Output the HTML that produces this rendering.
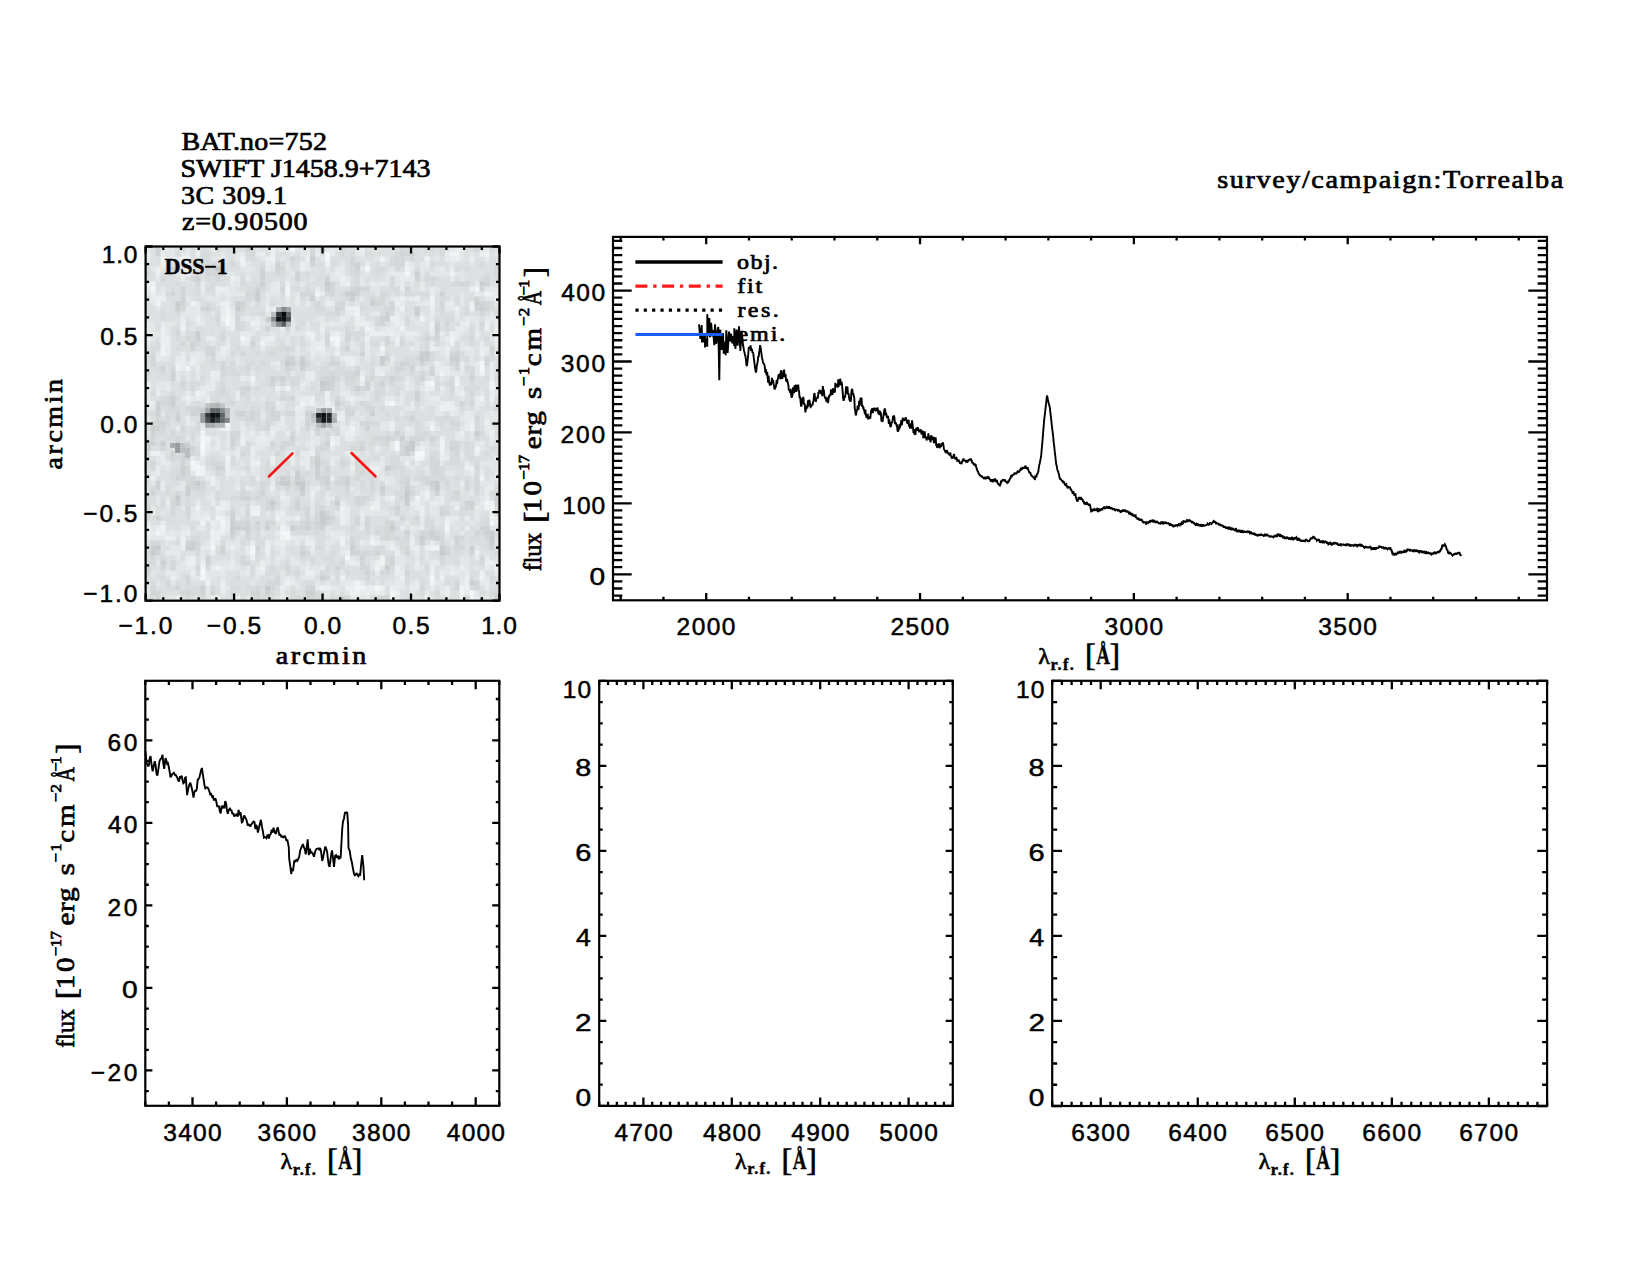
<!DOCTYPE html>
<html><head><meta charset="utf-8"><style>html,body{margin:0;padding:0;background:#fff;width:1650px;height:1275px;overflow:hidden}svg{display:block}</style></head><body>
<svg width="1650" height="1275" viewBox="0 0 1650 1275">
<rect x="0" y="0" width="1650" height="1275" fill="#fff"/>
<text transform="translate(181.46,150.40) scale(1.1200,1)" letter-spacing="0.192" style="font-variant-ligatures:none" font-family='"Liberation Serif", serif' font-weight="normal" font-size="25.00" fill="#000" stroke="#000" stroke-width="0.7" stroke-linejoin="round" >BAT.no=752</text>
<text transform="translate(180.48,177.40) scale(1.1200,1)" letter-spacing="-0.007" style="font-variant-ligatures:none" font-family='"Liberation Serif", serif' font-weight="normal" font-size="25.00" fill="#000" stroke="#000" stroke-width="0.7" stroke-linejoin="round" >SWIFT J1458.9+7143</text>
<text transform="translate(181.04,203.50) scale(1.1200,1)" letter-spacing="0.436" style="font-variant-ligatures:none" font-family='"Liberation Serif", serif' font-weight="normal" font-size="25.00" fill="#000" stroke="#000" stroke-width="0.7" stroke-linejoin="round" >3C 309.1</text>
<text transform="translate(181.90,229.70) scale(1.1200,1)" letter-spacing="0.730" style="font-variant-ligatures:none" font-family='"Liberation Serif", serif' font-weight="normal" font-size="25.00" fill="#000" stroke="#000" stroke-width="0.7" stroke-linejoin="round" >z=0.90500</text>
<text transform="translate(1217.27,187.80) scale(1.1200,1)" letter-spacing="1.399" style="font-variant-ligatures:none" font-family='"Liberation Serif", serif' font-weight="normal" font-size="25.20" fill="#000" stroke="#000" stroke-width="0.7" stroke-linejoin="round" >survey/campaign:Torrealba</text>
<rect x="145.6" y="246.5" width="353.90" height="354.20" fill="rgb(221,225,225)"/>
<path d="M145.6 246.5h5.0v4.98h-5.0zM160.6 246.5h5.0v4.98h-5.0zM170.5 246.5h5.0v4.98h-5.0zM185.5 246.5h5.0v4.98h-5.0zM255.3 246.5h5.0v4.98h-5.0zM265.2 246.5h5.0v4.98h-5.0zM275.2 246.5h5.0v4.98h-5.0zM285.2 246.5h5.0v4.98h-5.0zM295.1 246.5h15.0v4.98h-15.0zM315.1 246.5h5.0v4.98h-5.0zM325.0 246.5h5.0v4.98h-5.0zM335.0 246.5h5.0v4.98h-5.0zM354.9 246.5h5.0v4.98h-5.0zM165.5 251.5h10.0v4.98h-10.0zM180.5 251.5h5.0v4.98h-5.0zM220.4 251.5h5.0v4.98h-5.0zM235.3 251.5h5.0v4.98h-5.0zM290.2 251.5h5.0v4.98h-5.0zM300.1 251.5h5.0v4.98h-5.0zM354.9 251.5h5.0v4.98h-5.0zM459.6 251.5h5.0v4.98h-5.0zM469.6 251.5h5.0v4.98h-5.0zM494.5 251.5h5.0v4.98h-5.0zM170.5 256.5h5.0v4.98h-5.0zM210.4 256.5h10.0v4.98h-10.0zM235.3 256.5h5.0v4.98h-5.0zM260.2 256.5h5.0v4.98h-5.0zM280.2 256.5h5.0v4.98h-5.0zM320.1 256.5h5.0v4.98h-5.0zM374.9 256.5h5.0v4.98h-5.0zM384.9 256.5h5.0v4.98h-5.0zM434.7 256.5h5.0v4.98h-5.0zM459.6 256.5h5.0v4.98h-5.0zM175.5 261.5h5.0v4.98h-5.0zM220.4 261.5h5.0v4.98h-5.0zM245.3 261.5h5.0v4.98h-5.0zM285.2 261.5h5.0v4.98h-5.0zM340.0 261.5h5.0v4.98h-5.0zM379.9 261.5h5.0v4.98h-5.0zM409.8 261.5h5.0v4.98h-5.0zM419.7 261.5h5.0v4.98h-5.0zM449.7 261.5h5.0v4.98h-5.0zM469.6 261.5h5.0v4.98h-5.0zM150.6 266.4h5.0v4.98h-5.0zM160.6 266.4h5.0v4.98h-5.0zM180.5 266.4h5.0v4.98h-5.0zM190.5 266.4h5.0v4.98h-5.0zM240.3 266.4h15.0v4.98h-15.0zM270.2 266.4h5.0v4.98h-5.0zM285.2 266.4h5.0v4.98h-5.0zM305.1 266.4h5.0v4.98h-5.0zM325.0 266.4h5.0v4.98h-5.0zM359.9 266.4h5.0v4.98h-5.0zM389.8 266.4h5.0v4.98h-5.0zM419.7 266.4h10.0v4.98h-10.0zM434.7 266.4h5.0v4.98h-5.0zM175.5 271.4h5.0v4.98h-5.0zM225.4 271.4h10.0v4.98h-10.0zM245.3 271.4h5.0v4.98h-5.0zM290.2 271.4h5.0v4.98h-5.0zM330.0 271.4h5.0v4.98h-5.0zM364.9 271.4h5.0v4.98h-5.0zM384.9 271.4h5.0v4.98h-5.0zM409.8 271.4h5.0v4.98h-5.0zM419.7 271.4h5.0v4.98h-5.0zM429.7 271.4h19.9v4.98h-19.9zM454.6 271.4h10.0v4.98h-10.0zM155.6 276.4h5.0v4.98h-5.0zM285.2 276.4h5.0v4.98h-5.0zM310.1 276.4h5.0v4.98h-5.0zM330.0 276.4h10.0v4.98h-10.0zM359.9 276.4h5.0v4.98h-5.0zM384.9 276.4h5.0v4.98h-5.0zM394.8 276.4h5.0v4.98h-5.0zM459.6 276.4h5.0v4.98h-5.0zM235.3 281.4h5.0v4.98h-5.0zM270.2 281.4h5.0v4.98h-5.0zM300.1 281.4h5.0v4.98h-5.0zM359.9 281.4h5.0v4.98h-5.0zM374.9 281.4h5.0v4.98h-5.0zM384.9 281.4h5.0v4.98h-5.0zM394.8 281.4h5.0v4.98h-5.0zM409.8 281.4h5.0v4.98h-5.0zM160.6 286.4h5.0v4.98h-5.0zM230.3 286.4h5.0v4.98h-5.0zM369.9 286.4h10.0v4.98h-10.0zM434.7 286.4h5.0v4.98h-5.0zM484.5 286.4h15.0v4.98h-15.0zM145.6 291.4h5.0v4.98h-5.0zM155.6 291.4h5.0v4.98h-5.0zM200.4 291.4h5.0v4.98h-5.0zM220.4 291.4h5.0v4.98h-5.0zM230.3 291.4h15.0v4.98h-15.0zM270.2 291.4h10.0v4.98h-10.0zM295.1 291.4h5.0v4.98h-5.0zM374.9 291.4h5.0v4.98h-5.0zM459.6 291.4h5.0v4.98h-5.0zM479.6 291.4h5.0v4.98h-5.0zM185.5 296.3h5.0v4.98h-5.0zM205.4 296.3h15.0v4.98h-15.0zM225.4 296.3h5.0v4.98h-5.0zM265.2 296.3h5.0v4.98h-5.0zM315.1 296.3h5.0v4.98h-5.0zM325.0 296.3h5.0v4.98h-5.0zM359.9 296.3h5.0v4.98h-5.0zM389.8 296.3h5.0v4.98h-5.0zM404.8 296.3h5.0v4.98h-5.0zM449.7 296.3h5.0v4.98h-5.0zM459.6 296.3h5.0v4.98h-5.0zM484.5 296.3h10.0v4.98h-10.0zM150.6 301.3h5.0v4.98h-5.0zM215.4 301.3h5.0v4.98h-5.0zM250.3 301.3h5.0v4.98h-5.0zM285.2 301.3h5.0v4.98h-5.0zM345.0 301.3h5.0v4.98h-5.0zM354.9 301.3h5.0v4.98h-5.0zM414.8 301.3h10.0v4.98h-10.0zM459.6 301.3h5.0v4.98h-5.0zM494.5 301.3h5.0v4.98h-5.0zM155.6 306.3h5.0v4.98h-5.0zM185.5 306.3h10.0v4.98h-10.0zM230.3 306.3h5.0v4.98h-5.0zM394.8 306.3h5.0v4.98h-5.0zM444.7 306.3h10.0v4.98h-10.0zM180.5 311.3h15.0v4.98h-15.0zM210.4 311.3h5.0v4.98h-5.0zM265.2 311.3h5.0v4.98h-5.0zM369.9 311.3h5.0v4.98h-5.0zM399.8 311.3h5.0v4.98h-5.0zM419.7 311.3h5.0v4.98h-5.0zM489.5 311.3h5.0v4.98h-5.0zM190.5 316.3h5.0v4.98h-5.0zM200.4 316.3h5.0v4.98h-5.0zM240.3 316.3h5.0v4.98h-5.0zM250.3 316.3h5.0v4.98h-5.0zM270.2 316.3h5.0v4.98h-5.0zM290.2 316.3h5.0v4.98h-5.0zM315.1 316.3h10.0v4.98h-10.0zM345.0 316.3h5.0v4.98h-5.0zM399.8 316.3h5.0v4.98h-5.0zM409.8 316.3h5.0v4.98h-5.0zM424.7 316.3h10.0v4.98h-10.0zM454.6 316.3h5.0v4.98h-5.0zM469.6 316.3h10.0v4.98h-10.0zM484.5 316.3h5.0v4.98h-5.0zM494.5 316.3h5.0v4.98h-5.0zM150.6 321.3h5.0v4.98h-5.0zM165.5 321.3h10.0v4.98h-10.0zM220.4 321.3h5.0v4.98h-5.0zM260.2 321.3h5.0v4.98h-5.0zM280.2 321.3h5.0v4.98h-5.0zM290.2 321.3h5.0v4.98h-5.0zM305.1 321.3h5.0v4.98h-5.0zM325.0 321.3h5.0v4.98h-5.0zM335.0 321.3h10.0v4.98h-10.0zM369.9 321.3h5.0v4.98h-5.0zM389.8 321.3h5.0v4.98h-5.0zM414.8 321.3h10.0v4.98h-10.0zM474.6 321.3h5.0v4.98h-5.0zM150.6 326.3h5.0v4.98h-5.0zM165.5 326.3h5.0v4.98h-5.0zM190.5 326.3h5.0v4.98h-5.0zM225.4 326.3h5.0v4.98h-5.0zM250.3 326.3h5.0v4.98h-5.0zM290.2 326.3h5.0v4.98h-5.0zM305.1 326.3h5.0v4.98h-5.0zM379.9 326.3h5.0v4.98h-5.0zM394.8 326.3h5.0v4.98h-5.0zM464.6 326.3h5.0v4.98h-5.0zM474.6 326.3h5.0v4.98h-5.0zM155.6 331.2h5.0v4.98h-5.0zM165.5 331.2h5.0v4.98h-5.0zM180.5 331.2h5.0v4.98h-5.0zM250.3 331.2h5.0v4.98h-5.0zM270.2 331.2h5.0v4.98h-5.0zM280.2 331.2h5.0v4.98h-5.0zM290.2 331.2h15.0v4.98h-15.0zM340.0 331.2h5.0v4.98h-5.0zM399.8 331.2h5.0v4.98h-5.0zM459.6 331.2h5.0v4.98h-5.0zM489.5 331.2h5.0v4.98h-5.0zM150.6 336.2h5.0v4.98h-5.0zM225.4 336.2h5.0v4.98h-5.0zM285.2 336.2h5.0v4.98h-5.0zM305.1 336.2h5.0v4.98h-5.0zM320.1 336.2h5.0v4.98h-5.0zM340.0 336.2h5.0v4.98h-5.0zM389.8 336.2h5.0v4.98h-5.0zM404.8 336.2h10.0v4.98h-10.0zM439.7 336.2h5.0v4.98h-5.0zM474.6 336.2h5.0v4.98h-5.0zM489.5 336.2h5.0v4.98h-5.0zM145.6 341.2h5.0v4.98h-5.0zM210.4 341.2h5.0v4.98h-5.0zM270.2 341.2h5.0v4.98h-5.0zM285.2 341.2h5.0v4.98h-5.0zM350.0 341.2h5.0v4.98h-5.0zM379.9 341.2h5.0v4.98h-5.0zM414.8 341.2h5.0v4.98h-5.0zM444.7 341.2h5.0v4.98h-5.0zM459.6 341.2h5.0v4.98h-5.0zM295.1 346.2h5.0v4.98h-5.0zM305.1 346.2h5.0v4.98h-5.0zM350.0 346.2h10.0v4.98h-10.0zM414.8 346.2h5.0v4.98h-5.0zM439.7 346.2h5.0v4.98h-5.0zM459.6 346.2h5.0v4.98h-5.0zM469.6 346.2h5.0v4.98h-5.0zM494.5 346.2h5.0v4.98h-5.0zM155.6 351.2h5.0v4.98h-5.0zM190.5 351.2h5.0v4.98h-5.0zM200.4 351.2h5.0v4.98h-5.0zM215.4 351.2h5.0v4.98h-5.0zM225.4 351.2h5.0v4.98h-5.0zM295.1 351.2h5.0v4.98h-5.0zM315.1 351.2h5.0v4.98h-5.0zM325.0 351.2h5.0v4.98h-5.0zM374.9 351.2h5.0v4.98h-5.0zM439.7 351.2h5.0v4.98h-5.0zM464.6 351.2h10.0v4.98h-10.0zM484.5 351.2h5.0v4.98h-5.0zM160.6 356.2h10.0v4.98h-10.0zM200.4 356.2h5.0v4.98h-5.0zM215.4 356.2h10.0v4.98h-10.0zM235.3 356.2h5.0v4.98h-5.0zM310.1 356.2h5.0v4.98h-5.0zM320.1 356.2h5.0v4.98h-5.0zM354.9 356.2h5.0v4.98h-5.0zM364.9 356.2h5.0v4.98h-5.0zM444.7 356.2h5.0v4.98h-5.0zM469.6 356.2h5.0v4.98h-5.0zM479.6 356.2h5.0v4.98h-5.0zM185.5 361.1h5.0v4.98h-5.0zM195.4 361.1h5.0v4.98h-5.0zM235.3 361.1h5.0v4.98h-5.0zM270.2 361.1h5.0v4.98h-5.0zM315.1 361.1h5.0v4.98h-5.0zM354.9 361.1h5.0v4.98h-5.0zM389.8 361.1h5.0v4.98h-5.0zM439.7 361.1h5.0v4.98h-5.0zM469.6 361.1h5.0v4.98h-5.0zM275.2 366.1h5.0v4.98h-5.0zM379.9 366.1h10.0v4.98h-10.0zM414.8 366.1h5.0v4.98h-5.0zM424.7 366.1h5.0v4.98h-5.0zM474.6 366.1h5.0v4.98h-5.0zM175.5 371.1h5.0v4.98h-5.0zM185.5 371.1h5.0v4.98h-5.0zM195.4 371.1h5.0v4.98h-5.0zM250.3 371.1h5.0v4.98h-5.0zM290.2 371.1h5.0v4.98h-5.0zM434.7 371.1h5.0v4.98h-5.0zM449.7 371.1h15.0v4.98h-15.0zM474.6 371.1h5.0v4.98h-5.0zM175.5 376.1h5.0v4.98h-5.0zM185.5 376.1h5.0v4.98h-5.0zM195.4 376.1h5.0v4.98h-5.0zM245.3 376.1h5.0v4.98h-5.0zM404.8 376.1h5.0v4.98h-5.0zM429.7 376.1h5.0v4.98h-5.0zM439.7 376.1h5.0v4.98h-5.0zM155.6 381.1h15.0v4.98h-15.0zM205.4 381.1h5.0v4.98h-5.0zM305.1 381.1h5.0v4.98h-5.0zM340.0 381.1h5.0v4.98h-5.0zM409.8 381.1h5.0v4.98h-5.0zM155.6 386.1h10.0v4.98h-10.0zM280.2 386.1h5.0v4.98h-5.0zM300.1 386.1h5.0v4.98h-5.0zM340.0 386.1h5.0v4.98h-5.0zM369.9 386.1h5.0v4.98h-5.0zM384.9 386.1h5.0v4.98h-5.0zM409.8 386.1h5.0v4.98h-5.0zM419.7 386.1h5.0v4.98h-5.0zM459.6 386.1h5.0v4.98h-5.0zM494.5 386.1h5.0v4.98h-5.0zM145.6 391.1h5.0v4.98h-5.0zM205.4 391.1h5.0v4.98h-5.0zM275.2 391.1h5.0v4.98h-5.0zM295.1 391.1h5.0v4.98h-5.0zM364.9 391.1h5.0v4.98h-5.0zM399.8 391.1h5.0v4.98h-5.0zM424.7 391.1h5.0v4.98h-5.0zM439.7 391.1h5.0v4.98h-5.0zM479.6 391.1h5.0v4.98h-5.0zM494.5 391.1h5.0v4.98h-5.0zM145.6 396.0h5.0v4.98h-5.0zM180.5 396.0h5.0v4.98h-5.0zM190.5 396.0h5.0v4.98h-5.0zM200.4 396.0h5.0v4.98h-5.0zM250.3 396.0h5.0v4.98h-5.0zM260.2 396.0h5.0v4.98h-5.0zM295.1 396.0h5.0v4.98h-5.0zM354.9 396.0h15.0v4.98h-15.0zM424.7 396.0h5.0v4.98h-5.0zM459.6 396.0h5.0v4.98h-5.0zM185.5 401.0h5.0v4.98h-5.0zM280.2 401.0h5.0v4.98h-5.0zM295.1 401.0h5.0v4.98h-5.0zM330.0 401.0h5.0v4.98h-5.0zM350.0 401.0h5.0v4.98h-5.0zM394.8 401.0h10.0v4.98h-10.0zM424.7 401.0h15.0v4.98h-15.0zM479.6 401.0h5.0v4.98h-5.0zM489.5 401.0h5.0v4.98h-5.0zM150.6 406.0h5.0v4.98h-5.0zM275.2 406.0h10.0v4.98h-10.0zM315.1 406.0h10.0v4.98h-10.0zM404.8 406.0h5.0v4.98h-5.0zM419.7 406.0h5.0v4.98h-5.0zM434.7 406.0h5.0v4.98h-5.0zM454.6 406.0h5.0v4.98h-5.0zM474.6 406.0h5.0v4.98h-5.0zM160.6 411.0h5.0v4.98h-5.0zM260.2 411.0h5.0v4.98h-5.0zM300.1 411.0h5.0v4.98h-5.0zM315.1 411.0h5.0v4.98h-5.0zM325.0 411.0h15.0v4.98h-15.0zM354.9 411.0h5.0v4.98h-5.0zM399.8 411.0h5.0v4.98h-5.0zM434.7 411.0h10.0v4.98h-10.0zM454.6 411.0h5.0v4.98h-5.0zM469.6 411.0h5.0v4.98h-5.0zM484.5 411.0h5.0v4.98h-5.0zM494.5 411.0h5.0v4.98h-5.0zM220.4 416.0h5.0v4.98h-5.0zM260.2 416.0h5.0v4.98h-5.0zM315.1 416.0h5.0v4.98h-5.0zM325.0 416.0h10.0v4.98h-10.0zM359.9 416.0h5.0v4.98h-5.0zM459.6 416.0h5.0v4.98h-5.0zM489.5 416.0h10.0v4.98h-10.0zM190.5 421.0h5.0v4.98h-5.0zM200.4 421.0h5.0v4.98h-5.0zM215.4 421.0h5.0v4.98h-5.0zM240.3 421.0h5.0v4.98h-5.0zM275.2 421.0h5.0v4.98h-5.0zM300.1 421.0h5.0v4.98h-5.0zM325.0 421.0h5.0v4.98h-5.0zM340.0 421.0h5.0v4.98h-5.0zM354.9 421.0h5.0v4.98h-5.0zM379.9 421.0h10.0v4.98h-10.0zM424.7 421.0h5.0v4.98h-5.0zM215.4 425.9h5.0v4.98h-5.0zM250.3 425.9h5.0v4.98h-5.0zM280.2 425.9h5.0v4.98h-5.0zM354.9 425.9h5.0v4.98h-5.0zM379.9 425.9h10.0v4.98h-10.0zM409.8 425.9h5.0v4.98h-5.0zM434.7 425.9h5.0v4.98h-5.0zM459.6 425.9h5.0v4.98h-5.0zM145.6 430.9h5.0v4.98h-5.0zM225.4 430.9h5.0v4.98h-5.0zM245.3 430.9h5.0v4.98h-5.0zM295.1 430.9h5.0v4.98h-5.0zM340.0 430.9h5.0v4.98h-5.0zM354.9 430.9h5.0v4.98h-5.0zM404.8 430.9h10.0v4.98h-10.0zM454.6 430.9h5.0v4.98h-5.0zM469.6 430.9h5.0v4.98h-5.0zM484.5 430.9h5.0v4.98h-5.0zM185.5 435.9h5.0v4.98h-5.0zM195.4 435.9h5.0v4.98h-5.0zM210.4 435.9h10.0v4.98h-10.0zM225.4 435.9h5.0v4.98h-5.0zM245.3 435.9h10.0v4.98h-10.0zM270.2 435.9h5.0v4.98h-5.0zM310.1 435.9h10.0v4.98h-10.0zM454.6 435.9h10.0v4.98h-10.0zM469.6 435.9h5.0v4.98h-5.0zM225.4 440.9h5.0v4.98h-5.0zM265.2 440.9h5.0v4.98h-5.0zM295.1 440.9h5.0v4.98h-5.0zM305.1 440.9h5.0v4.98h-5.0zM315.1 440.9h5.0v4.98h-5.0zM389.8 440.9h5.0v4.98h-5.0zM419.7 440.9h10.0v4.98h-10.0zM474.6 440.9h5.0v4.98h-5.0zM489.5 440.9h5.0v4.98h-5.0zM210.4 445.9h5.0v4.98h-5.0zM225.4 445.9h5.0v4.98h-5.0zM235.3 445.9h5.0v4.98h-5.0zM255.3 445.9h10.0v4.98h-10.0zM389.8 445.9h5.0v4.98h-5.0zM414.8 445.9h5.0v4.98h-5.0zM424.7 445.9h5.0v4.98h-5.0zM479.6 445.9h5.0v4.98h-5.0zM160.6 450.9h5.0v4.98h-5.0zM205.4 450.9h5.0v4.98h-5.0zM220.4 450.9h5.0v4.98h-5.0zM230.3 450.9h5.0v4.98h-5.0zM285.2 450.9h5.0v4.98h-5.0zM350.0 450.9h10.0v4.98h-10.0zM364.9 450.9h5.0v4.98h-5.0zM424.7 450.9h5.0v4.98h-5.0zM444.7 450.9h5.0v4.98h-5.0zM459.6 450.9h5.0v4.98h-5.0zM155.6 455.8h5.0v4.98h-5.0zM235.3 455.8h5.0v4.98h-5.0zM255.3 455.8h5.0v4.98h-5.0zM285.2 455.8h5.0v4.98h-5.0zM300.1 455.8h5.0v4.98h-5.0zM330.0 455.8h10.0v4.98h-10.0zM379.9 455.8h5.0v4.98h-5.0zM399.8 455.8h15.0v4.98h-15.0zM459.6 455.8h5.0v4.98h-5.0zM200.4 460.8h5.0v4.98h-5.0zM240.3 460.8h5.0v4.98h-5.0zM369.9 460.8h10.0v4.98h-10.0zM439.7 460.8h5.0v4.98h-5.0zM479.6 460.8h19.9v4.98h-19.9zM165.5 465.8h5.0v4.98h-5.0zM255.3 465.8h5.0v4.98h-5.0zM379.9 465.8h5.0v4.98h-5.0zM409.8 465.8h5.0v4.98h-5.0zM424.7 465.8h5.0v4.98h-5.0zM479.6 465.8h5.0v4.98h-5.0zM489.5 465.8h10.0v4.98h-10.0zM150.6 470.8h5.0v4.98h-5.0zM190.5 470.8h5.0v4.98h-5.0zM205.4 470.8h5.0v4.98h-5.0zM235.3 470.8h5.0v4.98h-5.0zM250.3 470.8h10.0v4.98h-10.0zM270.2 470.8h5.0v4.98h-5.0zM290.2 470.8h5.0v4.98h-5.0zM350.0 470.8h5.0v4.98h-5.0zM369.9 470.8h5.0v4.98h-5.0zM379.9 470.8h5.0v4.98h-5.0zM424.7 470.8h5.0v4.98h-5.0zM444.7 470.8h10.0v4.98h-10.0zM464.6 470.8h5.0v4.98h-5.0zM225.4 475.8h5.0v4.98h-5.0zM235.3 475.8h5.0v4.98h-5.0zM270.2 475.8h5.0v4.98h-5.0zM384.9 475.8h10.0v4.98h-10.0zM489.5 475.8h5.0v4.98h-5.0zM150.6 480.8h5.0v4.98h-5.0zM180.5 480.8h5.0v4.98h-5.0zM215.4 480.8h5.0v4.98h-5.0zM235.3 480.8h5.0v4.98h-5.0zM389.8 480.8h5.0v4.98h-5.0zM409.8 480.8h10.0v4.98h-10.0zM479.6 480.8h15.0v4.98h-15.0zM175.5 485.8h10.0v4.98h-10.0zM215.4 485.8h5.0v4.98h-5.0zM250.3 485.8h5.0v4.98h-5.0zM310.1 485.8h5.0v4.98h-5.0zM350.0 485.8h5.0v4.98h-5.0zM424.7 485.8h5.0v4.98h-5.0zM459.6 485.8h5.0v4.98h-5.0zM210.4 490.7h5.0v4.98h-5.0zM270.2 490.7h5.0v4.98h-5.0zM325.0 490.7h5.0v4.98h-5.0zM354.9 490.7h5.0v4.98h-5.0zM374.9 490.7h5.0v4.98h-5.0zM439.7 490.7h5.0v4.98h-5.0zM469.6 490.7h5.0v4.98h-5.0zM155.6 495.7h5.0v4.98h-5.0zM165.5 495.7h5.0v4.98h-5.0zM205.4 495.7h10.0v4.98h-10.0zM330.0 495.7h5.0v4.98h-5.0zM419.7 495.7h5.0v4.98h-5.0zM434.7 495.7h5.0v4.98h-5.0zM479.6 495.7h5.0v4.98h-5.0zM155.6 500.7h5.0v4.98h-5.0zM250.3 500.7h5.0v4.98h-5.0zM280.2 500.7h10.0v4.98h-10.0zM310.1 500.7h5.0v4.98h-5.0zM325.0 500.7h5.0v4.98h-5.0zM389.8 500.7h5.0v4.98h-5.0zM419.7 500.7h5.0v4.98h-5.0zM449.7 500.7h10.0v4.98h-10.0zM150.6 505.7h5.0v4.98h-5.0zM165.5 505.7h5.0v4.98h-5.0zM180.5 505.7h5.0v4.98h-5.0zM190.5 505.7h5.0v4.98h-5.0zM240.3 505.7h5.0v4.98h-5.0zM280.2 505.7h5.0v4.98h-5.0zM310.1 505.7h5.0v4.98h-5.0zM359.9 505.7h10.0v4.98h-10.0zM409.8 505.7h5.0v4.98h-5.0zM429.7 505.7h10.0v4.98h-10.0zM479.6 505.7h5.0v4.98h-5.0zM160.6 510.7h5.0v4.98h-5.0zM190.5 510.7h5.0v4.98h-5.0zM200.4 510.7h10.0v4.98h-10.0zM220.4 510.7h5.0v4.98h-5.0zM240.3 510.7h5.0v4.98h-5.0zM265.2 510.7h5.0v4.98h-5.0zM310.1 510.7h5.0v4.98h-5.0zM335.0 510.7h5.0v4.98h-5.0zM364.9 510.7h24.9v4.98h-24.9zM409.8 510.7h5.0v4.98h-5.0zM429.7 510.7h10.0v4.98h-10.0zM474.6 510.7h5.0v4.98h-5.0zM190.5 515.7h5.0v4.98h-5.0zM225.4 515.7h5.0v4.98h-5.0zM235.3 515.7h5.0v4.98h-5.0zM290.2 515.7h5.0v4.98h-5.0zM389.8 515.7h10.0v4.98h-10.0zM434.7 515.7h5.0v4.98h-5.0zM474.6 515.7h5.0v4.98h-5.0zM275.2 520.6h5.0v4.98h-5.0zM345.0 520.6h5.0v4.98h-5.0zM359.9 520.6h5.0v4.98h-5.0zM404.8 520.6h5.0v4.98h-5.0zM419.7 520.6h5.0v4.98h-5.0zM434.7 520.6h5.0v4.98h-5.0zM449.7 520.6h5.0v4.98h-5.0zM469.6 520.6h5.0v4.98h-5.0zM150.6 525.6h5.0v4.98h-5.0zM180.5 525.6h10.0v4.98h-10.0zM195.4 525.6h5.0v4.98h-5.0zM215.4 525.6h5.0v4.98h-5.0zM325.0 525.6h5.0v4.98h-5.0zM414.8 525.6h5.0v4.98h-5.0zM454.6 525.6h5.0v4.98h-5.0zM489.5 525.6h10.0v4.98h-10.0zM165.5 530.6h5.0v4.98h-5.0zM175.5 530.6h5.0v4.98h-5.0zM225.4 530.6h5.0v4.98h-5.0zM240.3 530.6h5.0v4.98h-5.0zM260.2 530.6h5.0v4.98h-5.0zM325.0 530.6h5.0v4.98h-5.0zM335.0 530.6h10.0v4.98h-10.0zM409.8 530.6h5.0v4.98h-5.0zM459.6 530.6h5.0v4.98h-5.0zM150.6 535.6h15.0v4.98h-15.0zM235.3 535.6h5.0v4.98h-5.0zM275.2 535.6h5.0v4.98h-5.0zM295.1 535.6h10.0v4.98h-10.0zM310.1 535.6h5.0v4.98h-5.0zM330.0 535.6h5.0v4.98h-5.0zM345.0 535.6h5.0v4.98h-5.0zM374.9 535.6h5.0v4.98h-5.0zM444.7 535.6h5.0v4.98h-5.0zM165.5 540.6h5.0v4.98h-5.0zM205.4 540.6h5.0v4.98h-5.0zM215.4 540.6h5.0v4.98h-5.0zM225.4 540.6h15.0v4.98h-15.0zM270.2 540.6h5.0v4.98h-5.0zM285.2 540.6h5.0v4.98h-5.0zM325.0 540.6h10.0v4.98h-10.0zM364.9 540.6h5.0v4.98h-5.0zM379.9 540.6h10.0v4.98h-10.0zM449.7 540.6h5.0v4.98h-5.0zM494.5 540.6h5.0v4.98h-5.0zM170.5 545.6h10.0v4.98h-10.0zM225.4 545.6h5.0v4.98h-5.0zM235.3 545.6h5.0v4.98h-5.0zM275.2 545.6h5.0v4.98h-5.0zM325.0 545.6h5.0v4.98h-5.0zM340.0 545.6h10.0v4.98h-10.0zM384.9 545.6h5.0v4.98h-5.0zM394.8 545.6h5.0v4.98h-5.0zM474.6 545.6h5.0v4.98h-5.0zM200.4 550.6h5.0v4.98h-5.0zM230.3 550.6h5.0v4.98h-5.0zM310.1 550.6h5.0v4.98h-5.0zM424.7 550.6h5.0v4.98h-5.0zM175.5 555.5h5.0v4.98h-5.0zM200.4 555.5h5.0v4.98h-5.0zM230.3 555.5h5.0v4.98h-5.0zM265.2 555.5h5.0v4.98h-5.0zM280.2 555.5h5.0v4.98h-5.0zM290.2 555.5h5.0v4.98h-5.0zM350.0 555.5h5.0v4.98h-5.0zM394.8 555.5h10.0v4.98h-10.0zM414.8 555.5h5.0v4.98h-5.0zM424.7 555.5h5.0v4.98h-5.0zM459.6 555.5h10.0v4.98h-10.0zM155.6 560.5h5.0v4.98h-5.0zM180.5 560.5h5.0v4.98h-5.0zM215.4 560.5h15.0v4.98h-15.0zM265.2 560.5h5.0v4.98h-5.0zM275.2 560.5h5.0v4.98h-5.0zM290.2 560.5h5.0v4.98h-5.0zM305.1 560.5h5.0v4.98h-5.0zM369.9 560.5h5.0v4.98h-5.0zM394.8 560.5h10.0v4.98h-10.0zM459.6 560.5h10.0v4.98h-10.0zM494.5 560.5h5.0v4.98h-5.0zM175.5 565.5h10.0v4.98h-10.0zM225.4 565.5h5.0v4.98h-5.0zM235.3 565.5h5.0v4.98h-5.0zM245.3 565.5h5.0v4.98h-5.0zM300.1 565.5h5.0v4.98h-5.0zM310.1 565.5h10.0v4.98h-10.0zM369.9 565.5h5.0v4.98h-5.0zM379.9 565.5h5.0v4.98h-5.0zM399.8 565.5h5.0v4.98h-5.0zM419.7 565.5h5.0v4.98h-5.0zM444.7 565.5h5.0v4.98h-5.0zM454.6 565.5h5.0v4.98h-5.0zM464.6 565.5h5.0v4.98h-5.0zM474.6 565.5h5.0v4.98h-5.0zM489.5 565.5h5.0v4.98h-5.0zM150.6 570.5h5.0v4.98h-5.0zM170.5 570.5h10.0v4.98h-10.0zM205.4 570.5h15.0v4.98h-15.0zM240.3 570.5h5.0v4.98h-5.0zM280.2 570.5h5.0v4.98h-5.0zM315.1 570.5h5.0v4.98h-5.0zM340.0 570.5h5.0v4.98h-5.0zM444.7 570.5h5.0v4.98h-5.0zM459.6 570.5h5.0v4.98h-5.0zM175.5 575.5h5.0v4.98h-5.0zM190.5 575.5h10.0v4.98h-10.0zM210.4 575.5h5.0v4.98h-5.0zM220.4 575.5h5.0v4.98h-5.0zM255.3 575.5h5.0v4.98h-5.0zM280.2 575.5h5.0v4.98h-5.0zM290.2 575.5h5.0v4.98h-5.0zM300.1 575.5h15.0v4.98h-15.0zM330.0 575.5h5.0v4.98h-5.0zM394.8 575.5h5.0v4.98h-5.0zM459.6 575.5h5.0v4.98h-5.0zM484.5 575.5h5.0v4.98h-5.0zM155.6 580.5h5.0v4.98h-5.0zM170.5 580.5h5.0v4.98h-5.0zM250.3 580.5h5.0v4.98h-5.0zM280.2 580.5h5.0v4.98h-5.0zM295.1 580.5h5.0v4.98h-5.0zM315.1 580.5h5.0v4.98h-5.0zM325.0 580.5h5.0v4.98h-5.0zM340.0 580.5h5.0v4.98h-5.0zM374.9 580.5h5.0v4.98h-5.0zM384.9 580.5h10.0v4.98h-10.0zM409.8 580.5h5.0v4.98h-5.0zM434.7 580.5h10.0v4.98h-10.0zM145.6 585.4h5.0v4.98h-5.0zM205.4 585.4h5.0v4.98h-5.0zM225.4 585.4h5.0v4.98h-5.0zM285.2 585.4h5.0v4.98h-5.0zM295.1 585.4h5.0v4.98h-5.0zM335.0 585.4h5.0v4.98h-5.0zM399.8 585.4h5.0v4.98h-5.0zM439.7 585.4h5.0v4.98h-5.0zM145.6 590.4h5.0v4.98h-5.0zM205.4 590.4h5.0v4.98h-5.0zM335.0 590.4h5.0v4.98h-5.0zM345.0 590.4h5.0v4.98h-5.0zM369.9 590.4h5.0v4.98h-5.0zM474.6 590.4h5.0v4.98h-5.0zM165.5 595.4h10.0v4.98h-10.0zM195.4 595.4h5.0v4.98h-5.0zM205.4 595.4h5.0v4.98h-5.0zM275.2 595.4h5.0v4.98h-5.0zM325.0 595.4h5.0v4.98h-5.0zM359.9 595.4h5.0v4.98h-5.0zM414.8 595.4h5.0v4.98h-5.0zM429.7 595.4h5.0v4.98h-5.0zM484.5 595.4h5.0v4.98h-5.0z" fill="rgb(227,231,231)"/>
<path d="M155.6 246.5h5.0v4.98h-5.0zM245.3 246.5h5.0v4.98h-5.0zM320.1 246.5h5.0v4.98h-5.0zM155.6 251.5h5.0v4.98h-5.0zM399.8 251.5h5.0v4.98h-5.0zM409.8 251.5h5.0v4.98h-5.0zM290.2 256.5h5.0v4.98h-5.0zM275.2 261.5h5.0v4.98h-5.0zM310.1 261.5h5.0v4.98h-5.0zM354.9 261.5h5.0v4.98h-5.0zM170.5 266.4h5.0v4.98h-5.0zM205.4 266.4h5.0v4.98h-5.0zM260.2 266.4h5.0v4.98h-5.0zM275.2 266.4h5.0v4.98h-5.0zM354.9 266.4h5.0v4.98h-5.0zM215.4 271.4h5.0v4.98h-5.0zM260.2 271.4h5.0v4.98h-5.0zM295.1 271.4h5.0v4.98h-5.0zM260.2 276.4h5.0v4.98h-5.0zM295.1 276.4h5.0v4.98h-5.0zM325.0 276.4h5.0v4.98h-5.0zM414.8 276.4h5.0v4.98h-5.0zM459.6 281.4h5.0v4.98h-5.0zM484.5 281.4h5.0v4.98h-5.0zM180.5 286.4h5.0v4.98h-5.0zM255.3 286.4h5.0v4.98h-5.0zM280.2 286.4h5.0v4.98h-5.0zM354.9 286.4h5.0v4.98h-5.0zM404.8 286.4h5.0v4.98h-5.0zM170.5 291.4h5.0v4.98h-5.0zM354.9 291.4h5.0v4.98h-5.0zM439.7 291.4h5.0v4.98h-5.0zM180.5 296.3h5.0v4.98h-5.0zM474.6 296.3h5.0v4.98h-5.0zM180.5 301.3h5.0v4.98h-5.0zM240.3 301.3h5.0v4.98h-5.0zM479.6 301.3h5.0v4.98h-5.0zM205.4 306.3h5.0v4.98h-5.0zM335.0 306.3h5.0v4.98h-5.0zM389.8 306.3h5.0v4.98h-5.0zM474.6 306.3h5.0v4.98h-5.0zM484.5 306.3h5.0v4.98h-5.0zM384.9 311.3h5.0v4.98h-5.0zM379.9 316.3h5.0v4.98h-5.0zM379.9 321.3h5.0v4.98h-5.0zM434.7 321.3h5.0v4.98h-5.0zM265.2 326.3h5.0v4.98h-5.0zM434.7 331.2h5.0v4.98h-5.0zM345.0 336.2h5.0v4.98h-5.0zM424.7 336.2h5.0v4.98h-5.0zM434.7 336.2h5.0v4.98h-5.0zM190.5 341.2h5.0v4.98h-5.0zM250.3 341.2h5.0v4.98h-5.0zM190.5 346.2h5.0v4.98h-5.0zM345.0 346.2h5.0v4.98h-5.0zM489.5 346.2h5.0v4.98h-5.0zM210.4 351.2h5.0v4.98h-5.0zM359.9 351.2h5.0v4.98h-5.0zM454.6 351.2h5.0v4.98h-5.0zM285.2 356.2h10.0v4.98h-10.0zM384.9 356.2h5.0v4.98h-5.0zM330.0 361.1h5.0v4.98h-5.0zM399.8 361.1h5.0v4.98h-5.0zM419.7 361.1h5.0v4.98h-5.0zM454.6 361.1h5.0v4.98h-5.0zM160.6 366.1h5.0v4.98h-5.0zM285.2 366.1h5.0v4.98h-5.0zM409.8 366.1h5.0v4.98h-5.0zM170.5 371.1h5.0v4.98h-5.0zM354.9 371.1h5.0v4.98h-5.0zM429.7 371.1h5.0v4.98h-5.0zM170.5 376.1h5.0v4.98h-5.0zM270.2 376.1h5.0v4.98h-5.0zM325.0 376.1h10.0v4.98h-10.0zM389.8 376.1h5.0v4.98h-5.0zM419.7 376.1h5.0v4.98h-5.0zM469.6 376.1h5.0v4.98h-5.0zM270.2 381.1h5.0v4.98h-5.0zM330.0 381.1h5.0v4.98h-5.0zM364.9 381.1h5.0v4.98h-5.0zM379.9 381.1h5.0v4.98h-5.0zM245.3 386.1h5.0v4.98h-5.0zM325.0 386.1h5.0v4.98h-5.0zM364.9 386.1h5.0v4.98h-5.0zM414.8 391.1h5.0v4.98h-5.0zM414.8 396.0h5.0v4.98h-5.0zM155.6 401.0h5.0v4.98h-5.0zM215.4 401.0h5.0v4.98h-5.0zM195.4 406.0h5.0v4.98h-5.0zM155.6 411.0h5.0v4.98h-5.0zM175.5 411.0h5.0v4.98h-5.0zM190.5 411.0h5.0v4.98h-5.0zM235.3 411.0h10.0v4.98h-10.0zM250.3 411.0h5.0v4.98h-5.0zM270.2 411.0h5.0v4.98h-5.0zM305.1 411.0h5.0v4.98h-5.0zM250.3 416.0h5.0v4.98h-5.0zM409.8 416.0h5.0v4.98h-5.0zM160.6 421.0h5.0v4.98h-5.0zM305.1 421.0h5.0v4.98h-5.0zM155.6 425.9h5.0v4.98h-5.0zM315.1 425.9h5.0v4.98h-5.0zM364.9 425.9h5.0v4.98h-5.0zM150.6 430.9h5.0v4.98h-5.0zM394.8 430.9h5.0v4.98h-5.0zM230.3 435.9h5.0v4.98h-5.0zM290.2 435.9h5.0v4.98h-5.0zM384.9 435.9h5.0v4.98h-5.0zM429.7 435.9h5.0v4.98h-5.0zM150.6 440.9h5.0v4.98h-5.0zM175.5 440.9h5.0v4.98h-5.0zM230.3 440.9h5.0v4.98h-5.0zM325.0 440.9h5.0v4.98h-5.0zM404.8 440.9h5.0v4.98h-5.0zM190.5 445.9h5.0v4.98h-5.0zM359.9 445.9h5.0v4.98h-5.0zM449.7 445.9h5.0v4.98h-5.0zM170.5 450.9h5.0v4.98h-5.0zM180.5 455.8h5.0v4.98h-5.0zM180.5 460.8h5.0v4.98h-5.0zM215.4 465.8h10.0v4.98h-10.0zM175.5 475.8h5.0v4.98h-5.0zM285.2 475.8h5.0v4.98h-5.0zM315.1 475.8h15.0v4.98h-15.0zM345.0 475.8h5.0v4.98h-5.0zM155.6 480.8h5.0v4.98h-5.0zM190.5 480.8h5.0v4.98h-5.0zM275.2 480.8h5.0v4.98h-5.0zM325.0 480.8h5.0v4.98h-5.0zM404.8 480.8h5.0v4.98h-5.0zM155.6 485.8h5.0v4.98h-5.0zM195.4 485.8h5.0v4.98h-5.0zM150.6 490.7h5.0v4.98h-5.0zM260.2 490.7h5.0v4.98h-5.0zM379.9 490.7h5.0v4.98h-5.0zM434.7 490.7h5.0v4.98h-5.0zM454.6 490.7h5.0v4.98h-5.0zM494.5 490.7h5.0v4.98h-5.0zM240.3 495.7h10.0v4.98h-10.0zM295.1 500.7h5.0v4.98h-5.0zM464.6 500.7h10.0v4.98h-10.0zM494.5 500.7h5.0v4.98h-5.0zM270.2 505.7h5.0v4.98h-5.0zM295.1 505.7h5.0v4.98h-5.0zM394.8 505.7h5.0v4.98h-5.0zM469.6 505.7h5.0v4.98h-5.0zM230.3 510.7h5.0v4.98h-5.0zM439.7 510.7h5.0v4.98h-5.0zM155.6 515.7h5.0v4.98h-5.0zM230.3 515.7h5.0v4.98h-5.0zM245.3 520.6h5.0v4.98h-5.0zM255.3 520.6h5.0v4.98h-5.0zM265.2 520.6h5.0v4.98h-5.0zM305.1 520.6h5.0v4.98h-5.0zM315.1 520.6h5.0v4.98h-5.0zM325.0 520.6h5.0v4.98h-5.0zM389.8 520.6h5.0v4.98h-5.0zM240.3 525.6h5.0v4.98h-5.0zM320.1 525.6h5.0v4.98h-5.0zM479.6 525.6h10.0v4.98h-10.0zM245.3 530.6h5.0v4.98h-5.0zM404.8 530.6h5.0v4.98h-5.0zM474.6 530.6h5.0v4.98h-5.0zM429.7 535.6h5.0v4.98h-5.0zM454.6 535.6h5.0v4.98h-5.0zM185.5 540.6h5.0v4.98h-5.0zM350.0 540.6h5.0v4.98h-5.0zM454.6 540.6h5.0v4.98h-5.0zM220.4 545.6h5.0v4.98h-5.0zM255.3 545.6h5.0v4.98h-5.0zM489.5 545.6h5.0v4.98h-5.0zM155.6 550.6h5.0v4.98h-5.0zM220.4 550.6h5.0v4.98h-5.0zM350.0 550.6h10.0v4.98h-10.0zM374.9 550.6h5.0v4.98h-5.0zM404.8 550.6h5.0v4.98h-5.0zM444.7 550.6h5.0v4.98h-5.0zM469.6 550.6h5.0v4.98h-5.0zM205.4 555.5h5.0v4.98h-5.0zM359.9 555.5h5.0v4.98h-5.0zM205.4 560.5h5.0v4.98h-5.0zM389.8 560.5h5.0v4.98h-5.0zM145.6 565.5h5.0v4.98h-5.0zM335.0 565.5h5.0v4.98h-5.0zM364.9 570.5h5.0v4.98h-5.0zM404.8 570.5h5.0v4.98h-5.0zM474.6 580.5h5.0v4.98h-5.0zM175.5 585.4h5.0v4.98h-5.0zM310.1 585.4h5.0v4.98h-5.0zM454.6 585.4h5.0v4.98h-5.0zM150.6 590.4h5.0v4.98h-5.0zM185.5 590.4h5.0v4.98h-5.0zM200.4 590.4h5.0v4.98h-5.0zM210.4 590.4h5.0v4.98h-5.0zM250.3 590.4h10.0v4.98h-10.0zM305.1 595.4h10.0v4.98h-10.0zM340.0 595.4h5.0v4.98h-5.0z" fill="rgb(207,211,211)"/>
<path d="M165.5 246.5h5.0v4.98h-5.0zM195.4 246.5h5.0v4.98h-5.0zM210.4 246.5h5.0v4.98h-5.0zM280.2 246.5h5.0v4.98h-5.0zM330.0 246.5h5.0v4.98h-5.0zM449.7 246.5h5.0v4.98h-5.0zM484.5 246.5h5.0v4.98h-5.0zM145.6 251.5h5.0v4.98h-5.0zM160.6 251.5h5.0v4.98h-5.0zM185.5 251.5h5.0v4.98h-5.0zM240.3 251.5h5.0v4.98h-5.0zM255.3 251.5h5.0v4.98h-5.0zM305.1 251.5h5.0v4.98h-5.0zM315.1 251.5h5.0v4.98h-5.0zM330.0 251.5h5.0v4.98h-5.0zM359.9 251.5h5.0v4.98h-5.0zM444.7 251.5h5.0v4.98h-5.0zM145.6 256.5h5.0v4.98h-5.0zM175.5 256.5h5.0v4.98h-5.0zM195.4 256.5h5.0v4.98h-5.0zM444.7 256.5h5.0v4.98h-5.0zM484.5 256.5h5.0v4.98h-5.0zM165.5 261.5h5.0v4.98h-5.0zM265.2 261.5h10.0v4.98h-10.0zM305.1 261.5h5.0v4.98h-5.0zM364.9 261.5h5.0v4.98h-5.0zM424.7 261.5h5.0v4.98h-5.0zM265.2 266.4h5.0v4.98h-5.0zM335.0 266.4h10.0v4.98h-10.0zM409.8 266.4h5.0v4.98h-5.0zM439.7 266.4h5.0v4.98h-5.0zM449.7 266.4h5.0v4.98h-5.0zM340.0 271.4h5.0v4.98h-5.0zM389.8 271.4h15.0v4.98h-15.0zM180.5 276.4h5.0v4.98h-5.0zM235.3 276.4h5.0v4.98h-5.0zM245.3 276.4h5.0v4.98h-5.0zM345.0 276.4h5.0v4.98h-5.0zM399.8 276.4h15.0v4.98h-15.0zM449.7 276.4h5.0v4.98h-5.0zM200.4 281.4h5.0v4.98h-5.0zM230.3 281.4h5.0v4.98h-5.0zM275.2 281.4h5.0v4.98h-5.0zM340.0 281.4h5.0v4.98h-5.0zM369.9 281.4h5.0v4.98h-5.0zM379.9 281.4h5.0v4.98h-5.0zM399.8 281.4h5.0v4.98h-5.0zM419.7 281.4h5.0v4.98h-5.0zM474.6 281.4h5.0v4.98h-5.0zM145.6 286.4h5.0v4.98h-5.0zM200.4 286.4h5.0v4.98h-5.0zM225.4 286.4h5.0v4.98h-5.0zM270.2 286.4h10.0v4.98h-10.0zM315.1 286.4h5.0v4.98h-5.0zM399.8 286.4h5.0v4.98h-5.0zM419.7 286.4h5.0v4.98h-5.0zM429.7 286.4h5.0v4.98h-5.0zM160.6 291.4h5.0v4.98h-5.0zM215.4 291.4h5.0v4.98h-5.0zM225.4 291.4h5.0v4.98h-5.0zM265.2 291.4h5.0v4.98h-5.0zM320.1 291.4h5.0v4.98h-5.0zM429.7 291.4h5.0v4.98h-5.0zM474.6 291.4h5.0v4.98h-5.0zM494.5 291.4h5.0v4.98h-5.0zM150.6 296.3h5.0v4.98h-5.0zM285.2 296.3h5.0v4.98h-5.0zM295.1 296.3h5.0v4.98h-5.0zM394.8 296.3h5.0v4.98h-5.0zM409.8 296.3h5.0v4.98h-5.0zM195.4 301.3h5.0v4.98h-5.0zM265.2 301.3h5.0v4.98h-5.0zM295.1 301.3h5.0v4.98h-5.0zM305.1 301.3h5.0v4.98h-5.0zM330.0 301.3h5.0v4.98h-5.0zM399.8 301.3h5.0v4.98h-5.0zM424.7 301.3h5.0v4.98h-5.0zM444.7 301.3h10.0v4.98h-10.0zM195.4 306.3h5.0v4.98h-5.0zM220.4 306.3h5.0v4.98h-5.0zM270.2 306.3h5.0v4.98h-5.0zM195.4 311.3h5.0v4.98h-5.0zM220.4 311.3h5.0v4.98h-5.0zM230.3 311.3h5.0v4.98h-5.0zM270.2 311.3h5.0v4.98h-5.0zM345.0 311.3h10.0v4.98h-10.0zM374.9 311.3h5.0v4.98h-5.0zM394.8 311.3h5.0v4.98h-5.0zM429.7 311.3h5.0v4.98h-5.0zM454.6 311.3h5.0v4.98h-5.0zM180.5 316.3h5.0v4.98h-5.0zM245.3 316.3h5.0v4.98h-5.0zM255.3 316.3h5.0v4.98h-5.0zM340.0 316.3h5.0v4.98h-5.0zM359.9 316.3h5.0v4.98h-5.0zM464.6 316.3h5.0v4.98h-5.0zM489.5 316.3h5.0v4.98h-5.0zM145.6 321.3h5.0v4.98h-5.0zM160.6 321.3h5.0v4.98h-5.0zM195.4 321.3h10.0v4.98h-10.0zM320.1 321.3h5.0v4.98h-5.0zM330.0 321.3h5.0v4.98h-5.0zM399.8 321.3h5.0v4.98h-5.0zM459.6 321.3h5.0v4.98h-5.0zM494.5 321.3h5.0v4.98h-5.0zM145.6 326.3h5.0v4.98h-5.0zM255.3 326.3h5.0v4.98h-5.0zM354.9 326.3h5.0v4.98h-5.0zM384.9 326.3h10.0v4.98h-10.0zM454.6 326.3h10.0v4.98h-10.0zM145.6 331.2h10.0v4.98h-10.0zM240.3 331.2h10.0v4.98h-10.0zM320.1 331.2h5.0v4.98h-5.0zM330.0 331.2h5.0v4.98h-5.0zM364.9 331.2h5.0v4.98h-5.0zM384.9 331.2h5.0v4.98h-5.0zM394.8 331.2h5.0v4.98h-5.0zM409.8 331.2h10.0v4.98h-10.0zM429.7 331.2h5.0v4.98h-5.0zM439.7 331.2h5.0v4.98h-5.0zM454.6 331.2h5.0v4.98h-5.0zM474.6 331.2h5.0v4.98h-5.0zM205.4 336.2h10.0v4.98h-10.0zM260.2 336.2h5.0v4.98h-5.0zM444.7 336.2h5.0v4.98h-5.0zM454.6 336.2h5.0v4.98h-5.0zM225.4 341.2h5.0v4.98h-5.0zM240.3 341.2h10.0v4.98h-10.0zM265.2 341.2h5.0v4.98h-5.0zM310.1 341.2h15.0v4.98h-15.0zM330.0 341.2h5.0v4.98h-5.0zM364.9 341.2h5.0v4.98h-5.0zM429.7 341.2h5.0v4.98h-5.0zM479.6 341.2h5.0v4.98h-5.0zM494.5 341.2h5.0v4.98h-5.0zM165.5 346.2h5.0v4.98h-5.0zM225.4 346.2h5.0v4.98h-5.0zM260.2 346.2h5.0v4.98h-5.0zM310.1 346.2h5.0v4.98h-5.0zM335.0 346.2h5.0v4.98h-5.0zM364.9 346.2h5.0v4.98h-5.0zM409.8 346.2h5.0v4.98h-5.0zM434.7 346.2h5.0v4.98h-5.0zM464.6 346.2h5.0v4.98h-5.0zM484.5 346.2h5.0v4.98h-5.0zM165.5 351.2h5.0v4.98h-5.0zM180.5 351.2h5.0v4.98h-5.0zM195.4 351.2h5.0v4.98h-5.0zM310.1 351.2h5.0v4.98h-5.0zM320.1 351.2h5.0v4.98h-5.0zM364.9 351.2h5.0v4.98h-5.0zM379.9 351.2h5.0v4.98h-5.0zM444.7 351.2h5.0v4.98h-5.0zM494.5 351.2h5.0v4.98h-5.0zM155.6 356.2h5.0v4.98h-5.0zM175.5 356.2h5.0v4.98h-5.0zM195.4 356.2h5.0v4.98h-5.0zM340.0 356.2h5.0v4.98h-5.0zM389.8 356.2h5.0v4.98h-5.0zM180.5 361.1h5.0v4.98h-5.0zM275.2 361.1h5.0v4.98h-5.0zM345.0 361.1h5.0v4.98h-5.0zM459.6 361.1h5.0v4.98h-5.0zM474.6 361.1h5.0v4.98h-5.0zM489.5 361.1h5.0v4.98h-5.0zM180.5 366.1h5.0v4.98h-5.0zM195.4 366.1h5.0v4.98h-5.0zM374.9 366.1h5.0v4.98h-5.0zM434.7 366.1h15.0v4.98h-15.0zM459.6 366.1h5.0v4.98h-5.0zM489.5 366.1h5.0v4.98h-5.0zM215.4 371.1h5.0v4.98h-5.0zM305.1 371.1h10.0v4.98h-10.0zM359.9 371.1h5.0v4.98h-5.0zM374.9 371.1h5.0v4.98h-5.0zM444.7 371.1h5.0v4.98h-5.0zM489.5 371.1h5.0v4.98h-5.0zM210.4 376.1h10.0v4.98h-10.0zM240.3 376.1h5.0v4.98h-5.0zM305.1 376.1h10.0v4.98h-10.0zM489.5 376.1h5.0v4.98h-5.0zM210.4 381.1h5.0v4.98h-5.0zM250.3 381.1h5.0v4.98h-5.0zM300.1 381.1h5.0v4.98h-5.0zM359.9 381.1h5.0v4.98h-5.0zM404.8 381.1h5.0v4.98h-5.0zM165.5 386.1h5.0v4.98h-5.0zM200.4 386.1h15.0v4.98h-15.0zM404.8 386.1h5.0v4.98h-5.0zM439.7 386.1h5.0v4.98h-5.0zM454.6 386.1h5.0v4.98h-5.0zM155.6 391.1h5.0v4.98h-5.0zM185.5 391.1h5.0v4.98h-5.0zM235.3 391.1h5.0v4.98h-5.0zM340.0 391.1h10.0v4.98h-10.0zM454.6 391.1h5.0v4.98h-5.0zM489.5 391.1h5.0v4.98h-5.0zM195.4 396.0h5.0v4.98h-5.0zM205.4 396.0h5.0v4.98h-5.0zM235.3 396.0h5.0v4.98h-5.0zM300.1 396.0h10.0v4.98h-10.0zM345.0 396.0h5.0v4.98h-5.0zM384.9 396.0h10.0v4.98h-10.0zM399.8 396.0h5.0v4.98h-5.0zM429.7 396.0h10.0v4.98h-10.0zM474.6 396.0h5.0v4.98h-5.0zM145.6 401.0h10.0v4.98h-10.0zM275.2 401.0h5.0v4.98h-5.0zM305.1 401.0h5.0v4.98h-5.0zM409.8 401.0h5.0v4.98h-5.0zM439.7 401.0h5.0v4.98h-5.0zM449.7 401.0h5.0v4.98h-5.0zM474.6 401.0h5.0v4.98h-5.0zM145.6 406.0h5.0v4.98h-5.0zM300.1 406.0h5.0v4.98h-5.0zM325.0 406.0h5.0v4.98h-5.0zM409.8 406.0h5.0v4.98h-5.0zM295.1 411.0h5.0v4.98h-5.0zM340.0 411.0h5.0v4.98h-5.0zM449.7 411.0h5.0v4.98h-5.0zM464.6 411.0h5.0v4.98h-5.0zM489.5 411.0h5.0v4.98h-5.0zM145.6 416.0h5.0v4.98h-5.0zM185.5 416.0h5.0v4.98h-5.0zM215.4 416.0h5.0v4.98h-5.0zM280.2 416.0h5.0v4.98h-5.0zM295.1 416.0h10.0v4.98h-10.0zM464.6 416.0h10.0v4.98h-10.0zM484.5 416.0h5.0v4.98h-5.0zM145.6 421.0h5.0v4.98h-5.0zM185.5 421.0h5.0v4.98h-5.0zM220.4 421.0h5.0v4.98h-5.0zM280.2 421.0h5.0v4.98h-5.0zM295.1 421.0h5.0v4.98h-5.0zM350.0 421.0h5.0v4.98h-5.0zM464.6 421.0h5.0v4.98h-5.0zM175.5 425.9h5.0v4.98h-5.0zM200.4 425.9h5.0v4.98h-5.0zM240.3 425.9h5.0v4.98h-5.0zM270.2 425.9h10.0v4.98h-10.0zM295.1 425.9h5.0v4.98h-5.0zM340.0 425.9h10.0v4.98h-10.0zM404.8 425.9h5.0v4.98h-5.0zM464.6 425.9h5.0v4.98h-5.0zM484.5 425.9h10.0v4.98h-10.0zM240.3 430.9h5.0v4.98h-5.0zM250.3 430.9h5.0v4.98h-5.0zM260.2 430.9h5.0v4.98h-5.0zM285.2 430.9h5.0v4.98h-5.0zM310.1 430.9h5.0v4.98h-5.0zM255.3 435.9h5.0v4.98h-5.0zM265.2 435.9h5.0v4.98h-5.0zM335.0 435.9h5.0v4.98h-5.0zM345.0 435.9h10.0v4.98h-10.0zM489.5 435.9h5.0v4.98h-5.0zM215.4 440.9h5.0v4.98h-5.0zM255.3 440.9h10.0v4.98h-10.0zM310.1 440.9h5.0v4.98h-5.0zM335.0 440.9h5.0v4.98h-5.0zM479.6 440.9h5.0v4.98h-5.0zM205.4 445.9h5.0v4.98h-5.0zM215.4 445.9h5.0v4.98h-5.0zM250.3 445.9h5.0v4.98h-5.0zM310.1 445.9h5.0v4.98h-5.0zM330.0 445.9h5.0v4.98h-5.0zM374.9 445.9h5.0v4.98h-5.0zM225.4 450.9h5.0v4.98h-5.0zM235.3 450.9h5.0v4.98h-5.0zM250.3 450.9h5.0v4.98h-5.0zM300.1 450.9h10.0v4.98h-10.0zM345.0 450.9h5.0v4.98h-5.0zM160.6 455.8h5.0v4.98h-5.0zM190.5 455.8h5.0v4.98h-5.0zM200.4 455.8h5.0v4.98h-5.0zM250.3 455.8h5.0v4.98h-5.0zM290.2 455.8h5.0v4.98h-5.0zM305.1 455.8h5.0v4.98h-5.0zM444.7 455.8h5.0v4.98h-5.0zM494.5 455.8h5.0v4.98h-5.0zM160.6 460.8h10.0v4.98h-10.0zM290.2 460.8h5.0v4.98h-5.0zM300.1 460.8h10.0v4.98h-10.0zM330.0 460.8h5.0v4.98h-5.0zM350.0 460.8h5.0v4.98h-5.0zM379.9 460.8h5.0v4.98h-5.0zM414.8 460.8h5.0v4.98h-5.0zM464.6 460.8h5.0v4.98h-5.0zM155.6 465.8h5.0v4.98h-5.0zM250.3 465.8h5.0v4.98h-5.0zM305.1 465.8h5.0v4.98h-5.0zM155.6 470.8h5.0v4.98h-5.0zM230.3 470.8h5.0v4.98h-5.0zM240.3 470.8h5.0v4.98h-5.0zM374.9 470.8h5.0v4.98h-5.0zM469.6 470.8h5.0v4.98h-5.0zM479.6 470.8h5.0v4.98h-5.0zM494.5 470.8h5.0v4.98h-5.0zM205.4 475.8h5.0v4.98h-5.0zM255.3 475.8h5.0v4.98h-5.0zM330.0 475.8h5.0v4.98h-5.0zM379.9 475.8h5.0v4.98h-5.0zM494.5 475.8h5.0v4.98h-5.0zM160.6 480.8h5.0v4.98h-5.0zM270.2 480.8h5.0v4.98h-5.0zM384.9 480.8h5.0v4.98h-5.0zM459.6 480.8h5.0v4.98h-5.0zM160.6 485.8h5.0v4.98h-5.0zM235.3 485.8h5.0v4.98h-5.0zM245.3 485.8h5.0v4.98h-5.0zM315.1 485.8h5.0v4.98h-5.0zM484.5 485.8h10.0v4.98h-10.0zM280.2 490.7h5.0v4.98h-5.0zM419.7 490.7h5.0v4.98h-5.0zM484.5 490.7h5.0v4.98h-5.0zM285.2 495.7h5.0v4.98h-5.0zM310.1 495.7h5.0v4.98h-5.0zM325.0 495.7h5.0v4.98h-5.0zM374.9 495.7h5.0v4.98h-5.0zM384.9 495.7h5.0v4.98h-5.0zM439.7 495.7h5.0v4.98h-5.0zM165.5 500.7h5.0v4.98h-5.0zM195.4 500.7h5.0v4.98h-5.0zM210.4 500.7h5.0v4.98h-5.0zM225.4 500.7h5.0v4.98h-5.0zM340.0 500.7h5.0v4.98h-5.0zM369.9 500.7h5.0v4.98h-5.0zM409.8 500.7h5.0v4.98h-5.0zM429.7 500.7h15.0v4.98h-15.0zM479.6 500.7h5.0v4.98h-5.0zM225.4 505.7h5.0v4.98h-5.0zM345.0 505.7h5.0v4.98h-5.0zM414.8 505.7h5.0v4.98h-5.0zM474.6 505.7h5.0v4.98h-5.0zM150.6 510.7h5.0v4.98h-5.0zM195.4 510.7h5.0v4.98h-5.0zM215.4 510.7h5.0v4.98h-5.0zM275.2 510.7h5.0v4.98h-5.0zM345.0 510.7h5.0v4.98h-5.0zM359.9 510.7h5.0v4.98h-5.0zM195.4 515.7h10.0v4.98h-10.0zM280.2 515.7h10.0v4.98h-10.0zM345.0 515.7h5.0v4.98h-5.0zM359.9 515.7h5.0v4.98h-5.0zM419.7 515.7h5.0v4.98h-5.0zM444.7 515.7h15.0v4.98h-15.0zM464.6 515.7h5.0v4.98h-5.0zM494.5 515.7h5.0v4.98h-5.0zM145.6 520.6h5.0v4.98h-5.0zM160.6 520.6h5.0v4.98h-5.0zM215.4 520.6h5.0v4.98h-5.0zM225.4 520.6h5.0v4.98h-5.0zM280.2 520.6h5.0v4.98h-5.0zM200.4 525.6h5.0v4.98h-5.0zM210.4 525.6h5.0v4.98h-5.0zM225.4 525.6h5.0v4.98h-5.0zM285.2 525.6h5.0v4.98h-5.0zM359.9 525.6h5.0v4.98h-5.0zM399.8 525.6h5.0v4.98h-5.0zM409.8 525.6h5.0v4.98h-5.0zM419.7 525.6h5.0v4.98h-5.0zM464.6 525.6h5.0v4.98h-5.0zM150.6 530.6h5.0v4.98h-5.0zM170.5 530.6h5.0v4.98h-5.0zM180.5 530.6h5.0v4.98h-5.0zM275.2 530.6h5.0v4.98h-5.0zM330.0 530.6h5.0v4.98h-5.0zM145.6 535.6h5.0v4.98h-5.0zM290.2 535.6h5.0v4.98h-5.0zM305.1 535.6h5.0v4.98h-5.0zM335.0 535.6h5.0v4.98h-5.0zM409.8 535.6h5.0v4.98h-5.0zM250.3 540.6h5.0v4.98h-5.0zM275.2 540.6h5.0v4.98h-5.0zM295.1 540.6h5.0v4.98h-5.0zM359.9 540.6h5.0v4.98h-5.0zM389.8 540.6h5.0v4.98h-5.0zM429.7 540.6h5.0v4.98h-5.0zM200.4 545.6h10.0v4.98h-10.0zM245.3 545.6h5.0v4.98h-5.0zM280.2 545.6h5.0v4.98h-5.0zM310.1 545.6h5.0v4.98h-5.0zM409.8 545.6h5.0v4.98h-5.0zM165.5 550.6h15.0v4.98h-15.0zM245.3 550.6h5.0v4.98h-5.0zM280.2 550.6h5.0v4.98h-5.0zM340.0 550.6h5.0v4.98h-5.0zM414.8 550.6h5.0v4.98h-5.0zM185.5 555.5h5.0v4.98h-5.0zM275.2 555.5h5.0v4.98h-5.0zM474.6 555.5h5.0v4.98h-5.0zM484.5 555.5h5.0v4.98h-5.0zM230.3 560.5h5.0v4.98h-5.0zM295.1 560.5h5.0v4.98h-5.0zM345.0 560.5h5.0v4.98h-5.0zM354.9 560.5h5.0v4.98h-5.0zM414.8 560.5h5.0v4.98h-5.0zM429.7 560.5h10.0v4.98h-10.0zM185.5 565.5h10.0v4.98h-10.0zM210.4 565.5h5.0v4.98h-5.0zM220.4 565.5h5.0v4.98h-5.0zM230.3 565.5h5.0v4.98h-5.0zM255.3 565.5h5.0v4.98h-5.0zM305.1 565.5h5.0v4.98h-5.0zM320.1 565.5h5.0v4.98h-5.0zM414.8 565.5h5.0v4.98h-5.0zM449.7 565.5h5.0v4.98h-5.0zM484.5 565.5h5.0v4.98h-5.0zM165.5 570.5h5.0v4.98h-5.0zM220.4 570.5h5.0v4.98h-5.0zM245.3 570.5h5.0v4.98h-5.0zM255.3 570.5h10.0v4.98h-10.0zM374.9 570.5h5.0v4.98h-5.0zM399.8 570.5h5.0v4.98h-5.0zM439.7 570.5h5.0v4.98h-5.0zM454.6 570.5h5.0v4.98h-5.0zM464.6 570.5h5.0v4.98h-5.0zM494.5 570.5h5.0v4.98h-5.0zM205.4 575.5h5.0v4.98h-5.0zM285.2 575.5h5.0v4.98h-5.0zM145.6 580.5h5.0v4.98h-5.0zM290.2 580.5h5.0v4.98h-5.0zM345.0 580.5h10.0v4.98h-10.0zM359.9 580.5h5.0v4.98h-5.0zM394.8 580.5h10.0v4.98h-10.0zM414.8 580.5h5.0v4.98h-5.0zM459.6 580.5h5.0v4.98h-5.0zM479.6 580.5h10.0v4.98h-10.0zM315.1 585.4h5.0v4.98h-5.0zM330.0 585.4h5.0v4.98h-5.0zM364.9 585.4h5.0v4.98h-5.0zM394.8 585.4h5.0v4.98h-5.0zM409.8 585.4h10.0v4.98h-10.0zM429.7 585.4h5.0v4.98h-5.0zM484.5 585.4h5.0v4.98h-5.0zM220.4 590.4h5.0v4.98h-5.0zM280.2 590.4h5.0v4.98h-5.0zM325.0 590.4h5.0v4.98h-5.0zM359.9 590.4h5.0v4.98h-5.0zM379.9 590.4h5.0v4.98h-5.0zM409.8 590.4h5.0v4.98h-5.0zM424.7 590.4h5.0v4.98h-5.0zM439.7 590.4h5.0v4.98h-5.0zM464.6 590.4h5.0v4.98h-5.0zM210.4 595.4h5.0v4.98h-5.0zM245.3 595.4h5.0v4.98h-5.0zM280.2 595.4h10.0v4.98h-10.0zM350.0 595.4h10.0v4.98h-10.0zM364.9 595.4h5.0v4.98h-5.0zM394.8 595.4h5.0v4.98h-5.0zM444.7 595.4h5.0v4.98h-5.0zM474.6 595.4h5.0v4.98h-5.0z" fill="rgb(231,235,235)"/>
<path d="M175.5 246.5h5.0v4.98h-5.0zM190.5 246.5h5.0v4.98h-5.0zM200.4 246.5h10.0v4.98h-10.0zM225.4 246.5h19.9v4.98h-19.9zM345.0 246.5h5.0v4.98h-5.0zM389.8 246.5h10.0v4.98h-10.0zM409.8 246.5h10.0v4.98h-10.0zM434.7 246.5h5.0v4.98h-5.0zM464.6 246.5h10.0v4.98h-10.0zM494.5 246.5h5.0v4.98h-5.0zM190.5 251.5h5.0v4.98h-5.0zM275.2 251.5h5.0v4.98h-5.0zM345.0 251.5h5.0v4.98h-5.0zM369.9 251.5h5.0v4.98h-5.0zM384.9 251.5h5.0v4.98h-5.0zM414.8 251.5h5.0v4.98h-5.0zM429.7 251.5h5.0v4.98h-5.0zM489.5 251.5h5.0v4.98h-5.0zM155.6 256.5h5.0v4.98h-5.0zM230.3 256.5h5.0v4.98h-5.0zM245.3 256.5h5.0v4.98h-5.0zM275.2 256.5h5.0v4.98h-5.0zM330.0 256.5h10.0v4.98h-10.0zM345.0 256.5h5.0v4.98h-5.0zM354.9 256.5h5.0v4.98h-5.0zM404.8 256.5h5.0v4.98h-5.0zM414.8 256.5h10.0v4.98h-10.0zM439.7 256.5h5.0v4.98h-5.0zM489.5 256.5h10.0v4.98h-10.0zM145.6 261.5h5.0v4.98h-5.0zM190.5 261.5h10.0v4.98h-10.0zM255.3 261.5h5.0v4.98h-5.0zM280.2 261.5h5.0v4.98h-5.0zM295.1 261.5h5.0v4.98h-5.0zM315.1 261.5h10.0v4.98h-10.0zM330.0 261.5h5.0v4.98h-5.0zM345.0 261.5h5.0v4.98h-5.0zM359.9 261.5h5.0v4.98h-5.0zM374.9 261.5h5.0v4.98h-5.0zM414.8 261.5h5.0v4.98h-5.0zM434.7 261.5h10.0v4.98h-10.0zM464.6 261.5h5.0v4.98h-5.0zM489.5 261.5h5.0v4.98h-5.0zM145.6 266.4h5.0v4.98h-5.0zM165.5 266.4h5.0v4.98h-5.0zM200.4 266.4h5.0v4.98h-5.0zM225.4 266.4h5.0v4.98h-5.0zM235.3 266.4h5.0v4.98h-5.0zM255.3 266.4h5.0v4.98h-5.0zM320.1 266.4h5.0v4.98h-5.0zM330.0 266.4h5.0v4.98h-5.0zM345.0 266.4h5.0v4.98h-5.0zM399.8 266.4h5.0v4.98h-5.0zM479.6 266.4h5.0v4.98h-5.0zM489.5 266.4h5.0v4.98h-5.0zM160.6 271.4h5.0v4.98h-5.0zM190.5 271.4h5.0v4.98h-5.0zM200.4 271.4h5.0v4.98h-5.0zM240.3 271.4h5.0v4.98h-5.0zM265.2 271.4h10.0v4.98h-10.0zM300.1 271.4h5.0v4.98h-5.0zM320.1 271.4h5.0v4.98h-5.0zM369.9 271.4h5.0v4.98h-5.0zM379.9 271.4h5.0v4.98h-5.0zM469.6 271.4h5.0v4.98h-5.0zM489.5 271.4h5.0v4.98h-5.0zM145.6 276.4h5.0v4.98h-5.0zM165.5 276.4h10.0v4.98h-10.0zM210.4 276.4h5.0v4.98h-5.0zM220.4 276.4h10.0v4.98h-10.0zM255.3 276.4h5.0v4.98h-5.0zM265.2 276.4h10.0v4.98h-10.0zM280.2 276.4h5.0v4.98h-5.0zM300.1 276.4h10.0v4.98h-10.0zM315.1 276.4h10.0v4.98h-10.0zM350.0 276.4h5.0v4.98h-5.0zM364.9 276.4h5.0v4.98h-5.0zM374.9 276.4h5.0v4.98h-5.0zM444.7 276.4h5.0v4.98h-5.0zM454.6 276.4h5.0v4.98h-5.0zM464.6 276.4h5.0v4.98h-5.0zM489.5 276.4h5.0v4.98h-5.0zM160.6 281.4h15.0v4.98h-15.0zM205.4 281.4h5.0v4.98h-5.0zM215.4 281.4h10.0v4.98h-10.0zM245.3 281.4h10.0v4.98h-10.0zM295.1 281.4h5.0v4.98h-5.0zM305.1 281.4h5.0v4.98h-5.0zM315.1 281.4h10.0v4.98h-10.0zM335.0 281.4h5.0v4.98h-5.0zM350.0 281.4h5.0v4.98h-5.0zM404.8 281.4h5.0v4.98h-5.0zM414.8 281.4h5.0v4.98h-5.0zM439.7 281.4h10.0v4.98h-10.0zM469.6 281.4h5.0v4.98h-5.0zM494.5 281.4h5.0v4.98h-5.0zM175.5 286.4h5.0v4.98h-5.0zM190.5 286.4h5.0v4.98h-5.0zM240.3 286.4h5.0v4.98h-5.0zM290.2 286.4h5.0v4.98h-5.0zM310.1 286.4h5.0v4.98h-5.0zM345.0 286.4h5.0v4.98h-5.0zM379.9 286.4h10.0v4.98h-10.0zM414.8 286.4h5.0v4.98h-5.0zM439.7 286.4h10.0v4.98h-10.0zM459.6 286.4h5.0v4.98h-5.0zM175.5 291.4h5.0v4.98h-5.0zM185.5 291.4h10.0v4.98h-10.0zM210.4 291.4h5.0v4.98h-5.0zM260.2 291.4h5.0v4.98h-5.0zM359.9 291.4h15.0v4.98h-15.0zM414.8 291.4h5.0v4.98h-5.0zM449.7 291.4h5.0v4.98h-5.0zM145.6 296.3h5.0v4.98h-5.0zM165.5 296.3h15.0v4.98h-15.0zM195.4 296.3h5.0v4.98h-5.0zM235.3 296.3h10.0v4.98h-10.0zM270.2 296.3h5.0v4.98h-5.0zM280.2 296.3h5.0v4.98h-5.0zM305.1 296.3h5.0v4.98h-5.0zM320.1 296.3h5.0v4.98h-5.0zM335.0 296.3h10.0v4.98h-10.0zM354.9 296.3h5.0v4.98h-5.0zM364.9 296.3h5.0v4.98h-5.0zM434.7 296.3h5.0v4.98h-5.0zM444.7 296.3h5.0v4.98h-5.0zM464.6 296.3h10.0v4.98h-10.0zM479.6 296.3h5.0v4.98h-5.0zM170.5 301.3h5.0v4.98h-5.0zM200.4 301.3h5.0v4.98h-5.0zM210.4 301.3h5.0v4.98h-5.0zM230.3 301.3h5.0v4.98h-5.0zM245.3 301.3h5.0v4.98h-5.0zM300.1 301.3h5.0v4.98h-5.0zM310.1 301.3h5.0v4.98h-5.0zM320.1 301.3h5.0v4.98h-5.0zM350.0 301.3h5.0v4.98h-5.0zM359.9 301.3h10.0v4.98h-10.0zM454.6 301.3h5.0v4.98h-5.0zM464.6 301.3h5.0v4.98h-5.0zM160.6 306.3h5.0v4.98h-5.0zM170.5 306.3h5.0v4.98h-5.0zM215.4 306.3h5.0v4.98h-5.0zM250.3 306.3h15.0v4.98h-15.0zM310.1 306.3h5.0v4.98h-5.0zM364.9 306.3h19.9v4.98h-19.9zM404.8 306.3h10.0v4.98h-10.0zM419.7 306.3h5.0v4.98h-5.0zM434.7 306.3h5.0v4.98h-5.0zM494.5 306.3h5.0v4.98h-5.0zM145.6 311.3h10.0v4.98h-10.0zM165.5 311.3h10.0v4.98h-10.0zM205.4 311.3h5.0v4.98h-5.0zM250.3 311.3h5.0v4.98h-5.0zM290.2 311.3h34.9v4.98h-34.9zM340.0 311.3h5.0v4.98h-5.0zM364.9 311.3h5.0v4.98h-5.0zM409.8 311.3h5.0v4.98h-5.0zM449.7 311.3h5.0v4.98h-5.0zM459.6 311.3h5.0v4.98h-5.0zM474.6 311.3h5.0v4.98h-5.0zM484.5 311.3h5.0v4.98h-5.0zM165.5 316.3h10.0v4.98h-10.0zM210.4 316.3h5.0v4.98h-5.0zM280.2 316.3h10.0v4.98h-10.0zM295.1 316.3h15.0v4.98h-15.0zM325.0 316.3h10.0v4.98h-10.0zM364.9 316.3h5.0v4.98h-5.0zM439.7 316.3h5.0v4.98h-5.0zM479.6 316.3h5.0v4.98h-5.0zM155.6 321.3h5.0v4.98h-5.0zM205.4 321.3h5.0v4.98h-5.0zM265.2 321.3h5.0v4.98h-5.0zM295.1 321.3h5.0v4.98h-5.0zM310.1 321.3h10.0v4.98h-10.0zM384.9 321.3h5.0v4.98h-5.0zM449.7 321.3h10.0v4.98h-10.0zM469.6 321.3h5.0v4.98h-5.0zM155.6 326.3h5.0v4.98h-5.0zM170.5 326.3h5.0v4.98h-5.0zM185.5 326.3h5.0v4.98h-5.0zM195.4 326.3h10.0v4.98h-10.0zM210.4 326.3h5.0v4.98h-5.0zM220.4 326.3h5.0v4.98h-5.0zM260.2 326.3h5.0v4.98h-5.0zM315.1 326.3h5.0v4.98h-5.0zM350.0 326.3h5.0v4.98h-5.0zM359.9 326.3h5.0v4.98h-5.0zM439.7 326.3h5.0v4.98h-5.0zM449.7 326.3h5.0v4.98h-5.0zM489.5 326.3h5.0v4.98h-5.0zM170.5 331.2h5.0v4.98h-5.0zM200.4 331.2h5.0v4.98h-5.0zM210.4 331.2h5.0v4.98h-5.0zM230.3 331.2h10.0v4.98h-10.0zM255.3 331.2h5.0v4.98h-5.0zM180.5 336.2h5.0v4.98h-5.0zM200.4 336.2h5.0v4.98h-5.0zM230.3 336.2h10.0v4.98h-10.0zM255.3 336.2h5.0v4.98h-5.0zM290.2 336.2h5.0v4.98h-5.0zM350.0 336.2h5.0v4.98h-5.0zM359.9 336.2h5.0v4.98h-5.0zM379.9 336.2h5.0v4.98h-5.0zM459.6 336.2h10.0v4.98h-10.0zM150.6 341.2h5.0v4.98h-5.0zM175.5 341.2h5.0v4.98h-5.0zM200.4 341.2h10.0v4.98h-10.0zM215.4 341.2h10.0v4.98h-10.0zM230.3 341.2h10.0v4.98h-10.0zM290.2 341.2h5.0v4.98h-5.0zM389.8 341.2h5.0v4.98h-5.0zM409.8 341.2h5.0v4.98h-5.0zM419.7 341.2h5.0v4.98h-5.0zM474.6 341.2h5.0v4.98h-5.0zM484.5 341.2h5.0v4.98h-5.0zM180.5 346.2h10.0v4.98h-10.0zM195.4 346.2h10.0v4.98h-10.0zM230.3 346.2h5.0v4.98h-5.0zM240.3 346.2h5.0v4.98h-5.0zM255.3 346.2h5.0v4.98h-5.0zM265.2 346.2h10.0v4.98h-10.0zM300.1 346.2h5.0v4.98h-5.0zM325.0 346.2h5.0v4.98h-5.0zM384.9 346.2h5.0v4.98h-5.0zM399.8 346.2h5.0v4.98h-5.0zM419.7 346.2h5.0v4.98h-5.0zM145.6 351.2h5.0v4.98h-5.0zM245.3 351.2h10.0v4.98h-10.0zM260.2 351.2h5.0v4.98h-5.0zM275.2 351.2h10.0v4.98h-10.0zM414.8 351.2h5.0v4.98h-5.0zM434.7 351.2h5.0v4.98h-5.0zM145.6 356.2h5.0v4.98h-5.0zM170.5 356.2h5.0v4.98h-5.0zM185.5 356.2h5.0v4.98h-5.0zM205.4 356.2h5.0v4.98h-5.0zM230.3 356.2h5.0v4.98h-5.0zM245.3 356.2h39.9v4.98h-39.9zM305.1 356.2h5.0v4.98h-5.0zM335.0 356.2h5.0v4.98h-5.0zM359.9 356.2h5.0v4.98h-5.0zM369.9 356.2h5.0v4.98h-5.0zM399.8 356.2h5.0v4.98h-5.0zM459.6 356.2h5.0v4.98h-5.0zM474.6 356.2h5.0v4.98h-5.0zM145.6 361.1h5.0v4.98h-5.0zM160.6 361.1h15.0v4.98h-15.0zM205.4 361.1h5.0v4.98h-5.0zM215.4 361.1h5.0v4.98h-5.0zM255.3 361.1h5.0v4.98h-5.0zM265.2 361.1h5.0v4.98h-5.0zM320.1 361.1h5.0v4.98h-5.0zM374.9 361.1h5.0v4.98h-5.0zM384.9 361.1h5.0v4.98h-5.0zM414.8 361.1h5.0v4.98h-5.0zM424.7 361.1h5.0v4.98h-5.0zM464.6 361.1h5.0v4.98h-5.0zM150.6 366.1h5.0v4.98h-5.0zM165.5 366.1h5.0v4.98h-5.0zM200.4 366.1h5.0v4.98h-5.0zM210.4 366.1h5.0v4.98h-5.0zM235.3 366.1h5.0v4.98h-5.0zM260.2 366.1h10.0v4.98h-10.0zM280.2 366.1h5.0v4.98h-5.0zM310.1 366.1h10.0v4.98h-10.0zM330.0 366.1h5.0v4.98h-5.0zM345.0 366.1h10.0v4.98h-10.0zM484.5 366.1h5.0v4.98h-5.0zM494.5 366.1h5.0v4.98h-5.0zM155.6 371.1h5.0v4.98h-5.0zM165.5 371.1h5.0v4.98h-5.0zM190.5 371.1h5.0v4.98h-5.0zM200.4 371.1h5.0v4.98h-5.0zM240.3 371.1h5.0v4.98h-5.0zM255.3 371.1h5.0v4.98h-5.0zM265.2 371.1h19.9v4.98h-19.9zM295.1 371.1h10.0v4.98h-10.0zM315.1 371.1h5.0v4.98h-5.0zM389.8 371.1h5.0v4.98h-5.0zM399.8 371.1h10.0v4.98h-10.0zM414.8 371.1h5.0v4.98h-5.0zM424.7 371.1h5.0v4.98h-5.0zM484.5 371.1h5.0v4.98h-5.0zM494.5 371.1h5.0v4.98h-5.0zM145.6 376.1h5.0v4.98h-5.0zM155.6 376.1h15.0v4.98h-15.0zM190.5 376.1h5.0v4.98h-5.0zM235.3 376.1h5.0v4.98h-5.0zM255.3 376.1h5.0v4.98h-5.0zM315.1 376.1h5.0v4.98h-5.0zM340.0 376.1h5.0v4.98h-5.0zM374.9 376.1h5.0v4.98h-5.0zM434.7 376.1h5.0v4.98h-5.0zM459.6 376.1h5.0v4.98h-5.0zM474.6 376.1h5.0v4.98h-5.0zM170.5 381.1h5.0v4.98h-5.0zM200.4 381.1h5.0v4.98h-5.0zM230.3 381.1h10.0v4.98h-10.0zM245.3 381.1h5.0v4.98h-5.0zM260.2 381.1h5.0v4.98h-5.0zM310.1 381.1h10.0v4.98h-10.0zM335.0 381.1h5.0v4.98h-5.0zM354.9 381.1h5.0v4.98h-5.0zM384.9 381.1h5.0v4.98h-5.0zM394.8 381.1h5.0v4.98h-5.0zM419.7 381.1h5.0v4.98h-5.0zM439.7 381.1h5.0v4.98h-5.0zM474.6 381.1h10.0v4.98h-10.0zM150.6 386.1h5.0v4.98h-5.0zM175.5 386.1h5.0v4.98h-5.0zM215.4 386.1h5.0v4.98h-5.0zM225.4 386.1h5.0v4.98h-5.0zM235.3 386.1h5.0v4.98h-5.0zM270.2 386.1h5.0v4.98h-5.0zM290.2 386.1h5.0v4.98h-5.0zM315.1 386.1h5.0v4.98h-5.0zM335.0 386.1h5.0v4.98h-5.0zM389.8 386.1h5.0v4.98h-5.0zM414.8 386.1h5.0v4.98h-5.0zM484.5 386.1h5.0v4.98h-5.0zM190.5 391.1h5.0v4.98h-5.0zM210.4 391.1h5.0v4.98h-5.0zM255.3 391.1h5.0v4.98h-5.0zM270.2 391.1h5.0v4.98h-5.0zM330.0 391.1h5.0v4.98h-5.0zM359.9 391.1h5.0v4.98h-5.0zM409.8 391.1h5.0v4.98h-5.0zM419.7 391.1h5.0v4.98h-5.0zM464.6 391.1h5.0v4.98h-5.0zM484.5 391.1h5.0v4.98h-5.0zM155.6 396.0h5.0v4.98h-5.0zM220.4 396.0h5.0v4.98h-5.0zM230.3 396.0h5.0v4.98h-5.0zM240.3 396.0h5.0v4.98h-5.0zM265.2 396.0h5.0v4.98h-5.0zM379.9 396.0h5.0v4.98h-5.0zM404.8 396.0h10.0v4.98h-10.0zM444.7 396.0h10.0v4.98h-10.0zM464.6 396.0h5.0v4.98h-5.0zM484.5 396.0h5.0v4.98h-5.0zM175.5 401.0h10.0v4.98h-10.0zM190.5 401.0h5.0v4.98h-5.0zM200.4 401.0h5.0v4.98h-5.0zM210.4 401.0h5.0v4.98h-5.0zM220.4 401.0h5.0v4.98h-5.0zM245.3 401.0h15.0v4.98h-15.0zM285.2 401.0h10.0v4.98h-10.0zM354.9 401.0h5.0v4.98h-5.0zM369.9 401.0h5.0v4.98h-5.0zM404.8 401.0h5.0v4.98h-5.0zM464.6 401.0h5.0v4.98h-5.0zM484.5 401.0h5.0v4.98h-5.0zM160.6 406.0h5.0v4.98h-5.0zM180.5 406.0h5.0v4.98h-5.0zM210.4 406.0h5.0v4.98h-5.0zM235.3 406.0h15.0v4.98h-15.0zM285.2 406.0h5.0v4.98h-5.0zM305.1 406.0h10.0v4.98h-10.0zM340.0 406.0h5.0v4.98h-5.0zM354.9 406.0h10.0v4.98h-10.0zM394.8 406.0h5.0v4.98h-5.0zM414.8 406.0h5.0v4.98h-5.0zM429.7 406.0h5.0v4.98h-5.0zM469.6 406.0h5.0v4.98h-5.0zM484.5 406.0h5.0v4.98h-5.0zM180.5 411.0h10.0v4.98h-10.0zM210.4 411.0h5.0v4.98h-5.0zM225.4 411.0h10.0v4.98h-10.0zM280.2 411.0h5.0v4.98h-5.0zM364.9 411.0h5.0v4.98h-5.0zM379.9 411.0h5.0v4.98h-5.0zM389.8 411.0h10.0v4.98h-10.0zM414.8 411.0h10.0v4.98h-10.0zM429.7 411.0h5.0v4.98h-5.0zM444.7 411.0h5.0v4.98h-5.0zM474.6 411.0h5.0v4.98h-5.0zM160.6 416.0h5.0v4.98h-5.0zM170.5 416.0h5.0v4.98h-5.0zM190.5 416.0h10.0v4.98h-10.0zM210.4 416.0h5.0v4.98h-5.0zM285.2 416.0h10.0v4.98h-10.0zM320.1 416.0h5.0v4.98h-5.0zM364.9 416.0h10.0v4.98h-10.0zM379.9 416.0h10.0v4.98h-10.0zM399.8 416.0h5.0v4.98h-5.0zM414.8 416.0h15.0v4.98h-15.0zM454.6 416.0h5.0v4.98h-5.0zM175.5 421.0h10.0v4.98h-10.0zM210.4 421.0h5.0v4.98h-5.0zM230.3 421.0h10.0v4.98h-10.0zM250.3 421.0h5.0v4.98h-5.0zM260.2 421.0h5.0v4.98h-5.0zM270.2 421.0h5.0v4.98h-5.0zM290.2 421.0h5.0v4.98h-5.0zM315.1 421.0h10.0v4.98h-10.0zM330.0 421.0h10.0v4.98h-10.0zM345.0 421.0h5.0v4.98h-5.0zM394.8 421.0h19.9v4.98h-19.9zM419.7 421.0h5.0v4.98h-5.0zM434.7 421.0h5.0v4.98h-5.0zM145.6 425.9h5.0v4.98h-5.0zM165.5 425.9h10.0v4.98h-10.0zM185.5 425.9h10.0v4.98h-10.0zM205.4 425.9h5.0v4.98h-5.0zM235.3 425.9h5.0v4.98h-5.0zM290.2 425.9h5.0v4.98h-5.0zM359.9 425.9h5.0v4.98h-5.0zM394.8 425.9h5.0v4.98h-5.0zM419.7 425.9h5.0v4.98h-5.0zM439.7 425.9h5.0v4.98h-5.0zM165.5 430.9h5.0v4.98h-5.0zM185.5 430.9h5.0v4.98h-5.0zM195.4 430.9h5.0v4.98h-5.0zM210.4 430.9h5.0v4.98h-5.0zM220.4 430.9h5.0v4.98h-5.0zM300.1 430.9h5.0v4.98h-5.0zM320.1 430.9h5.0v4.98h-5.0zM330.0 430.9h5.0v4.98h-5.0zM364.9 430.9h15.0v4.98h-15.0zM389.8 430.9h5.0v4.98h-5.0zM434.7 430.9h15.0v4.98h-15.0zM145.6 435.9h5.0v4.98h-5.0zM155.6 435.9h10.0v4.98h-10.0zM220.4 435.9h5.0v4.98h-5.0zM275.2 435.9h5.0v4.98h-5.0zM320.1 435.9h5.0v4.98h-5.0zM354.9 435.9h5.0v4.98h-5.0zM364.9 435.9h5.0v4.98h-5.0zM404.8 435.9h5.0v4.98h-5.0zM424.7 435.9h5.0v4.98h-5.0zM449.7 435.9h5.0v4.98h-5.0zM479.6 435.9h10.0v4.98h-10.0zM170.5 440.9h5.0v4.98h-5.0zM180.5 440.9h5.0v4.98h-5.0zM190.5 440.9h5.0v4.98h-5.0zM235.3 440.9h5.0v4.98h-5.0zM340.0 440.9h15.0v4.98h-15.0zM364.9 440.9h5.0v4.98h-5.0zM374.9 440.9h5.0v4.98h-5.0zM459.6 440.9h5.0v4.98h-5.0zM469.6 440.9h5.0v4.98h-5.0zM494.5 440.9h5.0v4.98h-5.0zM155.6 445.9h5.0v4.98h-5.0zM165.5 445.9h10.0v4.98h-10.0zM195.4 445.9h5.0v4.98h-5.0zM240.3 445.9h5.0v4.98h-5.0zM275.2 445.9h5.0v4.98h-5.0zM285.2 445.9h5.0v4.98h-5.0zM295.1 445.9h10.0v4.98h-10.0zM340.0 445.9h10.0v4.98h-10.0zM364.9 445.9h5.0v4.98h-5.0zM379.9 445.9h10.0v4.98h-10.0zM175.5 450.9h5.0v4.98h-5.0zM260.2 450.9h5.0v4.98h-5.0zM280.2 450.9h5.0v4.98h-5.0zM359.9 450.9h5.0v4.98h-5.0zM369.9 450.9h5.0v4.98h-5.0zM379.9 450.9h5.0v4.98h-5.0zM389.8 450.9h5.0v4.98h-5.0zM469.6 450.9h5.0v4.98h-5.0zM494.5 450.9h5.0v4.98h-5.0zM145.6 455.8h5.0v4.98h-5.0zM165.5 455.8h5.0v4.98h-5.0zM205.4 455.8h5.0v4.98h-5.0zM215.4 455.8h5.0v4.98h-5.0zM240.3 455.8h10.0v4.98h-10.0zM275.2 455.8h10.0v4.98h-10.0zM295.1 455.8h5.0v4.98h-5.0zM320.1 455.8h5.0v4.98h-5.0zM354.9 455.8h5.0v4.98h-5.0zM369.9 455.8h5.0v4.98h-5.0zM464.6 455.8h5.0v4.98h-5.0zM474.6 455.8h5.0v4.98h-5.0zM170.5 460.8h10.0v4.98h-10.0zM185.5 460.8h5.0v4.98h-5.0zM245.3 460.8h5.0v4.98h-5.0zM275.2 460.8h5.0v4.98h-5.0zM295.1 460.8h5.0v4.98h-5.0zM364.9 460.8h5.0v4.98h-5.0zM384.9 460.8h5.0v4.98h-5.0zM409.8 460.8h5.0v4.98h-5.0zM424.7 460.8h5.0v4.98h-5.0zM444.7 460.8h5.0v4.98h-5.0zM459.6 460.8h5.0v4.98h-5.0zM145.6 465.8h5.0v4.98h-5.0zM170.5 465.8h5.0v4.98h-5.0zM205.4 465.8h5.0v4.98h-5.0zM260.2 465.8h5.0v4.98h-5.0zM275.2 465.8h19.9v4.98h-19.9zM310.1 465.8h5.0v4.98h-5.0zM320.1 465.8h5.0v4.98h-5.0zM364.9 465.8h5.0v4.98h-5.0zM459.6 465.8h5.0v4.98h-5.0zM484.5 465.8h5.0v4.98h-5.0zM160.6 470.8h5.0v4.98h-5.0zM310.1 470.8h5.0v4.98h-5.0zM335.0 470.8h5.0v4.98h-5.0zM389.8 470.8h10.0v4.98h-10.0zM404.8 470.8h5.0v4.98h-5.0zM414.8 470.8h5.0v4.98h-5.0zM484.5 470.8h5.0v4.98h-5.0zM145.6 475.8h5.0v4.98h-5.0zM165.5 475.8h5.0v4.98h-5.0zM195.4 475.8h5.0v4.98h-5.0zM220.4 475.8h5.0v4.98h-5.0zM290.2 475.8h5.0v4.98h-5.0zM305.1 475.8h10.0v4.98h-10.0zM350.0 475.8h5.0v4.98h-5.0zM359.9 475.8h10.0v4.98h-10.0zM394.8 475.8h5.0v4.98h-5.0zM444.7 475.8h10.0v4.98h-10.0zM484.5 475.8h5.0v4.98h-5.0zM145.6 480.8h5.0v4.98h-5.0zM165.5 480.8h15.0v4.98h-15.0zM220.4 480.8h10.0v4.98h-10.0zM245.3 480.8h5.0v4.98h-5.0zM315.1 480.8h5.0v4.98h-5.0zM350.0 480.8h5.0v4.98h-5.0zM374.9 480.8h5.0v4.98h-5.0zM419.7 480.8h5.0v4.98h-5.0zM439.7 480.8h5.0v4.98h-5.0zM454.6 480.8h5.0v4.98h-5.0zM469.6 480.8h5.0v4.98h-5.0zM494.5 480.8h5.0v4.98h-5.0zM220.4 485.8h10.0v4.98h-10.0zM255.3 485.8h5.0v4.98h-5.0zM280.2 485.8h5.0v4.98h-5.0zM290.2 485.8h5.0v4.98h-5.0zM305.1 485.8h5.0v4.98h-5.0zM320.1 485.8h5.0v4.98h-5.0zM330.0 485.8h15.0v4.98h-15.0zM364.9 485.8h5.0v4.98h-5.0zM374.9 485.8h5.0v4.98h-5.0zM384.9 485.8h5.0v4.98h-5.0zM454.6 485.8h5.0v4.98h-5.0zM155.6 490.7h5.0v4.98h-5.0zM170.5 490.7h5.0v4.98h-5.0zM180.5 490.7h5.0v4.98h-5.0zM190.5 490.7h5.0v4.98h-5.0zM235.3 490.7h5.0v4.98h-5.0zM285.2 490.7h15.0v4.98h-15.0zM335.0 490.7h10.0v4.98h-10.0zM359.9 490.7h10.0v4.98h-10.0zM414.8 490.7h5.0v4.98h-5.0zM429.7 490.7h5.0v4.98h-5.0zM444.7 490.7h5.0v4.98h-5.0zM150.6 495.7h5.0v4.98h-5.0zM160.6 495.7h5.0v4.98h-5.0zM190.5 495.7h5.0v4.98h-5.0zM200.4 495.7h5.0v4.98h-5.0zM220.4 495.7h5.0v4.98h-5.0zM275.2 495.7h5.0v4.98h-5.0zM290.2 495.7h5.0v4.98h-5.0zM300.1 495.7h5.0v4.98h-5.0zM315.1 495.7h10.0v4.98h-10.0zM345.0 495.7h10.0v4.98h-10.0zM369.9 495.7h5.0v4.98h-5.0zM394.8 495.7h5.0v4.98h-5.0zM409.8 495.7h5.0v4.98h-5.0zM459.6 495.7h5.0v4.98h-5.0zM469.6 495.7h10.0v4.98h-10.0zM489.5 495.7h5.0v4.98h-5.0zM150.6 500.7h5.0v4.98h-5.0zM190.5 500.7h5.0v4.98h-5.0zM205.4 500.7h5.0v4.98h-5.0zM260.2 500.7h5.0v4.98h-5.0zM290.2 500.7h5.0v4.98h-5.0zM305.1 500.7h5.0v4.98h-5.0zM350.0 500.7h5.0v4.98h-5.0zM379.9 500.7h5.0v4.98h-5.0zM444.7 500.7h5.0v4.98h-5.0zM459.6 500.7h5.0v4.98h-5.0zM155.6 505.7h10.0v4.98h-10.0zM175.5 505.7h5.0v4.98h-5.0zM210.4 505.7h5.0v4.98h-5.0zM260.2 505.7h5.0v4.98h-5.0zM275.2 505.7h5.0v4.98h-5.0zM325.0 505.7h10.0v4.98h-10.0zM354.9 505.7h5.0v4.98h-5.0zM384.9 505.7h5.0v4.98h-5.0zM404.8 505.7h5.0v4.98h-5.0zM155.6 510.7h5.0v4.98h-5.0zM180.5 510.7h5.0v4.98h-5.0zM225.4 510.7h5.0v4.98h-5.0zM260.2 510.7h5.0v4.98h-5.0zM270.2 510.7h5.0v4.98h-5.0zM290.2 510.7h5.0v4.98h-5.0zM300.1 510.7h5.0v4.98h-5.0zM330.0 510.7h5.0v4.98h-5.0zM350.0 510.7h10.0v4.98h-10.0zM399.8 510.7h5.0v4.98h-5.0zM424.7 510.7h5.0v4.98h-5.0zM464.6 510.7h10.0v4.98h-10.0zM484.5 510.7h5.0v4.98h-5.0zM494.5 510.7h5.0v4.98h-5.0zM150.6 515.7h5.0v4.98h-5.0zM160.6 515.7h15.0v4.98h-15.0zM240.3 515.7h5.0v4.98h-5.0zM250.3 515.7h15.0v4.98h-15.0zM270.2 515.7h5.0v4.98h-5.0zM300.1 515.7h5.0v4.98h-5.0zM350.0 515.7h5.0v4.98h-5.0zM369.9 515.7h5.0v4.98h-5.0zM379.9 515.7h10.0v4.98h-10.0zM409.8 515.7h5.0v4.98h-5.0zM439.7 515.7h5.0v4.98h-5.0zM459.6 515.7h5.0v4.98h-5.0zM479.6 515.7h5.0v4.98h-5.0zM155.6 520.6h5.0v4.98h-5.0zM165.5 520.6h15.0v4.98h-15.0zM185.5 520.6h10.0v4.98h-10.0zM250.3 520.6h5.0v4.98h-5.0zM260.2 520.6h5.0v4.98h-5.0zM290.2 520.6h10.0v4.98h-10.0zM335.0 520.6h5.0v4.98h-5.0zM350.0 520.6h5.0v4.98h-5.0zM369.9 520.6h5.0v4.98h-5.0zM379.9 520.6h5.0v4.98h-5.0zM394.8 520.6h5.0v4.98h-5.0zM409.8 520.6h5.0v4.98h-5.0zM175.5 525.6h5.0v4.98h-5.0zM205.4 525.6h5.0v4.98h-5.0zM270.2 525.6h5.0v4.98h-5.0zM439.7 525.6h5.0v4.98h-5.0zM459.6 525.6h5.0v4.98h-5.0zM469.6 525.6h10.0v4.98h-10.0zM195.4 530.6h5.0v4.98h-5.0zM205.4 530.6h5.0v4.98h-5.0zM250.3 530.6h5.0v4.98h-5.0zM290.2 530.6h5.0v4.98h-5.0zM305.1 530.6h10.0v4.98h-10.0zM320.1 530.6h5.0v4.98h-5.0zM350.0 530.6h15.0v4.98h-15.0zM394.8 530.6h5.0v4.98h-5.0zM414.8 530.6h5.0v4.98h-5.0zM454.6 530.6h5.0v4.98h-5.0zM469.6 530.6h5.0v4.98h-5.0zM494.5 530.6h5.0v4.98h-5.0zM250.3 535.6h5.0v4.98h-5.0zM260.2 535.6h5.0v4.98h-5.0zM315.1 535.6h10.0v4.98h-10.0zM399.8 535.6h5.0v4.98h-5.0zM479.6 535.6h5.0v4.98h-5.0zM494.5 535.6h5.0v4.98h-5.0zM160.6 540.6h5.0v4.98h-5.0zM245.3 540.6h5.0v4.98h-5.0zM300.1 540.6h5.0v4.98h-5.0zM315.1 540.6h10.0v4.98h-10.0zM354.9 540.6h5.0v4.98h-5.0zM394.8 540.6h5.0v4.98h-5.0zM414.8 540.6h5.0v4.98h-5.0zM424.7 540.6h5.0v4.98h-5.0zM444.7 540.6h5.0v4.98h-5.0zM469.6 540.6h15.0v4.98h-15.0zM215.4 545.6h5.0v4.98h-5.0zM240.3 545.6h5.0v4.98h-5.0zM260.2 545.6h5.0v4.98h-5.0zM285.2 545.6h10.0v4.98h-10.0zM305.1 545.6h5.0v4.98h-5.0zM330.0 545.6h10.0v4.98h-10.0zM364.9 545.6h10.0v4.98h-10.0zM419.7 545.6h5.0v4.98h-5.0zM449.7 545.6h5.0v4.98h-5.0zM479.6 545.6h5.0v4.98h-5.0zM494.5 545.6h5.0v4.98h-5.0zM225.4 550.6h5.0v4.98h-5.0zM260.2 550.6h5.0v4.98h-5.0zM290.2 550.6h10.0v4.98h-10.0zM320.1 550.6h5.0v4.98h-5.0zM384.9 550.6h10.0v4.98h-10.0zM419.7 550.6h5.0v4.98h-5.0zM429.7 550.6h10.0v4.98h-10.0zM449.7 550.6h5.0v4.98h-5.0zM459.6 550.6h5.0v4.98h-5.0zM489.5 550.6h5.0v4.98h-5.0zM145.6 555.5h5.0v4.98h-5.0zM155.6 555.5h5.0v4.98h-5.0zM170.5 555.5h5.0v4.98h-5.0zM180.5 555.5h5.0v4.98h-5.0zM195.4 555.5h5.0v4.98h-5.0zM215.4 555.5h15.0v4.98h-15.0zM235.3 555.5h5.0v4.98h-5.0zM245.3 555.5h5.0v4.98h-5.0zM270.2 555.5h5.0v4.98h-5.0zM305.1 555.5h5.0v4.98h-5.0zM320.1 555.5h5.0v4.98h-5.0zM340.0 555.5h5.0v4.98h-5.0zM364.9 555.5h5.0v4.98h-5.0zM404.8 555.5h10.0v4.98h-10.0zM444.7 555.5h15.0v4.98h-15.0zM469.6 555.5h5.0v4.98h-5.0zM165.5 560.5h5.0v4.98h-5.0zM195.4 560.5h5.0v4.98h-5.0zM280.2 560.5h5.0v4.98h-5.0zM325.0 560.5h5.0v4.98h-5.0zM335.0 560.5h5.0v4.98h-5.0zM364.9 560.5h5.0v4.98h-5.0zM419.7 560.5h5.0v4.98h-5.0zM449.7 560.5h5.0v4.98h-5.0zM469.6 560.5h10.0v4.98h-10.0zM265.2 565.5h5.0v4.98h-5.0zM275.2 565.5h10.0v4.98h-10.0zM295.1 565.5h5.0v4.98h-5.0zM330.0 565.5h5.0v4.98h-5.0zM340.0 565.5h10.0v4.98h-10.0zM160.6 570.5h5.0v4.98h-5.0zM235.3 570.5h5.0v4.98h-5.0zM275.2 570.5h5.0v4.98h-5.0zM290.2 570.5h5.0v4.98h-5.0zM350.0 570.5h10.0v4.98h-10.0zM389.8 570.5h5.0v4.98h-5.0zM409.8 570.5h10.0v4.98h-10.0zM424.7 570.5h5.0v4.98h-5.0zM469.6 570.5h10.0v4.98h-10.0zM484.5 570.5h5.0v4.98h-5.0zM145.6 575.5h5.0v4.98h-5.0zM155.6 575.5h5.0v4.98h-5.0zM180.5 575.5h5.0v4.98h-5.0zM230.3 575.5h5.0v4.98h-5.0zM250.3 575.5h5.0v4.98h-5.0zM260.2 575.5h15.0v4.98h-15.0zM295.1 575.5h5.0v4.98h-5.0zM315.1 575.5h5.0v4.98h-5.0zM359.9 575.5h5.0v4.98h-5.0zM379.9 575.5h10.0v4.98h-10.0zM409.8 575.5h5.0v4.98h-5.0zM419.7 575.5h5.0v4.98h-5.0zM444.7 575.5h5.0v4.98h-5.0zM160.6 580.5h5.0v4.98h-5.0zM190.5 580.5h5.0v4.98h-5.0zM200.4 580.5h5.0v4.98h-5.0zM230.3 580.5h19.9v4.98h-19.9zM255.3 580.5h10.0v4.98h-10.0zM320.1 580.5h5.0v4.98h-5.0zM335.0 580.5h5.0v4.98h-5.0zM364.9 580.5h10.0v4.98h-10.0zM379.9 580.5h5.0v4.98h-5.0zM449.7 580.5h5.0v4.98h-5.0zM489.5 580.5h10.0v4.98h-10.0zM180.5 585.4h5.0v4.98h-5.0zM215.4 585.4h5.0v4.98h-5.0zM240.3 585.4h5.0v4.98h-5.0zM275.2 585.4h5.0v4.98h-5.0zM290.2 585.4h5.0v4.98h-5.0zM384.9 585.4h5.0v4.98h-5.0zM449.7 585.4h5.0v4.98h-5.0zM479.6 585.4h5.0v4.98h-5.0zM489.5 585.4h5.0v4.98h-5.0zM160.6 590.4h5.0v4.98h-5.0zM175.5 590.4h5.0v4.98h-5.0zM215.4 590.4h5.0v4.98h-5.0zM240.3 590.4h10.0v4.98h-10.0zM260.2 590.4h5.0v4.98h-5.0zM295.1 590.4h5.0v4.98h-5.0zM340.0 590.4h5.0v4.98h-5.0zM404.8 590.4h5.0v4.98h-5.0zM454.6 590.4h5.0v4.98h-5.0zM145.6 595.4h5.0v4.98h-5.0zM180.5 595.4h5.0v4.98h-5.0zM230.3 595.4h5.0v4.98h-5.0zM240.3 595.4h5.0v4.98h-5.0zM270.2 595.4h5.0v4.98h-5.0zM320.1 595.4h5.0v4.98h-5.0zM369.9 595.4h5.0v4.98h-5.0zM404.8 595.4h5.0v4.98h-5.0zM434.7 595.4h5.0v4.98h-5.0zM454.6 595.4h5.0v4.98h-5.0zM479.6 595.4h5.0v4.98h-5.0zM489.5 595.4h5.0v4.98h-5.0z" fill="rgb(219,223,223)"/>
<path d="M180.5 246.5h5.0v4.98h-5.0zM215.4 246.5h5.0v4.98h-5.0zM250.3 246.5h5.0v4.98h-5.0zM404.8 246.5h5.0v4.98h-5.0zM424.7 246.5h10.0v4.98h-10.0zM439.7 246.5h5.0v4.98h-5.0zM489.5 246.5h5.0v4.98h-5.0zM175.5 251.5h5.0v4.98h-5.0zM200.4 251.5h10.0v4.98h-10.0zM245.3 251.5h5.0v4.98h-5.0zM340.0 251.5h5.0v4.98h-5.0zM350.0 251.5h5.0v4.98h-5.0zM364.9 251.5h5.0v4.98h-5.0zM394.8 251.5h5.0v4.98h-5.0zM439.7 251.5h5.0v4.98h-5.0zM200.4 256.5h10.0v4.98h-10.0zM250.3 256.5h5.0v4.98h-5.0zM295.1 256.5h5.0v4.98h-5.0zM389.8 256.5h5.0v4.98h-5.0zM205.4 261.5h15.0v4.98h-15.0zM260.2 261.5h5.0v4.98h-5.0zM290.2 261.5h5.0v4.98h-5.0zM389.8 261.5h5.0v4.98h-5.0zM429.7 261.5h5.0v4.98h-5.0zM479.6 261.5h5.0v4.98h-5.0zM494.5 261.5h5.0v4.98h-5.0zM220.4 266.4h5.0v4.98h-5.0zM350.0 266.4h5.0v4.98h-5.0zM374.9 266.4h10.0v4.98h-10.0zM394.8 266.4h5.0v4.98h-5.0zM414.8 266.4h5.0v4.98h-5.0zM454.6 266.4h5.0v4.98h-5.0zM464.6 266.4h5.0v4.98h-5.0zM165.5 271.4h10.0v4.98h-10.0zM195.4 271.4h5.0v4.98h-5.0zM280.2 271.4h5.0v4.98h-5.0zM305.1 271.4h5.0v4.98h-5.0zM350.0 271.4h5.0v4.98h-5.0zM374.9 271.4h5.0v4.98h-5.0zM424.7 271.4h5.0v4.98h-5.0zM484.5 271.4h5.0v4.98h-5.0zM205.4 276.4h5.0v4.98h-5.0zM240.3 276.4h5.0v4.98h-5.0zM354.9 276.4h5.0v4.98h-5.0zM389.8 276.4h5.0v4.98h-5.0zM434.7 276.4h5.0v4.98h-5.0zM479.6 276.4h5.0v4.98h-5.0zM494.5 276.4h5.0v4.98h-5.0zM175.5 281.4h5.0v4.98h-5.0zM210.4 281.4h5.0v4.98h-5.0zM240.3 281.4h5.0v4.98h-5.0zM255.3 281.4h5.0v4.98h-5.0zM280.2 281.4h5.0v4.98h-5.0zM354.9 281.4h5.0v4.98h-5.0zM389.8 281.4h5.0v4.98h-5.0zM429.7 281.4h5.0v4.98h-5.0zM449.7 281.4h5.0v4.98h-5.0zM170.5 286.4h5.0v4.98h-5.0zM195.4 286.4h5.0v4.98h-5.0zM205.4 286.4h10.0v4.98h-10.0zM245.3 286.4h10.0v4.98h-10.0zM295.1 286.4h5.0v4.98h-5.0zM305.1 286.4h5.0v4.98h-5.0zM389.8 286.4h10.0v4.98h-10.0zM165.5 291.4h5.0v4.98h-5.0zM195.4 291.4h5.0v4.98h-5.0zM280.2 291.4h5.0v4.98h-5.0zM325.0 291.4h5.0v4.98h-5.0zM340.0 291.4h5.0v4.98h-5.0zM384.9 291.4h5.0v4.98h-5.0zM394.8 291.4h5.0v4.98h-5.0zM404.8 291.4h10.0v4.98h-10.0zM419.7 291.4h10.0v4.98h-10.0zM245.3 296.3h10.0v4.98h-10.0zM300.1 296.3h5.0v4.98h-5.0zM345.0 296.3h5.0v4.98h-5.0zM374.9 296.3h5.0v4.98h-5.0zM439.7 296.3h5.0v4.98h-5.0zM454.6 296.3h5.0v4.98h-5.0zM205.4 301.3h5.0v4.98h-5.0zM255.3 301.3h5.0v4.98h-5.0zM270.2 301.3h5.0v4.98h-5.0zM335.0 301.3h5.0v4.98h-5.0zM489.5 301.3h5.0v4.98h-5.0zM210.4 306.3h5.0v4.98h-5.0zM320.1 306.3h5.0v4.98h-5.0zM359.9 306.3h5.0v4.98h-5.0zM439.7 306.3h5.0v4.98h-5.0zM464.6 306.3h5.0v4.98h-5.0zM489.5 306.3h5.0v4.98h-5.0zM160.6 311.3h5.0v4.98h-5.0zM175.5 311.3h5.0v4.98h-5.0zM215.4 311.3h5.0v4.98h-5.0zM240.3 311.3h5.0v4.98h-5.0zM255.3 311.3h10.0v4.98h-10.0zM280.2 311.3h10.0v4.98h-10.0zM325.0 311.3h10.0v4.98h-10.0zM379.9 311.3h5.0v4.98h-5.0zM389.8 311.3h5.0v4.98h-5.0zM439.7 311.3h5.0v4.98h-5.0zM464.6 311.3h5.0v4.98h-5.0zM494.5 311.3h5.0v4.98h-5.0zM160.6 316.3h5.0v4.98h-5.0zM374.9 316.3h5.0v4.98h-5.0zM404.8 316.3h5.0v4.98h-5.0zM434.7 316.3h5.0v4.98h-5.0zM444.7 316.3h10.0v4.98h-10.0zM185.5 321.3h5.0v4.98h-5.0zM215.4 321.3h5.0v4.98h-5.0zM240.3 321.3h5.0v4.98h-5.0zM285.2 321.3h5.0v4.98h-5.0zM300.1 321.3h5.0v4.98h-5.0zM404.8 321.3h5.0v4.98h-5.0zM175.5 326.3h5.0v4.98h-5.0zM240.3 326.3h5.0v4.98h-5.0zM295.1 326.3h5.0v4.98h-5.0zM345.0 326.3h5.0v4.98h-5.0zM444.7 326.3h5.0v4.98h-5.0zM469.6 326.3h5.0v4.98h-5.0zM479.6 326.3h5.0v4.98h-5.0zM185.5 331.2h10.0v4.98h-10.0zM220.4 331.2h5.0v4.98h-5.0zM325.0 331.2h5.0v4.98h-5.0zM350.0 331.2h15.0v4.98h-15.0zM424.7 331.2h5.0v4.98h-5.0zM469.6 331.2h5.0v4.98h-5.0zM175.5 336.2h5.0v4.98h-5.0zM190.5 336.2h5.0v4.98h-5.0zM250.3 336.2h5.0v4.98h-5.0zM300.1 336.2h5.0v4.98h-5.0zM354.9 336.2h5.0v4.98h-5.0zM399.8 336.2h5.0v4.98h-5.0zM419.7 336.2h5.0v4.98h-5.0zM429.7 336.2h5.0v4.98h-5.0zM484.5 336.2h5.0v4.98h-5.0zM155.6 341.2h5.0v4.98h-5.0zM280.2 341.2h5.0v4.98h-5.0zM300.1 341.2h5.0v4.98h-5.0zM345.0 341.2h5.0v4.98h-5.0zM359.9 341.2h5.0v4.98h-5.0zM369.9 341.2h10.0v4.98h-10.0zM424.7 341.2h5.0v4.98h-5.0zM434.7 341.2h5.0v4.98h-5.0zM454.6 341.2h5.0v4.98h-5.0zM469.6 341.2h5.0v4.98h-5.0zM150.6 346.2h10.0v4.98h-10.0zM175.5 346.2h5.0v4.98h-5.0zM235.3 346.2h5.0v4.98h-5.0zM250.3 346.2h5.0v4.98h-5.0zM275.2 346.2h10.0v4.98h-10.0zM290.2 346.2h5.0v4.98h-5.0zM340.0 346.2h5.0v4.98h-5.0zM359.9 346.2h5.0v4.98h-5.0zM424.7 346.2h5.0v4.98h-5.0zM454.6 346.2h5.0v4.98h-5.0zM150.6 351.2h5.0v4.98h-5.0zM230.3 351.2h5.0v4.98h-5.0zM255.3 351.2h5.0v4.98h-5.0zM265.2 351.2h5.0v4.98h-5.0zM285.2 351.2h5.0v4.98h-5.0zM384.9 351.2h5.0v4.98h-5.0zM429.7 351.2h5.0v4.98h-5.0zM459.6 351.2h5.0v4.98h-5.0zM404.8 356.2h10.0v4.98h-10.0zM429.7 356.2h5.0v4.98h-5.0zM464.6 356.2h5.0v4.98h-5.0zM489.5 356.2h5.0v4.98h-5.0zM210.4 361.1h5.0v4.98h-5.0zM230.3 361.1h5.0v4.98h-5.0zM245.3 361.1h10.0v4.98h-10.0zM260.2 361.1h5.0v4.98h-5.0zM280.2 361.1h5.0v4.98h-5.0zM295.1 361.1h5.0v4.98h-5.0zM325.0 361.1h5.0v4.98h-5.0zM369.9 361.1h5.0v4.98h-5.0zM394.8 361.1h5.0v4.98h-5.0zM409.8 361.1h5.0v4.98h-5.0zM155.6 366.1h5.0v4.98h-5.0zM225.4 366.1h10.0v4.98h-10.0zM240.3 366.1h5.0v4.98h-5.0zM255.3 366.1h5.0v4.98h-5.0zM290.2 366.1h5.0v4.98h-5.0zM305.1 366.1h5.0v4.98h-5.0zM320.1 366.1h10.0v4.98h-10.0zM335.0 366.1h10.0v4.98h-10.0zM369.9 366.1h5.0v4.98h-5.0zM404.8 366.1h5.0v4.98h-5.0zM469.6 366.1h5.0v4.98h-5.0zM160.6 371.1h5.0v4.98h-5.0zM225.4 371.1h15.0v4.98h-15.0zM245.3 371.1h5.0v4.98h-5.0zM285.2 371.1h5.0v4.98h-5.0zM320.1 371.1h10.0v4.98h-10.0zM335.0 371.1h10.0v4.98h-10.0zM369.9 371.1h5.0v4.98h-5.0zM394.8 371.1h5.0v4.98h-5.0zM409.8 371.1h5.0v4.98h-5.0zM180.5 376.1h5.0v4.98h-5.0zM200.4 376.1h5.0v4.98h-5.0zM220.4 376.1h5.0v4.98h-5.0zM265.2 376.1h5.0v4.98h-5.0zM285.2 376.1h15.0v4.98h-15.0zM354.9 376.1h5.0v4.98h-5.0zM364.9 376.1h5.0v4.98h-5.0zM379.9 376.1h10.0v4.98h-10.0zM399.8 376.1h5.0v4.98h-5.0zM414.8 376.1h5.0v4.98h-5.0zM449.7 376.1h5.0v4.98h-5.0zM484.5 376.1h5.0v4.98h-5.0zM494.5 376.1h5.0v4.98h-5.0zM190.5 381.1h10.0v4.98h-10.0zM220.4 381.1h5.0v4.98h-5.0zM265.2 381.1h5.0v4.98h-5.0zM295.1 381.1h5.0v4.98h-5.0zM345.0 381.1h10.0v4.98h-10.0zM374.9 381.1h5.0v4.98h-5.0zM414.8 381.1h5.0v4.98h-5.0zM434.7 381.1h5.0v4.98h-5.0zM444.7 381.1h5.0v4.98h-5.0zM469.6 381.1h5.0v4.98h-5.0zM180.5 386.1h5.0v4.98h-5.0zM255.3 386.1h5.0v4.98h-5.0zM310.1 386.1h5.0v4.98h-5.0zM350.0 386.1h5.0v4.98h-5.0zM374.9 386.1h10.0v4.98h-10.0zM394.8 386.1h5.0v4.98h-5.0zM434.7 386.1h5.0v4.98h-5.0zM464.6 386.1h15.0v4.98h-15.0zM150.6 391.1h5.0v4.98h-5.0zM170.5 391.1h5.0v4.98h-5.0zM215.4 391.1h5.0v4.98h-5.0zM225.4 391.1h5.0v4.98h-5.0zM245.3 391.1h5.0v4.98h-5.0zM280.2 391.1h5.0v4.98h-5.0zM315.1 391.1h10.0v4.98h-10.0zM354.9 391.1h5.0v4.98h-5.0zM379.9 391.1h5.0v4.98h-5.0zM394.8 391.1h5.0v4.98h-5.0zM449.7 391.1h5.0v4.98h-5.0zM160.6 396.0h5.0v4.98h-5.0zM175.5 396.0h5.0v4.98h-5.0zM210.4 396.0h10.0v4.98h-10.0zM225.4 396.0h5.0v4.98h-5.0zM245.3 396.0h5.0v4.98h-5.0zM285.2 396.0h5.0v4.98h-5.0zM315.1 396.0h5.0v4.98h-5.0zM469.6 396.0h5.0v4.98h-5.0zM494.5 396.0h5.0v4.98h-5.0zM195.4 401.0h5.0v4.98h-5.0zM225.4 401.0h5.0v4.98h-5.0zM270.2 401.0h5.0v4.98h-5.0zM340.0 401.0h5.0v4.98h-5.0zM364.9 401.0h5.0v4.98h-5.0zM414.8 401.0h5.0v4.98h-5.0zM494.5 401.0h5.0v4.98h-5.0zM165.5 406.0h5.0v4.98h-5.0zM175.5 406.0h5.0v4.98h-5.0zM200.4 406.0h5.0v4.98h-5.0zM215.4 406.0h5.0v4.98h-5.0zM250.3 406.0h10.0v4.98h-10.0zM350.0 406.0h5.0v4.98h-5.0zM379.9 406.0h5.0v4.98h-5.0zM459.6 406.0h5.0v4.98h-5.0zM150.6 411.0h5.0v4.98h-5.0zM165.5 411.0h10.0v4.98h-10.0zM200.4 411.0h5.0v4.98h-5.0zM220.4 411.0h5.0v4.98h-5.0zM245.3 411.0h5.0v4.98h-5.0zM265.2 411.0h5.0v4.98h-5.0zM384.9 411.0h5.0v4.98h-5.0zM409.8 411.0h5.0v4.98h-5.0zM200.4 416.0h10.0v4.98h-10.0zM235.3 416.0h10.0v4.98h-10.0zM255.3 416.0h5.0v4.98h-5.0zM265.2 416.0h5.0v4.98h-5.0zM310.1 416.0h5.0v4.98h-5.0zM345.0 416.0h5.0v4.98h-5.0zM394.8 416.0h5.0v4.98h-5.0zM404.8 416.0h5.0v4.98h-5.0zM434.7 416.0h10.0v4.98h-10.0zM449.7 416.0h5.0v4.98h-5.0zM165.5 421.0h5.0v4.98h-5.0zM195.4 421.0h5.0v4.98h-5.0zM245.3 421.0h5.0v4.98h-5.0zM255.3 421.0h5.0v4.98h-5.0zM310.1 421.0h5.0v4.98h-5.0zM369.9 421.0h10.0v4.98h-10.0zM414.8 421.0h5.0v4.98h-5.0zM439.7 421.0h5.0v4.98h-5.0zM474.6 421.0h5.0v4.98h-5.0zM195.4 425.9h5.0v4.98h-5.0zM255.3 425.9h10.0v4.98h-10.0zM320.1 425.9h5.0v4.98h-5.0zM335.0 425.9h5.0v4.98h-5.0zM414.8 425.9h5.0v4.98h-5.0zM449.7 425.9h10.0v4.98h-10.0zM474.6 425.9h5.0v4.98h-5.0zM155.6 430.9h10.0v4.98h-10.0zM180.5 430.9h5.0v4.98h-5.0zM190.5 430.9h5.0v4.98h-5.0zM384.9 430.9h5.0v4.98h-5.0zM399.8 430.9h5.0v4.98h-5.0zM414.8 430.9h15.0v4.98h-15.0zM479.6 430.9h5.0v4.98h-5.0zM494.5 430.9h5.0v4.98h-5.0zM165.5 435.9h10.0v4.98h-10.0zM180.5 435.9h5.0v4.98h-5.0zM190.5 435.9h5.0v4.98h-5.0zM325.0 435.9h5.0v4.98h-5.0zM369.9 435.9h5.0v4.98h-5.0zM394.8 435.9h5.0v4.98h-5.0zM434.7 435.9h5.0v4.98h-5.0zM155.6 440.9h5.0v4.98h-5.0zM185.5 440.9h5.0v4.98h-5.0zM245.3 440.9h5.0v4.98h-5.0zM320.1 440.9h5.0v4.98h-5.0zM354.9 440.9h5.0v4.98h-5.0zM369.9 440.9h5.0v4.98h-5.0zM379.9 440.9h5.0v4.98h-5.0zM414.8 440.9h5.0v4.98h-5.0zM429.7 440.9h5.0v4.98h-5.0zM464.6 440.9h5.0v4.98h-5.0zM175.5 445.9h10.0v4.98h-10.0zM230.3 445.9h5.0v4.98h-5.0zM245.3 445.9h5.0v4.98h-5.0zM270.2 445.9h5.0v4.98h-5.0zM315.1 445.9h5.0v4.98h-5.0zM325.0 445.9h5.0v4.98h-5.0zM354.9 445.9h5.0v4.98h-5.0zM464.6 445.9h10.0v4.98h-10.0zM489.5 445.9h10.0v4.98h-10.0zM145.6 450.9h5.0v4.98h-5.0zM195.4 450.9h5.0v4.98h-5.0zM245.3 450.9h5.0v4.98h-5.0zM295.1 450.9h5.0v4.98h-5.0zM409.8 450.9h5.0v4.98h-5.0zM429.7 450.9h10.0v4.98h-10.0zM449.7 450.9h5.0v4.98h-5.0zM464.6 450.9h5.0v4.98h-5.0zM484.5 450.9h5.0v4.98h-5.0zM175.5 455.8h5.0v4.98h-5.0zM210.4 455.8h5.0v4.98h-5.0zM230.3 455.8h5.0v4.98h-5.0zM310.1 455.8h5.0v4.98h-5.0zM340.0 455.8h5.0v4.98h-5.0zM374.9 455.8h5.0v4.98h-5.0zM389.8 455.8h10.0v4.98h-10.0zM434.7 455.8h5.0v4.98h-5.0zM449.7 455.8h10.0v4.98h-10.0zM469.6 455.8h5.0v4.98h-5.0zM145.6 460.8h5.0v4.98h-5.0zM205.4 460.8h5.0v4.98h-5.0zM220.4 460.8h5.0v4.98h-5.0zM230.3 460.8h5.0v4.98h-5.0zM265.2 460.8h5.0v4.98h-5.0zM285.2 460.8h5.0v4.98h-5.0zM310.1 460.8h5.0v4.98h-5.0zM320.1 460.8h10.0v4.98h-10.0zM345.0 460.8h5.0v4.98h-5.0zM354.9 460.8h5.0v4.98h-5.0zM389.8 460.8h10.0v4.98h-10.0zM449.7 460.8h10.0v4.98h-10.0zM474.6 460.8h5.0v4.98h-5.0zM175.5 465.8h5.0v4.98h-5.0zM210.4 465.8h5.0v4.98h-5.0zM245.3 465.8h5.0v4.98h-5.0zM265.2 465.8h5.0v4.98h-5.0zM295.1 465.8h5.0v4.98h-5.0zM340.0 465.8h5.0v4.98h-5.0zM354.9 465.8h10.0v4.98h-10.0zM394.8 465.8h10.0v4.98h-10.0zM439.7 465.8h5.0v4.98h-5.0zM170.5 470.8h5.0v4.98h-5.0zM220.4 470.8h5.0v4.98h-5.0zM265.2 470.8h5.0v4.98h-5.0zM285.2 470.8h5.0v4.98h-5.0zM300.1 470.8h10.0v4.98h-10.0zM320.1 470.8h5.0v4.98h-5.0zM354.9 470.8h5.0v4.98h-5.0zM364.9 470.8h5.0v4.98h-5.0zM384.9 470.8h5.0v4.98h-5.0zM399.8 470.8h5.0v4.98h-5.0zM419.7 470.8h5.0v4.98h-5.0zM429.7 470.8h5.0v4.98h-5.0zM439.7 470.8h5.0v4.98h-5.0zM474.6 470.8h5.0v4.98h-5.0zM170.5 475.8h5.0v4.98h-5.0zM185.5 475.8h5.0v4.98h-5.0zM250.3 475.8h5.0v4.98h-5.0zM265.2 475.8h5.0v4.98h-5.0zM275.2 475.8h5.0v4.98h-5.0zM335.0 475.8h5.0v4.98h-5.0zM369.9 475.8h5.0v4.98h-5.0zM399.8 475.8h5.0v4.98h-5.0zM414.8 475.8h5.0v4.98h-5.0zM429.7 475.8h10.0v4.98h-10.0zM454.6 475.8h5.0v4.98h-5.0zM464.6 475.8h5.0v4.98h-5.0zM240.3 480.8h5.0v4.98h-5.0zM250.3 480.8h5.0v4.98h-5.0zM265.2 480.8h5.0v4.98h-5.0zM290.2 480.8h5.0v4.98h-5.0zM305.1 480.8h5.0v4.98h-5.0zM359.9 480.8h5.0v4.98h-5.0zM379.9 480.8h5.0v4.98h-5.0zM150.6 485.8h5.0v4.98h-5.0zM165.5 485.8h5.0v4.98h-5.0zM240.3 485.8h5.0v4.98h-5.0zM275.2 485.8h5.0v4.98h-5.0zM359.9 485.8h5.0v4.98h-5.0zM399.8 485.8h5.0v4.98h-5.0zM409.8 485.8h5.0v4.98h-5.0zM444.7 485.8h5.0v4.98h-5.0zM494.5 485.8h5.0v4.98h-5.0zM165.5 490.7h5.0v4.98h-5.0zM195.4 490.7h10.0v4.98h-10.0zM215.4 490.7h5.0v4.98h-5.0zM245.3 490.7h5.0v4.98h-5.0zM255.3 490.7h5.0v4.98h-5.0zM320.1 490.7h5.0v4.98h-5.0zM345.0 490.7h5.0v4.98h-5.0zM369.9 490.7h5.0v4.98h-5.0zM394.8 490.7h10.0v4.98h-10.0zM449.7 490.7h5.0v4.98h-5.0zM489.5 490.7h5.0v4.98h-5.0zM145.6 495.7h5.0v4.98h-5.0zM170.5 495.7h5.0v4.98h-5.0zM185.5 495.7h5.0v4.98h-5.0zM215.4 495.7h5.0v4.98h-5.0zM230.3 495.7h10.0v4.98h-10.0zM250.3 495.7h5.0v4.98h-5.0zM260.2 495.7h15.0v4.98h-15.0zM295.1 495.7h5.0v4.98h-5.0zM449.7 495.7h5.0v4.98h-5.0zM145.6 500.7h5.0v4.98h-5.0zM160.6 500.7h5.0v4.98h-5.0zM185.5 500.7h5.0v4.98h-5.0zM245.3 500.7h5.0v4.98h-5.0zM275.2 500.7h5.0v4.98h-5.0zM315.1 500.7h5.0v4.98h-5.0zM330.0 500.7h5.0v4.98h-5.0zM394.8 500.7h5.0v4.98h-5.0zM230.3 505.7h5.0v4.98h-5.0zM245.3 505.7h5.0v4.98h-5.0zM290.2 505.7h5.0v4.98h-5.0zM300.1 505.7h5.0v4.98h-5.0zM315.1 505.7h5.0v4.98h-5.0zM335.0 505.7h5.0v4.98h-5.0zM389.8 505.7h5.0v4.98h-5.0zM444.7 505.7h5.0v4.98h-5.0zM459.6 505.7h5.0v4.98h-5.0zM494.5 505.7h5.0v4.98h-5.0zM145.6 510.7h5.0v4.98h-5.0zM459.6 510.7h5.0v4.98h-5.0zM145.6 515.7h5.0v4.98h-5.0zM185.5 515.7h5.0v4.98h-5.0zM245.3 515.7h5.0v4.98h-5.0zM424.7 515.7h5.0v4.98h-5.0zM484.5 515.7h5.0v4.98h-5.0zM310.1 520.6h5.0v4.98h-5.0zM330.0 520.6h5.0v4.98h-5.0zM414.8 520.6h5.0v4.98h-5.0zM424.7 520.6h10.0v4.98h-10.0zM479.6 520.6h5.0v4.98h-5.0zM190.5 525.6h5.0v4.98h-5.0zM250.3 525.6h5.0v4.98h-5.0zM310.1 525.6h5.0v4.98h-5.0zM350.0 525.6h5.0v4.98h-5.0zM374.9 525.6h10.0v4.98h-10.0zM394.8 525.6h5.0v4.98h-5.0zM424.7 525.6h5.0v4.98h-5.0zM235.3 530.6h5.0v4.98h-5.0zM255.3 530.6h5.0v4.98h-5.0zM295.1 530.6h10.0v4.98h-10.0zM315.1 530.6h5.0v4.98h-5.0zM364.9 530.6h5.0v4.98h-5.0zM379.9 530.6h5.0v4.98h-5.0zM439.7 530.6h5.0v4.98h-5.0zM190.5 535.6h10.0v4.98h-10.0zM255.3 535.6h5.0v4.98h-5.0zM354.9 535.6h5.0v4.98h-5.0zM379.9 535.6h5.0v4.98h-5.0zM389.8 535.6h5.0v4.98h-5.0zM414.8 535.6h5.0v4.98h-5.0zM469.6 535.6h10.0v4.98h-10.0zM175.5 540.6h5.0v4.98h-5.0zM220.4 540.6h5.0v4.98h-5.0zM240.3 540.6h5.0v4.98h-5.0zM255.3 540.6h10.0v4.98h-10.0zM399.8 540.6h10.0v4.98h-10.0zM459.6 540.6h5.0v4.98h-5.0zM484.5 540.6h5.0v4.98h-5.0zM145.6 545.6h5.0v4.98h-5.0zM315.1 545.6h10.0v4.98h-10.0zM354.9 545.6h5.0v4.98h-5.0zM374.9 545.6h10.0v4.98h-10.0zM399.8 545.6h5.0v4.98h-5.0zM484.5 545.6h5.0v4.98h-5.0zM145.6 550.6h5.0v4.98h-5.0zM195.4 550.6h5.0v4.98h-5.0zM215.4 550.6h5.0v4.98h-5.0zM270.2 550.6h5.0v4.98h-5.0zM330.0 550.6h5.0v4.98h-5.0zM369.9 550.6h5.0v4.98h-5.0zM379.9 550.6h5.0v4.98h-5.0zM454.6 550.6h5.0v4.98h-5.0zM494.5 550.6h5.0v4.98h-5.0zM160.6 555.5h5.0v4.98h-5.0zM255.3 555.5h5.0v4.98h-5.0zM300.1 555.5h5.0v4.98h-5.0zM310.1 555.5h5.0v4.98h-5.0zM325.0 555.5h10.0v4.98h-10.0zM384.9 555.5h5.0v4.98h-5.0zM419.7 555.5h5.0v4.98h-5.0zM145.6 560.5h10.0v4.98h-10.0zM285.2 560.5h5.0v4.98h-5.0zM310.1 560.5h5.0v4.98h-5.0zM330.0 560.5h5.0v4.98h-5.0zM384.9 560.5h5.0v4.98h-5.0zM439.7 560.5h5.0v4.98h-5.0zM454.6 560.5h5.0v4.98h-5.0zM205.4 565.5h5.0v4.98h-5.0zM250.3 565.5h5.0v4.98h-5.0zM325.0 565.5h5.0v4.98h-5.0zM389.8 565.5h5.0v4.98h-5.0zM404.8 565.5h5.0v4.98h-5.0zM424.7 565.5h5.0v4.98h-5.0zM195.4 570.5h5.0v4.98h-5.0zM250.3 570.5h5.0v4.98h-5.0zM265.2 570.5h10.0v4.98h-10.0zM285.2 570.5h5.0v4.98h-5.0zM320.1 570.5h10.0v4.98h-10.0zM335.0 570.5h5.0v4.98h-5.0zM345.0 570.5h5.0v4.98h-5.0zM359.9 570.5h5.0v4.98h-5.0zM369.9 570.5h5.0v4.98h-5.0zM160.6 575.5h5.0v4.98h-5.0zM235.3 575.5h5.0v4.98h-5.0zM335.0 575.5h5.0v4.98h-5.0zM404.8 575.5h5.0v4.98h-5.0zM469.6 575.5h5.0v4.98h-5.0zM489.5 575.5h5.0v4.98h-5.0zM150.6 580.5h5.0v4.98h-5.0zM175.5 580.5h5.0v4.98h-5.0zM305.1 580.5h10.0v4.98h-10.0zM404.8 580.5h5.0v4.98h-5.0zM419.7 580.5h5.0v4.98h-5.0zM444.7 580.5h5.0v4.98h-5.0zM165.5 585.4h10.0v4.98h-10.0zM185.5 585.4h15.0v4.98h-15.0zM230.3 585.4h10.0v4.98h-10.0zM245.3 585.4h10.0v4.98h-10.0zM260.2 585.4h5.0v4.98h-5.0zM469.6 585.4h5.0v4.98h-5.0zM494.5 585.4h5.0v4.98h-5.0zM190.5 590.4h10.0v4.98h-10.0zM230.3 590.4h5.0v4.98h-5.0zM270.2 590.4h5.0v4.98h-5.0zM290.2 590.4h5.0v4.98h-5.0zM315.1 590.4h5.0v4.98h-5.0zM419.7 590.4h5.0v4.98h-5.0zM434.7 590.4h5.0v4.98h-5.0zM479.6 590.4h5.0v4.98h-5.0zM489.5 590.4h5.0v4.98h-5.0zM150.6 595.4h5.0v4.98h-5.0zM185.5 595.4h5.0v4.98h-5.0zM200.4 595.4h5.0v4.98h-5.0zM250.3 595.4h5.0v4.98h-5.0zM260.2 595.4h10.0v4.98h-10.0zM290.2 595.4h5.0v4.98h-5.0zM300.1 595.4h5.0v4.98h-5.0zM330.0 595.4h10.0v4.98h-10.0zM345.0 595.4h5.0v4.98h-5.0z" fill="rgb(215,219,219)"/>
<path d="M270.2 246.5h5.0v4.98h-5.0zM359.9 246.5h5.0v4.98h-5.0zM454.6 246.5h10.0v4.98h-10.0zM195.4 251.5h5.0v4.98h-5.0zM260.2 251.5h5.0v4.98h-5.0zM270.2 251.5h5.0v4.98h-5.0zM479.6 251.5h5.0v4.98h-5.0zM165.5 256.5h5.0v4.98h-5.0zM220.4 256.5h5.0v4.98h-5.0zM265.2 256.5h5.0v4.98h-5.0zM305.1 256.5h5.0v4.98h-5.0zM449.7 256.5h10.0v4.98h-10.0zM469.6 256.5h5.0v4.98h-5.0zM160.6 261.5h5.0v4.98h-5.0zM180.5 261.5h5.0v4.98h-5.0zM300.1 261.5h5.0v4.98h-5.0zM404.8 261.5h5.0v4.98h-5.0zM155.6 266.4h5.0v4.98h-5.0zM300.1 266.4h5.0v4.98h-5.0zM155.6 271.4h5.0v4.98h-5.0zM185.5 271.4h5.0v4.98h-5.0zM335.0 271.4h5.0v4.98h-5.0zM230.3 276.4h5.0v4.98h-5.0zM145.6 281.4h5.0v4.98h-5.0zM285.2 281.4h5.0v4.98h-5.0zM345.0 281.4h5.0v4.98h-5.0zM215.4 286.4h10.0v4.98h-10.0zM469.6 286.4h5.0v4.98h-5.0zM150.6 291.4h5.0v4.98h-5.0zM489.5 291.4h5.0v4.98h-5.0zM155.6 296.3h10.0v4.98h-10.0zM399.8 296.3h5.0v4.98h-5.0zM414.8 296.3h5.0v4.98h-5.0zM494.5 296.3h5.0v4.98h-5.0zM220.4 301.3h10.0v4.98h-10.0zM325.0 301.3h5.0v4.98h-5.0zM394.8 301.3h5.0v4.98h-5.0zM469.6 301.3h5.0v4.98h-5.0zM265.2 306.3h5.0v4.98h-5.0zM345.0 306.3h15.0v4.98h-15.0zM429.7 306.3h5.0v4.98h-5.0zM454.6 306.3h5.0v4.98h-5.0zM469.6 306.3h5.0v4.98h-5.0zM275.2 311.3h5.0v4.98h-5.0zM195.4 316.3h5.0v4.98h-5.0zM220.4 316.3h5.0v4.98h-5.0zM230.3 316.3h5.0v4.98h-5.0zM354.9 316.3h5.0v4.98h-5.0zM389.8 316.3h10.0v4.98h-10.0zM180.5 321.3h5.0v4.98h-5.0zM230.3 321.3h5.0v4.98h-5.0zM250.3 321.3h10.0v4.98h-10.0zM354.9 321.3h15.0v4.98h-15.0zM394.8 321.3h5.0v4.98h-5.0zM429.7 321.3h5.0v4.98h-5.0zM464.6 321.3h5.0v4.98h-5.0zM484.5 321.3h5.0v4.98h-5.0zM160.6 326.3h5.0v4.98h-5.0zM230.3 326.3h5.0v4.98h-5.0zM280.2 326.3h5.0v4.98h-5.0zM320.1 326.3h5.0v4.98h-5.0zM369.9 326.3h5.0v4.98h-5.0zM429.7 326.3h5.0v4.98h-5.0zM484.5 326.3h5.0v4.98h-5.0zM494.5 326.3h5.0v4.98h-5.0zM160.6 331.2h5.0v4.98h-5.0zM305.1 331.2h10.0v4.98h-10.0zM335.0 331.2h5.0v4.98h-5.0zM369.9 331.2h15.0v4.98h-15.0zM389.8 331.2h5.0v4.98h-5.0zM404.8 331.2h5.0v4.98h-5.0zM449.7 331.2h5.0v4.98h-5.0zM494.5 331.2h5.0v4.98h-5.0zM145.6 336.2h5.0v4.98h-5.0zM160.6 336.2h10.0v4.98h-10.0zM245.3 336.2h5.0v4.98h-5.0zM265.2 336.2h10.0v4.98h-10.0zM310.1 336.2h5.0v4.98h-5.0zM364.9 336.2h5.0v4.98h-5.0zM394.8 336.2h5.0v4.98h-5.0zM494.5 336.2h5.0v4.98h-5.0zM160.6 341.2h10.0v4.98h-10.0zM394.8 341.2h5.0v4.98h-5.0zM449.7 341.2h5.0v4.98h-5.0zM220.4 346.2h5.0v4.98h-5.0zM315.1 346.2h10.0v4.98h-10.0zM429.7 346.2h5.0v4.98h-5.0zM444.7 346.2h5.0v4.98h-5.0zM479.6 346.2h5.0v4.98h-5.0zM220.4 351.2h5.0v4.98h-5.0zM335.0 351.2h5.0v4.98h-5.0zM479.6 351.2h5.0v4.98h-5.0zM180.5 356.2h5.0v4.98h-5.0zM190.5 356.2h5.0v4.98h-5.0zM345.0 356.2h10.0v4.98h-10.0zM175.5 361.1h5.0v4.98h-5.0zM190.5 361.1h5.0v4.98h-5.0zM350.0 361.1h5.0v4.98h-5.0zM434.7 361.1h5.0v4.98h-5.0zM210.4 371.1h5.0v4.98h-5.0zM379.9 371.1h5.0v4.98h-5.0zM454.6 376.1h5.0v4.98h-5.0zM145.6 381.1h5.0v4.98h-5.0zM145.6 386.1h5.0v4.98h-5.0zM275.2 386.1h5.0v4.98h-5.0zM424.7 386.1h10.0v4.98h-10.0zM200.4 391.1h5.0v4.98h-5.0zM325.0 391.1h5.0v4.98h-5.0zM459.6 391.1h5.0v4.98h-5.0zM185.5 396.0h5.0v4.98h-5.0zM310.1 396.0h5.0v4.98h-5.0zM325.0 396.0h5.0v4.98h-5.0zM350.0 396.0h5.0v4.98h-5.0zM489.5 396.0h5.0v4.98h-5.0zM205.4 401.0h5.0v4.98h-5.0zM310.1 401.0h5.0v4.98h-5.0zM325.0 401.0h5.0v4.98h-5.0zM444.7 401.0h5.0v4.98h-5.0zM205.4 406.0h5.0v4.98h-5.0zM295.1 406.0h5.0v4.98h-5.0zM330.0 406.0h5.0v4.98h-5.0zM444.7 406.0h10.0v4.98h-10.0zM225.4 416.0h5.0v4.98h-5.0zM335.0 416.0h10.0v4.98h-10.0zM389.8 421.0h5.0v4.98h-5.0zM429.7 421.0h5.0v4.98h-5.0zM469.6 421.0h5.0v4.98h-5.0zM484.5 421.0h5.0v4.98h-5.0zM220.4 425.9h5.0v4.98h-5.0zM389.8 425.9h5.0v4.98h-5.0zM270.2 430.9h5.0v4.98h-5.0zM345.0 430.9h10.0v4.98h-10.0zM459.6 430.9h5.0v4.98h-5.0zM489.5 430.9h5.0v4.98h-5.0zM240.3 435.9h5.0v4.98h-5.0zM260.2 435.9h5.0v4.98h-5.0zM330.0 435.9h5.0v4.98h-5.0zM439.7 435.9h5.0v4.98h-5.0zM205.4 440.9h5.0v4.98h-5.0zM240.3 440.9h5.0v4.98h-5.0zM419.7 445.9h5.0v4.98h-5.0zM150.6 450.9h10.0v4.98h-10.0zM290.2 450.9h5.0v4.98h-5.0zM310.1 450.9h5.0v4.98h-5.0zM439.7 450.9h5.0v4.98h-5.0zM474.6 450.9h5.0v4.98h-5.0zM270.2 455.8h5.0v4.98h-5.0zM350.0 455.8h5.0v4.98h-5.0zM439.7 455.8h5.0v4.98h-5.0zM195.4 460.8h5.0v4.98h-5.0zM225.4 460.8h5.0v4.98h-5.0zM250.3 460.8h5.0v4.98h-5.0zM270.2 460.8h5.0v4.98h-5.0zM404.8 460.8h5.0v4.98h-5.0zM225.4 465.8h5.0v4.98h-5.0zM350.0 465.8h5.0v4.98h-5.0zM369.9 465.8h10.0v4.98h-10.0zM464.6 465.8h10.0v4.98h-10.0zM225.4 470.8h5.0v4.98h-5.0zM150.6 475.8h5.0v4.98h-5.0zM210.4 475.8h5.0v4.98h-5.0zM210.4 480.8h5.0v4.98h-5.0zM270.2 485.8h5.0v4.98h-5.0zM310.1 490.7h5.0v4.98h-5.0zM280.2 495.7h5.0v4.98h-5.0zM389.8 495.7h5.0v4.98h-5.0zM424.7 495.7h5.0v4.98h-5.0zM484.5 495.7h5.0v4.98h-5.0zM220.4 500.7h5.0v4.98h-5.0zM374.9 500.7h5.0v4.98h-5.0zM414.8 500.7h5.0v4.98h-5.0zM215.4 505.7h10.0v4.98h-10.0zM250.3 505.7h10.0v4.98h-10.0zM374.9 505.7h5.0v4.98h-5.0zM419.7 505.7h5.0v4.98h-5.0zM454.6 505.7h5.0v4.98h-5.0zM280.2 510.7h5.0v4.98h-5.0zM340.0 510.7h5.0v4.98h-5.0zM419.7 510.7h5.0v4.98h-5.0zM489.5 510.7h5.0v4.98h-5.0zM205.4 515.7h5.0v4.98h-5.0zM220.4 515.7h5.0v4.98h-5.0zM275.2 515.7h5.0v4.98h-5.0zM295.1 515.7h5.0v4.98h-5.0zM340.0 515.7h5.0v4.98h-5.0zM210.4 520.6h5.0v4.98h-5.0zM340.0 520.6h5.0v4.98h-5.0zM494.5 520.6h5.0v4.98h-5.0zM155.6 525.6h5.0v4.98h-5.0zM160.6 530.6h5.0v4.98h-5.0zM185.5 530.6h5.0v4.98h-5.0zM215.4 530.6h10.0v4.98h-10.0zM444.7 530.6h5.0v4.98h-5.0zM165.5 535.6h10.0v4.98h-10.0zM180.5 535.6h5.0v4.98h-5.0zM210.4 535.6h10.0v4.98h-10.0zM340.0 535.6h5.0v4.98h-5.0zM369.9 535.6h5.0v4.98h-5.0zM180.5 540.6h5.0v4.98h-5.0zM265.2 540.6h5.0v4.98h-5.0zM280.2 540.6h5.0v4.98h-5.0zM305.1 540.6h10.0v4.98h-10.0zM374.9 540.6h5.0v4.98h-5.0zM409.8 540.6h5.0v4.98h-5.0zM180.5 545.6h5.0v4.98h-5.0zM230.3 545.6h5.0v4.98h-5.0zM265.2 545.6h5.0v4.98h-5.0zM389.8 545.6h5.0v4.98h-5.0zM414.8 545.6h5.0v4.98h-5.0zM424.7 545.6h5.0v4.98h-5.0zM210.4 550.6h5.0v4.98h-5.0zM265.2 550.6h5.0v4.98h-5.0zM345.0 550.6h5.0v4.98h-5.0zM394.8 550.6h5.0v4.98h-5.0zM474.6 550.6h5.0v4.98h-5.0zM190.5 555.5h5.0v4.98h-5.0zM250.3 555.5h5.0v4.98h-5.0zM185.5 560.5h10.0v4.98h-10.0zM200.4 560.5h5.0v4.98h-5.0zM260.2 560.5h5.0v4.98h-5.0zM350.0 560.5h5.0v4.98h-5.0zM374.9 560.5h5.0v4.98h-5.0zM484.5 560.5h10.0v4.98h-10.0zM394.8 565.5h5.0v4.98h-5.0zM429.7 565.5h5.0v4.98h-5.0zM459.6 565.5h5.0v4.98h-5.0zM494.5 565.5h5.0v4.98h-5.0zM190.5 570.5h5.0v4.98h-5.0zM305.1 570.5h10.0v4.98h-10.0zM394.8 570.5h5.0v4.98h-5.0zM429.7 570.5h5.0v4.98h-5.0zM449.7 570.5h5.0v4.98h-5.0zM479.6 570.5h5.0v4.98h-5.0zM170.5 575.5h5.0v4.98h-5.0zM399.8 575.5h5.0v4.98h-5.0zM439.7 575.5h5.0v4.98h-5.0zM464.6 575.5h5.0v4.98h-5.0zM220.4 580.5h5.0v4.98h-5.0zM464.6 580.5h5.0v4.98h-5.0zM220.4 585.4h5.0v4.98h-5.0zM280.2 585.4h5.0v4.98h-5.0zM325.0 585.4h5.0v4.98h-5.0zM345.0 585.4h10.0v4.98h-10.0zM369.9 585.4h5.0v4.98h-5.0zM389.8 585.4h5.0v4.98h-5.0zM444.7 585.4h5.0v4.98h-5.0zM464.6 585.4h5.0v4.98h-5.0zM364.9 590.4h5.0v4.98h-5.0zM374.9 590.4h5.0v4.98h-5.0zM394.8 590.4h5.0v4.98h-5.0zM444.7 590.4h5.0v4.98h-5.0zM175.5 595.4h5.0v4.98h-5.0zM215.4 595.4h5.0v4.98h-5.0zM235.3 595.4h5.0v4.98h-5.0zM459.6 595.4h5.0v4.98h-5.0z" fill="rgb(235,239,239)"/>
<path d="M290.2 246.5h5.0v4.98h-5.0zM325.0 251.5h5.0v4.98h-5.0zM180.5 256.5h10.0v4.98h-10.0zM325.0 256.5h5.0v4.98h-5.0zM364.9 266.4h5.0v4.98h-5.0zM404.8 271.4h5.0v4.98h-5.0zM150.6 286.4h5.0v4.98h-5.0zM474.6 286.4h5.0v4.98h-5.0zM225.4 316.3h5.0v4.98h-5.0zM225.4 321.3h5.0v4.98h-5.0zM240.3 336.2h5.0v4.98h-5.0zM330.0 336.2h10.0v4.98h-10.0zM335.0 341.2h5.0v4.98h-5.0zM379.9 346.2h5.0v4.98h-5.0zM479.6 361.1h5.0v4.98h-5.0zM479.6 366.1h5.0v4.98h-5.0zM429.7 381.1h5.0v4.98h-5.0zM389.8 401.0h5.0v4.98h-5.0zM225.4 421.0h5.0v4.98h-5.0zM200.4 435.9h5.0v4.98h-5.0zM200.4 440.9h5.0v4.98h-5.0zM394.8 440.9h5.0v4.98h-5.0zM200.4 445.9h5.0v4.98h-5.0zM394.8 445.9h5.0v4.98h-5.0zM414.8 450.9h10.0v4.98h-10.0zM414.8 455.8h5.0v4.98h-5.0zM190.5 460.8h5.0v4.98h-5.0zM195.4 465.8h5.0v4.98h-5.0zM484.5 500.7h5.0v4.98h-5.0zM489.5 505.7h5.0v4.98h-5.0zM220.4 520.6h5.0v4.98h-5.0zM489.5 520.6h5.0v4.98h-5.0zM444.7 525.6h5.0v4.98h-5.0zM280.2 530.6h10.0v4.98h-10.0zM285.2 535.6h5.0v4.98h-5.0zM210.4 545.6h5.0v4.98h-5.0zM250.3 545.6h5.0v4.98h-5.0zM250.3 550.6h5.0v4.98h-5.0zM345.0 555.5h5.0v4.98h-5.0zM200.4 565.5h5.0v4.98h-5.0zM200.4 570.5h5.0v4.98h-5.0zM200.4 575.5h5.0v4.98h-5.0zM429.7 575.5h5.0v4.98h-5.0zM354.9 585.4h5.0v4.98h-5.0zM374.9 585.4h5.0v4.98h-5.0zM389.8 590.4h5.0v4.98h-5.0zM459.6 590.4h5.0v4.98h-5.0zM469.6 590.4h5.0v4.98h-5.0zM389.8 595.4h5.0v4.98h-5.0z" fill="rgb(243,247,247)"/>
<path d="M310.1 246.5h5.0v4.98h-5.0zM340.0 246.5h5.0v4.98h-5.0zM399.8 246.5h5.0v4.98h-5.0zM474.6 246.5h5.0v4.98h-5.0zM250.3 251.5h5.0v4.98h-5.0zM310.1 251.5h5.0v4.98h-5.0zM404.8 251.5h5.0v4.98h-5.0zM350.0 256.5h5.0v4.98h-5.0zM394.8 256.5h10.0v4.98h-10.0zM409.8 256.5h5.0v4.98h-5.0zM200.4 261.5h5.0v4.98h-5.0zM230.3 261.5h5.0v4.98h-5.0zM350.0 261.5h5.0v4.98h-5.0zM394.8 261.5h10.0v4.98h-10.0zM210.4 266.4h5.0v4.98h-5.0zM280.2 266.4h5.0v4.98h-5.0zM494.5 266.4h5.0v4.98h-5.0zM145.6 271.4h5.0v4.98h-5.0zM205.4 271.4h10.0v4.98h-10.0zM220.4 271.4h5.0v4.98h-5.0zM275.2 271.4h5.0v4.98h-5.0zM354.9 271.4h5.0v4.98h-5.0zM494.5 271.4h5.0v4.98h-5.0zM160.6 276.4h5.0v4.98h-5.0zM190.5 276.4h5.0v4.98h-5.0zM215.4 276.4h5.0v4.98h-5.0zM424.7 276.4h10.0v4.98h-10.0zM484.5 276.4h5.0v4.98h-5.0zM195.4 281.4h5.0v4.98h-5.0zM330.0 281.4h5.0v4.98h-5.0zM454.6 281.4h5.0v4.98h-5.0zM464.6 281.4h5.0v4.98h-5.0zM260.2 286.4h5.0v4.98h-5.0zM330.0 286.4h5.0v4.98h-5.0zM350.0 286.4h5.0v4.98h-5.0zM359.9 286.4h10.0v4.98h-10.0zM479.6 286.4h5.0v4.98h-5.0zM180.5 291.4h5.0v4.98h-5.0zM245.3 291.4h10.0v4.98h-10.0zM300.1 291.4h15.0v4.98h-15.0zM330.0 291.4h5.0v4.98h-5.0zM379.9 291.4h5.0v4.98h-5.0zM369.9 296.3h5.0v4.98h-5.0zM379.9 296.3h5.0v4.98h-5.0zM315.1 301.3h5.0v4.98h-5.0zM340.0 301.3h5.0v4.98h-5.0zM374.9 301.3h10.0v4.98h-10.0zM389.8 301.3h5.0v4.98h-5.0zM439.7 301.3h5.0v4.98h-5.0zM484.5 301.3h5.0v4.98h-5.0zM180.5 306.3h5.0v4.98h-5.0zM200.4 306.3h5.0v4.98h-5.0zM240.3 306.3h5.0v4.98h-5.0zM315.1 306.3h5.0v4.98h-5.0zM340.0 306.3h5.0v4.98h-5.0zM384.9 306.3h5.0v4.98h-5.0zM235.3 311.3h5.0v4.98h-5.0zM335.0 311.3h5.0v4.98h-5.0zM479.6 311.3h5.0v4.98h-5.0zM215.4 316.3h5.0v4.98h-5.0zM235.3 316.3h5.0v4.98h-5.0zM235.3 321.3h5.0v4.98h-5.0zM374.9 321.3h5.0v4.98h-5.0zM444.7 321.3h5.0v4.98h-5.0zM479.6 321.3h5.0v4.98h-5.0zM235.3 326.3h5.0v4.98h-5.0zM285.2 326.3h5.0v4.98h-5.0zM175.5 331.2h5.0v4.98h-5.0zM345.0 331.2h5.0v4.98h-5.0zM185.5 336.2h5.0v4.98h-5.0zM220.4 336.2h5.0v4.98h-5.0zM325.0 336.2h5.0v4.98h-5.0zM384.9 336.2h5.0v4.98h-5.0zM469.6 336.2h5.0v4.98h-5.0zM180.5 341.2h5.0v4.98h-5.0zM195.4 341.2h5.0v4.98h-5.0zM325.0 341.2h5.0v4.98h-5.0zM384.9 341.2h5.0v4.98h-5.0zM399.8 341.2h5.0v4.98h-5.0zM205.4 346.2h10.0v4.98h-10.0zM285.2 346.2h5.0v4.98h-5.0zM205.4 351.2h5.0v4.98h-5.0zM240.3 351.2h5.0v4.98h-5.0zM270.2 351.2h5.0v4.98h-5.0zM449.7 351.2h5.0v4.98h-5.0zM489.5 351.2h5.0v4.98h-5.0zM150.6 356.2h5.0v4.98h-5.0zM210.4 356.2h5.0v4.98h-5.0zM330.0 356.2h5.0v4.98h-5.0zM414.8 356.2h5.0v4.98h-5.0zM484.5 356.2h5.0v4.98h-5.0zM150.6 361.1h5.0v4.98h-5.0zM220.4 361.1h5.0v4.98h-5.0zM305.1 361.1h5.0v4.98h-5.0zM335.0 361.1h5.0v4.98h-5.0zM404.8 361.1h5.0v4.98h-5.0zM449.7 361.1h5.0v4.98h-5.0zM484.5 361.1h5.0v4.98h-5.0zM170.5 366.1h5.0v4.98h-5.0zM220.4 366.1h5.0v4.98h-5.0zM245.3 366.1h5.0v4.98h-5.0zM354.9 366.1h5.0v4.98h-5.0zM394.8 366.1h10.0v4.98h-10.0zM429.7 366.1h5.0v4.98h-5.0zM454.6 366.1h5.0v4.98h-5.0zM464.6 366.1h5.0v4.98h-5.0zM145.6 371.1h5.0v4.98h-5.0zM220.4 371.1h5.0v4.98h-5.0zM330.0 371.1h5.0v4.98h-5.0zM345.0 371.1h10.0v4.98h-10.0zM419.7 371.1h5.0v4.98h-5.0zM469.6 371.1h5.0v4.98h-5.0zM275.2 376.1h5.0v4.98h-5.0zM320.1 376.1h5.0v4.98h-5.0zM335.0 376.1h5.0v4.98h-5.0zM345.0 376.1h10.0v4.98h-10.0zM369.9 376.1h5.0v4.98h-5.0zM394.8 376.1h5.0v4.98h-5.0zM180.5 381.1h5.0v4.98h-5.0zM280.2 381.1h5.0v4.98h-5.0zM290.2 381.1h5.0v4.98h-5.0zM389.8 381.1h5.0v4.98h-5.0zM449.7 381.1h5.0v4.98h-5.0zM190.5 386.1h5.0v4.98h-5.0zM220.4 386.1h5.0v4.98h-5.0zM240.3 386.1h5.0v4.98h-5.0zM330.0 386.1h5.0v4.98h-5.0zM359.9 386.1h5.0v4.98h-5.0zM449.7 386.1h5.0v4.98h-5.0zM220.4 391.1h5.0v4.98h-5.0zM240.3 391.1h5.0v4.98h-5.0zM374.9 391.1h5.0v4.98h-5.0zM469.6 391.1h5.0v4.98h-5.0zM165.5 396.0h5.0v4.98h-5.0zM280.2 396.0h5.0v4.98h-5.0zM290.2 396.0h5.0v4.98h-5.0zM335.0 396.0h5.0v4.98h-5.0zM374.9 396.0h5.0v4.98h-5.0zM160.6 401.0h10.0v4.98h-10.0zM230.3 401.0h5.0v4.98h-5.0zM265.2 401.0h5.0v4.98h-5.0zM359.9 401.0h5.0v4.98h-5.0zM459.6 401.0h5.0v4.98h-5.0zM469.6 401.0h5.0v4.98h-5.0zM170.5 406.0h5.0v4.98h-5.0zM185.5 406.0h10.0v4.98h-10.0zM265.2 406.0h10.0v4.98h-10.0zM335.0 406.0h5.0v4.98h-5.0zM345.0 406.0h5.0v4.98h-5.0zM364.9 406.0h10.0v4.98h-10.0zM494.5 406.0h5.0v4.98h-5.0zM195.4 411.0h5.0v4.98h-5.0zM255.3 411.0h5.0v4.98h-5.0zM275.2 411.0h5.0v4.98h-5.0zM285.2 411.0h10.0v4.98h-10.0zM310.1 411.0h5.0v4.98h-5.0zM345.0 411.0h10.0v4.98h-10.0zM155.6 416.0h5.0v4.98h-5.0zM165.5 416.0h5.0v4.98h-5.0zM245.3 416.0h5.0v4.98h-5.0zM270.2 416.0h10.0v4.98h-10.0zM305.1 416.0h5.0v4.98h-5.0zM444.7 416.0h5.0v4.98h-5.0zM474.6 416.0h5.0v4.98h-5.0zM150.6 421.0h10.0v4.98h-10.0zM205.4 421.0h5.0v4.98h-5.0zM265.2 421.0h5.0v4.98h-5.0zM359.9 421.0h10.0v4.98h-10.0zM449.7 421.0h10.0v4.98h-10.0zM160.6 425.9h5.0v4.98h-5.0zM180.5 425.9h5.0v4.98h-5.0zM265.2 425.9h5.0v4.98h-5.0zM305.1 425.9h5.0v4.98h-5.0zM330.0 425.9h5.0v4.98h-5.0zM170.5 430.9h5.0v4.98h-5.0zM230.3 430.9h10.0v4.98h-10.0zM290.2 430.9h5.0v4.98h-5.0zM315.1 430.9h5.0v4.98h-5.0zM325.0 430.9h5.0v4.98h-5.0zM335.0 430.9h5.0v4.98h-5.0zM150.6 435.9h5.0v4.98h-5.0zM175.5 435.9h5.0v4.98h-5.0zM235.3 435.9h5.0v4.98h-5.0zM374.9 435.9h10.0v4.98h-10.0zM389.8 435.9h5.0v4.98h-5.0zM409.8 435.9h15.0v4.98h-15.0zM474.6 435.9h5.0v4.98h-5.0zM270.2 440.9h5.0v4.98h-5.0zM280.2 440.9h15.0v4.98h-15.0zM359.9 440.9h5.0v4.98h-5.0zM384.9 440.9h5.0v4.98h-5.0zM399.8 440.9h5.0v4.98h-5.0zM449.7 440.9h10.0v4.98h-10.0zM160.6 445.9h5.0v4.98h-5.0zM280.2 445.9h5.0v4.98h-5.0zM320.1 445.9h5.0v4.98h-5.0zM350.0 445.9h5.0v4.98h-5.0zM399.8 445.9h5.0v4.98h-5.0zM454.6 445.9h5.0v4.98h-5.0zM180.5 450.9h5.0v4.98h-5.0zM190.5 450.9h5.0v4.98h-5.0zM240.3 450.9h5.0v4.98h-5.0zM275.2 450.9h5.0v4.98h-5.0zM315.1 450.9h5.0v4.98h-5.0zM399.8 450.9h5.0v4.98h-5.0zM454.6 450.9h5.0v4.98h-5.0zM170.5 455.8h5.0v4.98h-5.0zM185.5 455.8h5.0v4.98h-5.0zM429.7 455.8h5.0v4.98h-5.0zM150.6 460.8h5.0v4.98h-5.0zM210.4 460.8h10.0v4.98h-10.0zM340.0 460.8h5.0v4.98h-5.0zM359.9 460.8h5.0v4.98h-5.0zM429.7 460.8h10.0v4.98h-10.0zM150.6 465.8h5.0v4.98h-5.0zM185.5 465.8h5.0v4.98h-5.0zM325.0 465.8h5.0v4.98h-5.0zM389.8 465.8h5.0v4.98h-5.0zM429.7 465.8h10.0v4.98h-10.0zM474.6 465.8h5.0v4.98h-5.0zM175.5 470.8h5.0v4.98h-5.0zM185.5 470.8h5.0v4.98h-5.0zM215.4 470.8h5.0v4.98h-5.0zM325.0 470.8h5.0v4.98h-5.0zM359.9 470.8h5.0v4.98h-5.0zM434.7 470.8h5.0v4.98h-5.0zM180.5 475.8h5.0v4.98h-5.0zM190.5 475.8h5.0v4.98h-5.0zM300.1 475.8h5.0v4.98h-5.0zM340.0 475.8h5.0v4.98h-5.0zM354.9 475.8h5.0v4.98h-5.0zM404.8 475.8h5.0v4.98h-5.0zM419.7 475.8h10.0v4.98h-10.0zM439.7 475.8h5.0v4.98h-5.0zM474.6 475.8h5.0v4.98h-5.0zM185.5 480.8h5.0v4.98h-5.0zM200.4 480.8h5.0v4.98h-5.0zM260.2 480.8h5.0v4.98h-5.0zM320.1 480.8h5.0v4.98h-5.0zM335.0 480.8h10.0v4.98h-10.0zM369.9 480.8h5.0v4.98h-5.0zM399.8 480.8h5.0v4.98h-5.0zM424.7 480.8h5.0v4.98h-5.0zM444.7 480.8h5.0v4.98h-5.0zM464.6 480.8h5.0v4.98h-5.0zM474.6 480.8h5.0v4.98h-5.0zM190.5 485.8h5.0v4.98h-5.0zM200.4 485.8h5.0v4.98h-5.0zM260.2 485.8h5.0v4.98h-5.0zM285.2 485.8h5.0v4.98h-5.0zM295.1 485.8h5.0v4.98h-5.0zM325.0 485.8h5.0v4.98h-5.0zM345.0 485.8h5.0v4.98h-5.0zM369.9 485.8h5.0v4.98h-5.0zM429.7 485.8h5.0v4.98h-5.0zM464.6 485.8h5.0v4.98h-5.0zM474.6 485.8h5.0v4.98h-5.0zM175.5 490.7h5.0v4.98h-5.0zM240.3 490.7h5.0v4.98h-5.0zM409.8 490.7h5.0v4.98h-5.0zM474.6 490.7h5.0v4.98h-5.0zM255.3 495.7h5.0v4.98h-5.0zM335.0 495.7h5.0v4.98h-5.0zM354.9 495.7h15.0v4.98h-15.0zM399.8 495.7h5.0v4.98h-5.0zM454.6 495.7h5.0v4.98h-5.0zM170.5 500.7h5.0v4.98h-5.0zM265.2 500.7h5.0v4.98h-5.0zM354.9 500.7h10.0v4.98h-10.0zM145.6 505.7h5.0v4.98h-5.0zM170.5 505.7h5.0v4.98h-5.0zM185.5 505.7h5.0v4.98h-5.0zM265.2 505.7h5.0v4.98h-5.0zM305.1 505.7h5.0v4.98h-5.0zM320.1 505.7h5.0v4.98h-5.0zM439.7 505.7h5.0v4.98h-5.0zM464.6 505.7h5.0v4.98h-5.0zM170.5 510.7h5.0v4.98h-5.0zM185.5 510.7h5.0v4.98h-5.0zM245.3 510.7h5.0v4.98h-5.0zM305.1 510.7h5.0v4.98h-5.0zM315.1 510.7h5.0v4.98h-5.0zM325.0 510.7h5.0v4.98h-5.0zM394.8 510.7h5.0v4.98h-5.0zM444.7 510.7h5.0v4.98h-5.0zM305.1 515.7h5.0v4.98h-5.0zM315.1 515.7h5.0v4.98h-5.0zM330.0 515.7h5.0v4.98h-5.0zM354.9 515.7h5.0v4.98h-5.0zM364.9 515.7h5.0v4.98h-5.0zM399.8 515.7h5.0v4.98h-5.0zM414.8 515.7h5.0v4.98h-5.0zM235.3 520.6h10.0v4.98h-10.0zM270.2 520.6h5.0v4.98h-5.0zM300.1 520.6h5.0v4.98h-5.0zM354.9 520.6h5.0v4.98h-5.0zM364.9 520.6h5.0v4.98h-5.0zM384.9 520.6h5.0v4.98h-5.0zM484.5 520.6h5.0v4.98h-5.0zM255.3 525.6h5.0v4.98h-5.0zM295.1 525.6h10.0v4.98h-10.0zM315.1 525.6h5.0v4.98h-5.0zM364.9 525.6h5.0v4.98h-5.0zM384.9 525.6h5.0v4.98h-5.0zM429.7 525.6h5.0v4.98h-5.0zM374.9 530.6h5.0v4.98h-5.0zM384.9 530.6h10.0v4.98h-10.0zM419.7 530.6h10.0v4.98h-10.0zM434.7 530.6h5.0v4.98h-5.0zM479.6 530.6h5.0v4.98h-5.0zM230.3 535.6h5.0v4.98h-5.0zM245.3 535.6h5.0v4.98h-5.0zM350.0 535.6h5.0v4.98h-5.0zM384.9 535.6h5.0v4.98h-5.0zM394.8 535.6h5.0v4.98h-5.0zM404.8 535.6h5.0v4.98h-5.0zM424.7 535.6h5.0v4.98h-5.0zM439.7 535.6h5.0v4.98h-5.0zM459.6 535.6h5.0v4.98h-5.0zM484.5 535.6h5.0v4.98h-5.0zM150.6 540.6h10.0v4.98h-10.0zM195.4 540.6h5.0v4.98h-5.0zM439.7 540.6h5.0v4.98h-5.0zM195.4 545.6h5.0v4.98h-5.0zM300.1 545.6h5.0v4.98h-5.0zM404.8 545.6h5.0v4.98h-5.0zM444.7 545.6h5.0v4.98h-5.0zM454.6 545.6h10.0v4.98h-10.0zM255.3 550.6h5.0v4.98h-5.0zM305.1 550.6h5.0v4.98h-5.0zM359.9 550.6h10.0v4.98h-10.0zM150.6 555.5h5.0v4.98h-5.0zM240.3 555.5h5.0v4.98h-5.0zM389.8 555.5h5.0v4.98h-5.0zM439.7 555.5h5.0v4.98h-5.0zM479.6 555.5h5.0v4.98h-5.0zM170.5 560.5h5.0v4.98h-5.0zM240.3 560.5h10.0v4.98h-10.0zM340.0 560.5h5.0v4.98h-5.0zM359.9 560.5h5.0v4.98h-5.0zM479.6 560.5h5.0v4.98h-5.0zM160.6 565.5h5.0v4.98h-5.0zM170.5 565.5h5.0v4.98h-5.0zM195.4 565.5h5.0v4.98h-5.0zM270.2 565.5h5.0v4.98h-5.0zM285.2 565.5h5.0v4.98h-5.0zM359.9 565.5h10.0v4.98h-10.0zM145.6 570.5h5.0v4.98h-5.0zM295.1 570.5h5.0v4.98h-5.0zM379.9 570.5h10.0v4.98h-10.0zM185.5 575.5h5.0v4.98h-5.0zM275.2 575.5h5.0v4.98h-5.0zM325.0 575.5h5.0v4.98h-5.0zM364.9 575.5h5.0v4.98h-5.0zM165.5 580.5h5.0v4.98h-5.0zM185.5 580.5h5.0v4.98h-5.0zM265.2 580.5h15.0v4.98h-15.0zM454.6 580.5h5.0v4.98h-5.0zM150.6 585.4h5.0v4.98h-5.0zM210.4 585.4h5.0v4.98h-5.0zM255.3 585.4h5.0v4.98h-5.0zM270.2 585.4h5.0v4.98h-5.0zM305.1 585.4h5.0v4.98h-5.0zM419.7 585.4h5.0v4.98h-5.0zM474.6 585.4h5.0v4.98h-5.0zM155.6 590.4h5.0v4.98h-5.0zM180.5 590.4h5.0v4.98h-5.0zM494.5 590.4h5.0v4.98h-5.0zM155.6 595.4h5.0v4.98h-5.0zM255.3 595.4h5.0v4.98h-5.0zM295.1 595.4h5.0v4.98h-5.0zM315.1 595.4h5.0v4.98h-5.0zM374.9 595.4h15.0v4.98h-15.0zM464.6 595.4h5.0v4.98h-5.0z" fill="rgb(211,215,215)"/>
<path d="M449.7 251.5h10.0v4.98h-10.0zM484.5 251.5h5.0v4.98h-5.0zM160.6 256.5h5.0v4.98h-5.0zM240.3 256.5h5.0v4.98h-5.0zM270.2 256.5h5.0v4.98h-5.0zM379.9 256.5h5.0v4.98h-5.0zM424.7 256.5h5.0v4.98h-5.0zM185.5 261.5h5.0v4.98h-5.0zM240.3 261.5h5.0v4.98h-5.0zM325.0 261.5h5.0v4.98h-5.0zM185.5 266.4h5.0v4.98h-5.0zM404.8 266.4h5.0v4.98h-5.0zM180.5 271.4h5.0v4.98h-5.0zM449.7 271.4h5.0v4.98h-5.0zM340.0 276.4h5.0v4.98h-5.0zM150.6 281.4h5.0v4.98h-5.0zM285.2 286.4h5.0v4.98h-5.0zM285.2 291.4h5.0v4.98h-5.0zM315.1 291.4h5.0v4.98h-5.0zM484.5 291.4h5.0v4.98h-5.0zM429.7 296.3h5.0v4.98h-5.0zM155.6 301.3h5.0v4.98h-5.0zM190.5 301.3h5.0v4.98h-5.0zM429.7 301.3h5.0v4.98h-5.0zM225.4 306.3h5.0v4.98h-5.0zM275.2 306.3h5.0v4.98h-5.0zM399.8 306.3h5.0v4.98h-5.0zM225.4 311.3h5.0v4.98h-5.0zM354.9 311.3h5.0v4.98h-5.0zM419.7 316.3h5.0v4.98h-5.0zM180.5 326.3h5.0v4.98h-5.0zM364.9 326.3h5.0v4.98h-5.0zM399.8 326.3h5.0v4.98h-5.0zM449.7 336.2h5.0v4.98h-5.0zM260.2 341.2h5.0v4.98h-5.0zM160.6 346.2h5.0v4.98h-5.0zM160.6 351.2h5.0v4.98h-5.0zM175.5 366.1h5.0v4.98h-5.0zM185.5 366.1h5.0v4.98h-5.0zM439.7 371.1h5.0v4.98h-5.0zM479.6 371.1h5.0v4.98h-5.0zM250.3 376.1h5.0v4.98h-5.0zM359.9 376.1h5.0v4.98h-5.0zM424.7 381.1h5.0v4.98h-5.0zM454.6 381.1h5.0v4.98h-5.0zM489.5 381.1h5.0v4.98h-5.0zM285.2 386.1h5.0v4.98h-5.0zM489.5 386.1h5.0v4.98h-5.0zM195.4 391.1h5.0v4.98h-5.0zM479.6 396.0h5.0v4.98h-5.0zM300.1 401.0h5.0v4.98h-5.0zM384.9 401.0h5.0v4.98h-5.0zM439.7 406.0h5.0v4.98h-5.0zM225.4 425.9h5.0v4.98h-5.0zM350.0 425.9h5.0v4.98h-5.0zM429.7 425.9h5.0v4.98h-5.0zM469.6 425.9h5.0v4.98h-5.0zM200.4 430.9h5.0v4.98h-5.0zM205.4 435.9h5.0v4.98h-5.0zM330.0 440.9h5.0v4.98h-5.0zM439.7 440.9h5.0v4.98h-5.0zM439.7 445.9h5.0v4.98h-5.0zM474.6 445.9h5.0v4.98h-5.0zM200.4 450.9h5.0v4.98h-5.0zM225.4 455.8h5.0v4.98h-5.0zM419.7 455.8h5.0v4.98h-5.0zM255.3 460.8h5.0v4.98h-5.0zM190.5 465.8h5.0v4.98h-5.0zM200.4 465.8h5.0v4.98h-5.0zM195.4 470.8h10.0v4.98h-10.0zM479.6 475.8h5.0v4.98h-5.0zM424.7 490.7h5.0v4.98h-5.0zM414.8 495.7h5.0v4.98h-5.0zM489.5 500.7h5.0v4.98h-5.0zM195.4 505.7h5.0v4.98h-5.0zM340.0 505.7h5.0v4.98h-5.0zM369.9 505.7h5.0v4.98h-5.0zM484.5 505.7h5.0v4.98h-5.0zM250.3 510.7h10.0v4.98h-10.0zM215.4 515.7h5.0v4.98h-5.0zM489.5 515.7h5.0v4.98h-5.0zM200.4 520.6h5.0v4.98h-5.0zM444.7 520.6h5.0v4.98h-5.0zM145.6 525.6h5.0v4.98h-5.0zM160.6 525.6h5.0v4.98h-5.0zM220.4 525.6h5.0v4.98h-5.0zM280.2 525.6h5.0v4.98h-5.0zM145.6 530.6h5.0v4.98h-5.0zM155.6 530.6h5.0v4.98h-5.0zM210.4 530.6h5.0v4.98h-5.0zM280.2 535.6h5.0v4.98h-5.0zM210.4 540.6h5.0v4.98h-5.0zM340.0 540.6h5.0v4.98h-5.0zM369.9 540.6h5.0v4.98h-5.0zM429.7 545.6h10.0v4.98h-10.0zM379.9 555.5h5.0v4.98h-5.0zM379.9 560.5h5.0v4.98h-5.0zM215.4 565.5h5.0v4.98h-5.0zM260.2 565.5h5.0v4.98h-5.0zM374.9 565.5h5.0v4.98h-5.0zM340.0 575.5h5.0v4.98h-5.0zM479.6 575.5h5.0v4.98h-5.0zM205.4 580.5h5.0v4.98h-5.0zM285.2 580.5h5.0v4.98h-5.0zM354.9 580.5h5.0v4.98h-5.0zM429.7 580.5h5.0v4.98h-5.0zM320.1 585.4h5.0v4.98h-5.0zM359.9 585.4h5.0v4.98h-5.0zM379.9 585.4h5.0v4.98h-5.0zM459.6 585.4h5.0v4.98h-5.0zM350.0 590.4h10.0v4.98h-10.0zM424.7 595.4h5.0v4.98h-5.0zM469.6 595.4h5.0v4.98h-5.0z" fill="rgb(239,243,243)"/>
<path d="M310.1 256.5h5.0v4.98h-5.0zM414.8 271.4h5.0v4.98h-5.0zM195.4 276.4h5.0v4.98h-5.0zM260.2 281.4h5.0v4.98h-5.0zM479.6 281.4h5.0v4.98h-5.0zM325.0 286.4h5.0v4.98h-5.0zM345.0 291.4h5.0v4.98h-5.0zM255.3 296.3h5.0v4.98h-5.0zM310.1 296.3h5.0v4.98h-5.0zM350.0 296.3h5.0v4.98h-5.0zM235.3 301.3h5.0v4.98h-5.0zM369.9 301.3h5.0v4.98h-5.0zM474.6 301.3h5.0v4.98h-5.0zM175.5 306.3h5.0v4.98h-5.0zM414.8 306.3h5.0v4.98h-5.0zM479.6 306.3h5.0v4.98h-5.0zM414.8 311.3h5.0v4.98h-5.0zM384.9 316.3h5.0v4.98h-5.0zM434.7 326.3h5.0v4.98h-5.0zM195.4 331.2h5.0v4.98h-5.0zM195.4 336.2h5.0v4.98h-5.0zM419.7 351.2h5.0v4.98h-5.0zM300.1 356.2h5.0v4.98h-5.0zM424.7 356.2h5.0v4.98h-5.0zM449.7 356.2h10.0v4.98h-10.0zM290.2 361.1h5.0v4.98h-5.0zM379.9 361.1h5.0v4.98h-5.0zM300.1 366.1h5.0v4.98h-5.0zM280.2 376.1h5.0v4.98h-5.0zM325.0 381.1h5.0v4.98h-5.0zM320.1 386.1h5.0v4.98h-5.0zM354.9 386.1h5.0v4.98h-5.0zM170.5 396.0h5.0v4.98h-5.0zM170.5 401.0h5.0v4.98h-5.0zM335.0 401.0h5.0v4.98h-5.0zM155.6 406.0h5.0v4.98h-5.0zM369.9 411.0h5.0v4.98h-5.0zM175.5 416.0h5.0v4.98h-5.0zM150.6 425.9h5.0v4.98h-5.0zM474.6 430.9h5.0v4.98h-5.0zM399.8 435.9h5.0v4.98h-5.0zM145.6 440.9h5.0v4.98h-5.0zM160.6 440.9h5.0v4.98h-5.0zM145.6 445.9h5.0v4.98h-5.0zM185.5 445.9h5.0v4.98h-5.0zM404.8 450.9h5.0v4.98h-5.0zM315.1 455.8h5.0v4.98h-5.0zM180.5 465.8h5.0v4.98h-5.0zM315.1 465.8h5.0v4.98h-5.0zM384.9 465.8h5.0v4.98h-5.0zM180.5 470.8h5.0v4.98h-5.0zM295.1 470.8h5.0v4.98h-5.0zM315.1 470.8h5.0v4.98h-5.0zM280.2 475.8h5.0v4.98h-5.0zM295.1 475.8h5.0v4.98h-5.0zM345.0 480.8h5.0v4.98h-5.0zM429.7 480.8h5.0v4.98h-5.0zM185.5 485.8h5.0v4.98h-5.0zM379.9 485.8h5.0v4.98h-5.0zM404.8 485.8h5.0v4.98h-5.0zM185.5 490.7h5.0v4.98h-5.0zM300.1 490.7h5.0v4.98h-5.0zM494.5 495.7h5.0v4.98h-5.0zM175.5 500.7h5.0v4.98h-5.0zM335.0 500.7h5.0v4.98h-5.0zM404.8 500.7h5.0v4.98h-5.0zM325.0 515.7h5.0v4.98h-5.0zM230.3 520.6h5.0v4.98h-5.0zM235.3 525.6h5.0v4.98h-5.0zM245.3 525.6h5.0v4.98h-5.0zM265.2 525.6h5.0v4.98h-5.0zM290.2 525.6h5.0v4.98h-5.0zM305.1 525.6h5.0v4.98h-5.0zM230.3 530.6h5.0v4.98h-5.0zM429.7 530.6h5.0v4.98h-5.0zM484.5 530.6h10.0v4.98h-10.0zM434.7 535.6h5.0v4.98h-5.0zM190.5 540.6h5.0v4.98h-5.0zM419.7 540.6h5.0v4.98h-5.0zM489.5 540.6h5.0v4.98h-5.0zM150.6 545.6h5.0v4.98h-5.0zM185.5 545.6h10.0v4.98h-10.0zM350.0 545.6h5.0v4.98h-5.0zM439.7 545.6h5.0v4.98h-5.0zM469.6 545.6h5.0v4.98h-5.0zM300.1 550.6h5.0v4.98h-5.0zM160.6 560.5h5.0v4.98h-5.0zM384.9 565.5h5.0v4.98h-5.0zM320.1 575.5h5.0v4.98h-5.0zM469.6 580.5h5.0v4.98h-5.0zM200.4 585.4h5.0v4.98h-5.0zM265.2 590.4h5.0v4.98h-5.0zM305.1 590.4h10.0v4.98h-10.0zM494.5 595.4h5.0v4.98h-5.0z" fill="rgb(203,207,207)"/>
<path d="M215.4 266.4h5.0v4.98h-5.0zM325.0 281.4h5.0v4.98h-5.0zM255.3 291.4h5.0v4.98h-5.0zM350.0 291.4h5.0v4.98h-5.0zM175.5 301.3h5.0v4.98h-5.0zM235.3 306.3h5.0v4.98h-5.0zM424.7 351.2h5.0v4.98h-5.0zM379.9 356.2h5.0v4.98h-5.0zM419.7 356.2h5.0v4.98h-5.0zM285.2 361.1h5.0v4.98h-5.0zM300.1 361.1h5.0v4.98h-5.0zM320.1 381.1h5.0v4.98h-5.0zM409.8 440.9h5.0v4.98h-5.0zM404.8 445.9h10.0v4.98h-10.0zM185.5 450.9h5.0v4.98h-5.0zM315.1 460.8h5.0v4.98h-5.0zM195.4 480.8h5.0v4.98h-5.0zM280.2 480.8h10.0v4.98h-10.0zM295.1 480.8h10.0v4.98h-10.0zM434.7 480.8h5.0v4.98h-5.0zM300.1 485.8h5.0v4.98h-5.0zM434.7 485.8h5.0v4.98h-5.0zM404.8 490.7h5.0v4.98h-5.0zM175.5 495.7h5.0v4.98h-5.0zM404.8 495.7h5.0v4.98h-5.0zM270.2 500.7h5.0v4.98h-5.0zM320.1 510.7h5.0v4.98h-5.0zM320.1 515.7h5.0v4.98h-5.0zM320.1 520.6h5.0v4.98h-5.0zM230.3 525.6h5.0v4.98h-5.0zM389.8 525.6h5.0v4.98h-5.0zM419.7 535.6h5.0v4.98h-5.0zM489.5 535.6h5.0v4.98h-5.0zM155.6 545.6h5.0v4.98h-5.0zM150.6 550.6h5.0v4.98h-5.0zM439.7 550.6h5.0v4.98h-5.0zM265.2 585.4h5.0v4.98h-5.0z" fill="rgb(199,203,203)"/>
<rect x="205.2" y="403.1" width="4.95" height="5.00" fill="rgb(190,195,195)"/><rect x="210.1" y="403.1" width="4.95" height="5.00" fill="rgb(180,185,185)"/><rect x="215.1" y="403.1" width="4.95" height="5.00" fill="rgb(175,180,180)"/><rect x="220.0" y="403.1" width="4.95" height="5.00" fill="rgb(190,195,195)"/><rect x="195.3" y="408.1" width="4.95" height="4.90" fill="rgb(205,210,210)"/><rect x="200.3" y="408.1" width="4.95" height="4.90" fill="rgb(200,205,205)"/><rect x="205.2" y="408.1" width="4.95" height="4.90" fill="rgb(160,165,165)"/><rect x="210.1" y="408.1" width="4.95" height="4.90" fill="rgb(95,100,100)"/><rect x="215.1" y="408.1" width="4.95" height="4.90" fill="rgb(95,100,100)"/><rect x="220.0" y="408.1" width="4.95" height="4.90" fill="rgb(135,140,140)"/><rect x="224.9" y="408.1" width="4.95" height="4.90" fill="rgb(175,180,180)"/><rect x="200.3" y="413.0" width="4.95" height="4.90" fill="rgb(150,155,155)"/><rect x="205.2" y="413.0" width="4.95" height="4.90" fill="rgb(50,55,55)"/><rect x="210.1" y="413.0" width="4.95" height="4.90" fill="rgb(10,15,15)"/><rect x="215.1" y="413.0" width="4.95" height="4.90" fill="rgb(20,25,25)"/><rect x="220.0" y="413.0" width="4.95" height="4.90" fill="rgb(95,100,100)"/><rect x="224.9" y="413.0" width="4.95" height="4.90" fill="rgb(180,185,185)"/><rect x="200.3" y="417.9" width="4.95" height="5.00" fill="rgb(150,155,155)"/><rect x="205.2" y="417.9" width="4.95" height="5.00" fill="rgb(75,80,80)"/><rect x="210.1" y="417.9" width="4.95" height="5.00" fill="rgb(30,35,35)"/><rect x="215.1" y="417.9" width="4.95" height="5.00" fill="rgb(55,60,60)"/><rect x="220.0" y="417.9" width="4.95" height="5.00" fill="rgb(100,105,105)"/><rect x="224.9" y="417.9" width="4.95" height="5.00" fill="rgb(130,135,135)"/><rect x="205.2" y="422.9" width="4.95" height="4.90" fill="rgb(165,170,170)"/><rect x="210.1" y="422.9" width="4.95" height="4.90" fill="rgb(165,170,170)"/><rect x="215.1" y="422.9" width="4.95" height="4.90" fill="rgb(180,185,185)"/><rect x="220.0" y="422.9" width="4.95" height="4.90" fill="rgb(180,185,185)"/><rect x="316.1" y="408.1" width="5.10" height="4.90" fill="rgb(185,190,190)"/><rect x="321.2" y="408.1" width="5.10" height="4.90" fill="rgb(150,155,155)"/><rect x="326.8" y="408.1" width="5.10" height="4.90" fill="rgb(165,170,170)"/><rect x="311.2" y="413.0" width="5.10" height="4.90" fill="rgb(185,190,190)"/><rect x="316.1" y="413.0" width="5.10" height="4.90" fill="rgb(30,35,35)"/><rect x="321.2" y="413.0" width="5.10" height="4.90" fill="rgb(10,15,15)"/><rect x="326.8" y="413.0" width="5.10" height="4.90" fill="rgb(35,40,40)"/><rect x="331.8" y="413.0" width="5.10" height="4.90" fill="rgb(180,185,185)"/><rect x="311.2" y="417.9" width="5.10" height="5.00" fill="rgb(195,200,200)"/><rect x="316.1" y="417.9" width="5.10" height="5.00" fill="rgb(80,85,85)"/><rect x="321.2" y="417.9" width="5.10" height="5.00" fill="rgb(15,20,20)"/><rect x="326.8" y="417.9" width="5.10" height="5.00" fill="rgb(35,40,40)"/><rect x="331.8" y="417.9" width="5.10" height="5.00" fill="rgb(170,175,175)"/><rect x="316.1" y="422.9" width="5.10" height="4.80" fill="rgb(185,190,190)"/><rect x="321.2" y="422.9" width="5.10" height="4.80" fill="rgb(160,165,165)"/><rect x="326.8" y="422.9" width="5.10" height="4.80" fill="rgb(180,185,185)"/><rect x="276.1" y="307.0" width="4.95" height="4.90" fill="rgb(175,180,180)"/><rect x="281.2" y="307.0" width="4.95" height="4.90" fill="rgb(135,140,140)"/><rect x="286.0" y="307.0" width="4.95" height="4.90" fill="rgb(160,165,165)"/><rect x="271.1" y="311.9" width="4.95" height="5.00" fill="rgb(185,190,190)"/><rect x="276.1" y="311.9" width="4.95" height="5.00" fill="rgb(50,55,55)"/><rect x="281.2" y="311.9" width="4.95" height="5.00" fill="rgb(5,10,10)"/><rect x="286.0" y="311.9" width="4.95" height="5.00" fill="rgb(95,100,100)"/><rect x="266.2" y="316.9" width="4.95" height="4.90" fill="rgb(200,205,205)"/><rect x="271.1" y="316.9" width="4.95" height="4.90" fill="rgb(130,135,135)"/><rect x="276.1" y="316.9" width="4.95" height="4.90" fill="rgb(15,20,20)"/><rect x="281.2" y="316.9" width="4.95" height="4.90" fill="rgb(10,15,15)"/><rect x="286.0" y="316.9" width="4.95" height="4.90" fill="rgb(65,70,70)"/><rect x="271.1" y="321.8" width="4.95" height="5.00" fill="rgb(180,185,185)"/><rect x="276.1" y="321.8" width="4.95" height="5.00" fill="rgb(130,135,135)"/><rect x="281.2" y="321.8" width="4.95" height="5.00" fill="rgb(90,95,95)"/><rect x="286.0" y="321.8" width="4.95" height="5.00" fill="rgb(175,180,180)"/><rect x="170.0" y="443.0" width="5.00" height="4.90" fill="rgb(165,170,170)"/><rect x="175.1" y="443.0" width="5.00" height="4.90" fill="rgb(150,155,155)"/><rect x="180.1" y="443.0" width="5.00" height="4.90" fill="rgb(190,195,195)"/><rect x="185.1" y="443.0" width="5.00" height="4.90" fill="rgb(200,205,205)"/><rect x="175.1" y="447.9" width="5.00" height="5.00" fill="rgb(150,155,155)"/><rect x="180.1" y="447.9" width="5.00" height="5.00" fill="rgb(185,190,190)"/><rect x="185.1" y="447.9" width="5.00" height="5.00" fill="rgb(185,190,190)"/><rect x="185.1" y="452.9" width="5.00" height="4.90" fill="rgb(185,190,190)"/>
<path d="M268.9 476.5L292.5 453.3M351.5 453L375.6 476.5" stroke="#ff1010" stroke-width="2.5" stroke-linecap="round" fill="none"/>
<path d="M145.60 600.70v-7.10M145.60 246.50v7.10M234.07 600.70v-7.10M234.07 246.50v7.10M322.55 600.70v-7.10M322.55 246.50v7.10M411.02 600.70v-7.10M411.02 246.50v7.10M499.50 600.70v-7.10M499.50 246.50v7.10M163.29 600.70v-3.50M163.29 246.50v3.50M180.99 600.70v-3.50M180.99 246.50v3.50M198.69 600.70v-3.50M198.69 246.50v3.50M216.38 600.70v-3.50M216.38 246.50v3.50M251.77 600.70v-3.50M251.77 246.50v3.50M269.46 600.70v-3.50M269.46 246.50v3.50M287.16 600.70v-3.50M287.16 246.50v3.50M304.86 600.70v-3.50M304.86 246.50v3.50M340.25 600.70v-3.50M340.25 246.50v3.50M357.94 600.70v-3.50M357.94 246.50v3.50M375.63 600.70v-3.50M375.63 246.50v3.50M393.33 600.70v-3.50M393.33 246.50v3.50M428.72 600.70v-3.50M428.72 246.50v3.50M446.41 600.70v-3.50M446.41 246.50v3.50M464.11 600.70v-3.50M464.11 246.50v3.50M481.80 600.70v-3.50M481.80 246.50v3.50M145.60 600.70h7.10M499.50 600.70h-7.10M145.60 512.15h7.10M499.50 512.15h-7.10M145.60 423.60h7.10M499.50 423.60h-7.10M145.60 335.05h7.10M499.50 335.05h-7.10M145.60 246.50h7.10M499.50 246.50h-7.10M145.60 582.99h3.50M499.50 582.99h-3.50M145.60 565.28h3.50M499.50 565.28h-3.50M145.60 547.57h3.50M499.50 547.57h-3.50M145.60 529.86h3.50M499.50 529.86h-3.50M145.60 494.44h3.50M499.50 494.44h-3.50M145.60 476.73h3.50M499.50 476.73h-3.50M145.60 459.02h3.50M499.50 459.02h-3.50M145.60 441.31h3.50M499.50 441.31h-3.50M145.60 405.89h3.50M499.50 405.89h-3.50M145.60 388.18h3.50M499.50 388.18h-3.50M145.60 370.47h3.50M499.50 370.47h-3.50M145.60 352.76h3.50M499.50 352.76h-3.50M145.60 317.34h3.50M499.50 317.34h-3.50M145.60 299.63h3.50M499.50 299.63h-3.50M145.60 281.92h3.50M499.50 281.92h-3.50M145.60 264.21h3.50M499.50 264.21h-3.50" stroke="#000" stroke-width="2.3" fill="none"/><rect x="145.60" y="246.50" width="353.90" height="354.20" fill="none" stroke="#000" stroke-width="2.2"/>
<text transform="translate(164.47,273.60) scale(1.0000,1)" letter-spacing="-0.216" style="font-variant-ligatures:none" font-family='"Liberation Serif", serif' font-weight="bold" font-size="22.10" fill="#000" stroke="#000" stroke-width="0.45" stroke-linejoin="round" >DSS−1</text>
<text transform="translate(101.76,262.60) scale(1.0000,1)" letter-spacing="0.770" style="font-variant-ligatures:none" font-family='"Liberation Sans", sans-serif' font-weight="normal" font-size="24.50" fill="#000" stroke="#000" stroke-width="0.5" stroke-linejoin="round" >1.0</text>
<text transform="translate(100.22,345.00) scale(1.0000,1)" letter-spacing="1.603" style="font-variant-ligatures:none" font-family='"Liberation Sans", sans-serif' font-weight="normal" font-size="24.50" fill="#000" stroke="#000" stroke-width="0.5" stroke-linejoin="round" >0.5</text>
<text transform="translate(100.22,433.30) scale(1.0000,1)" letter-spacing="1.541" style="font-variant-ligatures:none" font-family='"Liberation Sans", sans-serif' font-weight="normal" font-size="24.50" fill="#000" stroke="#000" stroke-width="0.5" stroke-linejoin="round" >0.0</text>
<text transform="translate(83.28,521.70) scale(1.0000,1)" letter-spacing="1.939" style="font-variant-ligatures:none" font-family='"Liberation Sans", sans-serif' font-weight="normal" font-size="24.50" fill="#000" stroke="#000" stroke-width="0.5" stroke-linejoin="round" >−0.5</text>
<text transform="translate(83.28,601.80) scale(1.0000,1)" letter-spacing="1.898" style="font-variant-ligatures:none" font-family='"Liberation Sans", sans-serif' font-weight="normal" font-size="24.50" fill="#000" stroke="#000" stroke-width="0.5" stroke-linejoin="round" >−1.0</text>
<text transform="translate(118.38,634.40) scale(1.0000,1)" letter-spacing="1.898" style="font-variant-ligatures:none" font-family='"Liberation Sans", sans-serif' font-weight="normal" font-size="24.50" fill="#000" stroke="#000" stroke-width="0.5" stroke-linejoin="round" >−1.0</text>
<text transform="translate(206.85,634.40) scale(1.0000,1)" letter-spacing="1.939" style="font-variant-ligatures:none" font-family='"Liberation Sans", sans-serif' font-weight="normal" font-size="24.50" fill="#000" stroke="#000" stroke-width="0.5" stroke-linejoin="round" >−0.5</text>
<text transform="translate(303.92,634.40) scale(1.0000,1)" letter-spacing="1.541" style="font-variant-ligatures:none" font-family='"Liberation Sans", sans-serif' font-weight="normal" font-size="24.50" fill="#000" stroke="#000" stroke-width="0.5" stroke-linejoin="round" >0.0</text>
<text transform="translate(392.39,634.40) scale(1.0000,1)" letter-spacing="1.602" style="font-variant-ligatures:none" font-family='"Liberation Sans", sans-serif' font-weight="normal" font-size="24.50" fill="#000" stroke="#000" stroke-width="0.5" stroke-linejoin="round" >0.5</text>
<text transform="translate(481.21,634.40) scale(1.0000,1)" letter-spacing="0.770" style="font-variant-ligatures:none" font-family='"Liberation Sans", sans-serif' font-weight="normal" font-size="24.50" fill="#000" stroke="#000" stroke-width="0.5" stroke-linejoin="round" >1.0</text>
<text transform="translate(275.72,663.60) scale(1.1000,1)" letter-spacing="2.303" style="font-variant-ligatures:none" font-family='"Liberation Serif", serif' font-weight="normal" font-size="25.50" fill="#000" stroke="#000" stroke-width="0.7" stroke-linejoin="round" >arcmin</text>
<g transform="translate(62,468.4) rotate(-90)"><text transform="translate(-0.98,0.00) scale(1.1000,1)" letter-spacing="2.266" style="font-variant-ligatures:none" font-family='"Liberation Serif", serif' font-weight="normal" font-size="25.50" fill="#000" stroke="#000" stroke-width="0.7" stroke-linejoin="round" >arcmin</text></g>
<path d="M706.20 600.30v-7.30M706.20 236.90v7.30M920.03 600.30v-7.30M920.03 236.90v7.30M1133.87 600.30v-7.30M1133.87 236.90v7.30M1347.70 600.30v-7.30M1347.70 236.90v7.30M620.67 600.30v-3.60M620.67 236.90v3.60M663.43 600.30v-3.60M663.43 236.90v3.60M748.97 600.30v-3.60M748.97 236.90v3.60M791.73 600.30v-3.60M791.73 236.90v3.60M834.50 600.30v-3.60M834.50 236.90v3.60M877.27 600.30v-3.60M877.27 236.90v3.60M962.80 600.30v-3.60M962.80 236.90v3.60M1005.57 600.30v-3.60M1005.57 236.90v3.60M1048.33 600.30v-3.60M1048.33 236.90v3.60M1091.10 600.30v-3.60M1091.10 236.90v3.60M1176.63 600.30v-3.60M1176.63 236.90v3.60M1219.40 600.30v-3.60M1219.40 236.90v3.60M1262.17 600.30v-3.60M1262.17 236.90v3.60M1304.93 600.30v-3.60M1304.93 236.90v3.60M1390.47 600.30v-3.60M1390.47 236.90v3.60M1433.23 600.30v-3.60M1433.23 236.90v3.60M1476.00 600.30v-3.60M1476.00 236.90v3.60M1518.77 600.30v-3.60M1518.77 236.90v3.60M613.00 574.30h18.70M1547.00 574.30h-18.70M613.00 503.37h18.70M1547.00 503.37h-18.70M613.00 432.44h18.70M1547.00 432.44h-18.70M613.00 361.51h18.70M1547.00 361.51h-18.70M613.00 290.58h18.70M1547.00 290.58h-18.70M613.00 595.58h9.30M1547.00 595.58h-9.30M613.00 588.49h9.30M1547.00 588.49h-9.30M613.00 581.39h9.30M1547.00 581.39h-9.30M613.00 567.21h9.30M1547.00 567.21h-9.30M613.00 560.11h9.30M1547.00 560.11h-9.30M613.00 553.02h9.30M1547.00 553.02h-9.30M613.00 545.93h9.30M1547.00 545.93h-9.30M613.00 538.83h9.30M1547.00 538.83h-9.30M613.00 531.74h9.30M1547.00 531.74h-9.30M613.00 524.65h9.30M1547.00 524.65h-9.30M613.00 517.56h9.30M1547.00 517.56h-9.30M613.00 510.46h9.30M1547.00 510.46h-9.30M613.00 496.28h9.30M1547.00 496.28h-9.30M613.00 489.18h9.30M1547.00 489.18h-9.30M613.00 482.09h9.30M1547.00 482.09h-9.30M613.00 475.00h9.30M1547.00 475.00h-9.30M613.00 467.90h9.30M1547.00 467.90h-9.30M613.00 460.81h9.30M1547.00 460.81h-9.30M613.00 453.72h9.30M1547.00 453.72h-9.30M613.00 446.63h9.30M1547.00 446.63h-9.30M613.00 439.53h9.30M1547.00 439.53h-9.30M613.00 425.35h9.30M1547.00 425.35h-9.30M613.00 418.25h9.30M1547.00 418.25h-9.30M613.00 411.16h9.30M1547.00 411.16h-9.30M613.00 404.07h9.30M1547.00 404.07h-9.30M613.00 396.97h9.30M1547.00 396.97h-9.30M613.00 389.88h9.30M1547.00 389.88h-9.30M613.00 382.79h9.30M1547.00 382.79h-9.30M613.00 375.70h9.30M1547.00 375.70h-9.30M613.00 368.60h9.30M1547.00 368.60h-9.30M613.00 354.42h9.30M1547.00 354.42h-9.30M613.00 347.32h9.30M1547.00 347.32h-9.30M613.00 340.23h9.30M1547.00 340.23h-9.30M613.00 333.14h9.30M1547.00 333.14h-9.30M613.00 326.04h9.30M1547.00 326.04h-9.30M613.00 318.95h9.30M1547.00 318.95h-9.30M613.00 311.86h9.30M1547.00 311.86h-9.30M613.00 304.77h9.30M1547.00 304.77h-9.30M613.00 297.67h9.30M1547.00 297.67h-9.30M613.00 283.49h9.30M1547.00 283.49h-9.30M613.00 276.39h9.30M1547.00 276.39h-9.30M613.00 269.30h9.30M1547.00 269.30h-9.30M613.00 262.21h9.30M1547.00 262.21h-9.30M613.00 255.11h9.30M1547.00 255.11h-9.30M613.00 248.02h9.30M1547.00 248.02h-9.30M613.00 240.93h9.30M1547.00 240.93h-9.30" stroke="#000" stroke-width="2.3" fill="none"/><rect x="613.00" y="236.90" width="934.00" height="363.40" fill="none" stroke="#000" stroke-width="2.2"/>
<text transform="translate(589.48,584.80) scale(1.1480,1)" letter-spacing="0.000" style="font-variant-ligatures:none" font-family='"Liberation Sans", sans-serif' font-weight="normal" font-size="24.50" fill="#000" stroke="#000" stroke-width="0.5" stroke-linejoin="round" >0</text>
<text transform="translate(562.36,513.87) scale(1.0000,1)" letter-spacing="0.901" style="font-variant-ligatures:none" font-family='"Liberation Sans", sans-serif' font-weight="normal" font-size="24.50" fill="#000" stroke="#000" stroke-width="0.5" stroke-linejoin="round" >100</text>
<text transform="translate(560.58,442.94) scale(1.0000,1)" letter-spacing="1.795" style="font-variant-ligatures:none" font-family='"Liberation Sans", sans-serif' font-weight="normal" font-size="24.50" fill="#000" stroke="#000" stroke-width="0.5" stroke-linejoin="round" >200</text>
<text transform="translate(560.82,372.01) scale(1.0000,1)" letter-spacing="1.672" style="font-variant-ligatures:none" font-family='"Liberation Sans", sans-serif' font-weight="normal" font-size="24.50" fill="#000" stroke="#000" stroke-width="0.5" stroke-linejoin="round" >300</text>
<text transform="translate(561.31,301.08) scale(1.0000,1)" letter-spacing="1.427" style="font-variant-ligatures:none" font-family='"Liberation Sans", sans-serif' font-weight="normal" font-size="24.50" fill="#000" stroke="#000" stroke-width="0.5" stroke-linejoin="round" >400</text>
<text transform="translate(676.62,635.20) scale(1.0000,1)" letter-spacing="1.423" style="font-variant-ligatures:none" font-family='"Liberation Sans", sans-serif' font-weight="normal" font-size="24.50" fill="#000" stroke="#000" stroke-width="0.5" stroke-linejoin="round" >2000</text>
<text transform="translate(890.46,635.20) scale(1.0000,1)" letter-spacing="1.423" style="font-variant-ligatures:none" font-family='"Liberation Sans", sans-serif' font-weight="normal" font-size="24.50" fill="#000" stroke="#000" stroke-width="0.5" stroke-linejoin="round" >2500</text>
<text transform="translate(1104.54,635.20) scale(1.0000,1)" letter-spacing="1.342" style="font-variant-ligatures:none" font-family='"Liberation Sans", sans-serif' font-weight="normal" font-size="24.50" fill="#000" stroke="#000" stroke-width="0.5" stroke-linejoin="round" >3000</text>
<text transform="translate(1318.37,635.20) scale(1.0000,1)" letter-spacing="1.342" style="font-variant-ligatures:none" font-family='"Liberation Sans", sans-serif' font-weight="normal" font-size="24.50" fill="#000" stroke="#000" stroke-width="0.5" stroke-linejoin="round" >3500</text>
<polyline points="699.00,324.3 700.35,338.9 701.70,325.0 702.00,342.4 703.00,334.9 704.00,342.4 705.00,334.0 705.00,347.5 706.15,338.7 707.30,346.7 707.30,314.3 708.30,335.8 709.30,318.0 710.00,337.2 711.15,322.8 712.30,336.4 713.00,330.0 714.30,345.2 715.00,324.3 716.35,343.8 717.70,329.3 718.30,327.0 719.30,380.3 720.00,331.0 720.30,329.7 721.65,350.0 723.00,333.2 723.70,353.7 724.70,341.7 725.70,355.3 726.30,330.3 727.65,353.0 729.00,331.5 729.70,341.7 731.00,333.5 732.30,343.5 733.00,336.0 734.30,346.2 734.30,328.3 735.43,349.0 736.57,329.5 737.70,345.8 739.00,326.3 740.35,350.9 741.70,330.9 743.00,345.0 743.50,347.2 744.00,351.1 744.50,352.5 745.00,354.9 745.50,356.5 746.00,360.3 746.50,365.1 747.00,365.9 747.60,360.3 748.20,355.0 748.80,347.0 749.26,347.7 749.71,348.2 750.17,348.2 750.63,345.4 751.09,349.8 751.54,349.5 752.00,349.0 752.49,352.8 752.98,352.1 753.46,354.9 753.95,359.3 754.44,362.9 754.92,367.1 755.41,369.5 755.90,372.5 756.37,370.3 756.83,365.4 757.30,363.9 757.77,361.0 758.23,356.2 758.70,357.1 759.17,352.2 759.63,350.2 760.10,345.2 760.58,347.4 761.05,350.4 761.52,354.2 762.00,358.0 762.47,359.4 762.94,362.3 763.41,363.3 763.88,363.8 764.35,364.5 764.82,366.9 765.29,372.7 765.76,368.8 766.24,373.3 766.71,375.4 767.18,371.8 767.65,377.6 768.12,382.7 768.59,375.7 769.06,381.5 769.53,383.7 770.00,385.6 770.50,382.4 771.00,385.1 771.50,382.6 772.00,377.8 772.50,383.2 773.00,380.0 773.55,383.7 774.10,386.4 774.65,389.6 775.20,387.5 775.67,387.2 776.13,385.3 776.60,380.2 777.07,384.2 777.53,379.5 778.00,378.7 778.47,375.2 778.93,374.8 779.40,376.2 779.88,374.5 780.35,379.3 780.83,370.5 781.30,371.3 781.77,375.7 782.25,378.8 782.73,376.2 783.20,374.4 783.68,370.0 784.15,370.5 784.62,377.1 785.10,374.7 785.58,374.2 786.05,380.5 786.52,381.5 787.00,379.0 787.47,381.2 787.93,383.2 788.40,385.5 788.87,390.5 789.33,389.6 789.80,391.1 790.27,393.0 790.73,388.9 791.20,395.0 791.67,397.8 792.13,396.3 792.60,394.4 793.07,387.3 793.53,389.8 794.00,393.2 794.47,385.2 794.93,389.0 795.40,391.6 795.87,384.5 796.33,391.9 796.80,388.3 797.27,385.7 797.73,386.3 798.20,384.7 798.67,389.9 799.13,391.9 799.60,398.2 800.07,396.7 800.53,400.8 801.00,405.4 801.48,406.5 801.96,402.0 802.44,397.8 802.92,401.1 803.40,396.8 803.88,404.7 804.35,403.4 804.82,404.7 805.30,412.4 805.80,410.1 806.30,408.1 806.80,405.8 807.30,408.5 807.80,402.7 808.28,400.1 808.76,406.5 809.24,399.8 809.72,401.3 810.20,405.4 810.68,406.9 811.16,406.4 811.64,405.2 812.12,404.8 812.60,404.6 813.08,402.1 813.55,400.4 814.02,395.4 814.50,393.0 815.00,397.8 815.50,401.0 815.98,401.1 816.47,398.0 816.95,398.6 817.43,396.6 817.92,398.5 818.40,392.0 818.89,392.8 819.38,390.6 819.87,390.7 820.36,391.6 820.85,394.0 821.34,390.5 821.83,392.4 822.32,396.2 822.81,386.1 823.30,391.0 823.78,389.5 824.27,394.9 824.75,396.9 825.23,398.1 825.72,397.9 826.20,400.7 826.68,401.9 827.17,400.2 827.65,397.3 828.13,403.1 828.62,398.5 829.10,395.3 829.58,395.9 830.07,394.9 830.55,394.8 831.03,389.3 831.52,392.3 832.00,393.0 832.48,395.0 832.96,388.2 833.44,390.5 833.92,392.5 834.40,391.5 834.88,392.4 835.36,382.9 835.84,385.8 836.32,385.0 836.80,385.2 837.29,386.6 837.78,387.5 838.27,379.2 838.76,386.8 839.25,379.5 839.74,385.0 840.23,378.7 840.72,383.0 841.21,385.4 841.70,381.8 842.18,386.1 842.65,391.8 843.12,398.2 843.60,400.7 844.08,398.7 844.57,395.6 845.05,397.7 845.53,393.9 846.02,387.8 846.50,386.2 846.99,393.1 847.48,386.9 847.96,394.5 848.45,393.2 848.94,396.3 849.42,399.8 849.91,400.4 850.40,401.7 850.90,400.5 851.40,391.6 851.90,388.8 852.40,390.0 852.88,394.7 853.35,393.4 853.83,396.3 854.30,398.1 854.77,408.7 855.25,410.3 855.73,415.3 856.20,414.3 856.69,409.9 857.18,410.6 857.67,405.7 858.16,409.1 858.64,409.5 859.13,400.9 859.62,405.8 860.11,401.8 860.60,397.8 861.08,399.3 861.56,397.7 862.04,406.7 862.52,405.3 863.00,407.5 863.48,407.1 863.97,410.2 864.45,411.1 864.93,414.4 865.42,409.7 865.90,415.3 866.38,417.0 866.87,417.8 867.35,415.1 867.83,414.8 868.32,419.5 868.80,418.2 869.29,417.6 869.78,416.7 870.27,418.7 870.76,414.1 871.25,409.9 871.74,412.1 872.23,408.1 872.72,413.0 873.21,411.1 873.70,409.5 874.19,407.9 874.68,409.0 875.16,410.6 875.65,408.7 876.14,411.2 876.62,407.9 877.11,410.0 877.60,407.5 878.08,412.2 878.56,413.9 879.04,410.4 879.52,415.2 880.00,410.8 880.48,413.8 880.96,413.6 881.44,421.5 881.92,417.8 882.40,422.0 882.88,419.3 883.36,416.2 883.84,413.8 884.32,409.9 884.80,408.5 885.25,410.5 885.70,415.4 886.15,413.0 886.60,415.5 887.05,418.0 887.50,416.8 887.95,415.9 888.40,418.9 888.85,424.0 889.30,419.5 889.75,423.2 890.20,426.0 890.69,427.0 891.17,425.2 891.66,422.2 892.14,422.7 892.63,420.1 893.11,415.9 893.60,417.2 894.08,415.4 894.56,419.0 895.03,424.1 895.51,422.4 895.99,423.3 896.47,425.2 896.94,425.2 897.42,429.9 897.90,431.8 898.38,428.1 898.87,430.3 899.35,424.4 899.83,428.0 900.32,424.7 900.80,425.0 901.29,420.2 901.78,425.0 902.27,422.1 902.76,417.9 903.25,419.2 903.74,421.0 904.23,418.5 904.72,420.5 905.21,419.6 905.70,417.2 906.19,419.8 906.68,420.1 907.16,423.4 907.65,423.0 908.14,423.6 908.62,419.7 909.11,426.8 909.60,425.9 910.08,428.5 910.57,424.6 911.05,423.9 911.53,428.6 912.02,420.4 912.50,424.0 912.98,427.5 913.45,432.9 913.92,429.2 914.40,433.7 914.90,433.8 915.40,434.8 915.90,429.1 916.40,427.9 916.86,429.5 917.32,430.7 917.79,427.2 918.25,429.4 918.71,430.6 919.17,432.2 919.63,430.7 920.10,430.8 920.56,429.4 921.02,431.3 921.48,434.4 921.94,433.1 922.40,431.4 922.87,431.8 923.33,438.1 923.79,437.0 924.25,436.3 924.71,431.4 925.18,437.1 925.64,437.2 926.10,436.6 926.56,440.5 927.02,437.8 927.47,436.9 927.93,438.4 928.39,433.4 928.85,439.8 929.31,438.4 929.76,436.3 930.22,440.9 930.68,442.1 931.14,435.2 931.59,437.0 932.05,439.2 932.51,439.1 932.97,438.0 933.43,436.9 933.88,443.2 934.34,441.6 934.80,439.5 935.28,437.7 935.76,438.3 936.24,445.9 936.72,445.2 937.20,447.9 937.68,446.5 938.16,443.7 938.64,447.0 939.12,443.3 939.60,448.2 940.09,445.7 940.57,446.4 941.06,446.9 941.54,443.3 942.03,443.8 942.51,444.2 943.00,442.4 943.50,445.8 944.00,449.0 944.50,450.2 944.95,451.0 945.41,450.3 945.86,453.1 946.31,451.9 946.77,450.3 947.22,451.1 947.67,452.9 948.13,453.1 948.58,454.0 949.03,454.1 949.49,454.8 949.94,454.5 950.39,452.5 950.85,456.5 951.30,456.0 951.76,458.6 952.23,457.6 952.69,456.5 953.16,458.3 953.62,455.5 954.09,453.9 954.55,458.4 955.01,457.8 955.48,459.5 955.94,458.3 956.41,457.9 956.87,458.9 957.34,461.6 957.80,460.5 958.28,460.6 958.77,460.3 959.25,461.3 959.73,462.9 960.22,463.4 960.70,463.4 961.18,462.7 961.67,463.1 962.15,461.6 962.63,460.1 963.12,459.8 963.60,458.5 964.08,460.6 964.56,460.6 965.04,461.2 965.52,459.9 966.00,461.5 966.49,461.0 966.98,461.5 967.47,460.2 967.96,461.1 968.44,460.4 968.93,460.3 969.42,459.0 969.91,460.4 970.40,458.5 970.88,460.4 971.37,459.9 971.85,461.0 972.33,463.4 972.82,462.3 973.30,463.4 973.77,464.4 974.25,464.8 974.73,464.2 975.20,464.4 975.69,464.6 976.18,467.0 976.66,468.4 977.15,470.2 977.64,471.2 978.12,471.7 978.61,473.6 979.10,474.1 979.58,475.1 980.06,475.2 980.54,475.6 981.02,475.8 981.50,477.1 981.98,476.1 982.46,476.9 982.94,477.9 983.42,477.1 983.90,478.9 984.39,478.3 984.88,476.9 985.37,477.7 985.86,478.6 986.35,478.4 986.84,477.7 987.33,477.4 987.82,476.1 988.31,478.8 988.80,477.0 989.27,478.4 989.75,479.9 990.23,479.1 990.70,480.8 991.19,480.6 991.68,479.2 992.17,481.5 992.66,481.6 993.15,479.2 993.64,480.8 994.13,481.4 994.62,479.2 995.11,479.2 995.60,480.8 996.09,480.4 996.58,481.2 997.06,481.0 997.55,482.8 998.04,483.5 998.52,484.3 999.01,484.8 999.50,484.7 999.98,485.4 1000.45,484.5 1000.92,481.7 1001.40,481.9 1001.88,480.8 1002.35,480.2 1002.82,480.4 1003.30,479.9 1003.79,480.3 1004.27,481.1 1004.76,479.6 1005.25,480.3 1005.74,481.7 1006.23,481.9 1006.71,482.2 1007.20,482.8 1007.68,482.1 1008.17,480.8 1008.65,481.5 1009.13,480.5 1009.62,479.5 1010.10,478.3 1010.58,478.1 1011.07,476.0 1011.55,476.1 1012.03,476.3 1012.52,474.3 1013.00,475.0 1013.49,474.9 1013.98,474.5 1014.47,472.9 1014.96,473.6 1015.45,473.3 1015.94,473.7 1016.43,473.5 1016.92,472.6 1017.41,471.6 1017.90,472.1 1018.35,471.6 1018.81,471.4 1019.26,471.7 1019.71,471.0 1020.16,469.8 1020.62,468.9 1021.07,469.4 1021.52,468.7 1021.98,468.1 1022.43,468.6 1022.88,467.9 1023.34,468.1 1023.79,468.1 1024.24,467.0 1024.69,468.6 1025.15,466.4 1025.60,466.3 1026.09,467.9 1026.58,467.8 1027.07,469.3 1027.56,467.4 1028.05,469.0 1028.54,470.6 1029.03,471.6 1029.52,473.3 1030.01,472.7 1030.50,473.1 1030.99,475.0 1031.47,475.2 1031.96,476.1 1032.45,476.4 1032.94,476.6 1033.43,477.9 1033.91,477.2 1034.40,478.9 1034.89,479.1 1035.37,476.3 1035.86,476.6 1036.34,477.2 1036.83,474.6 1037.31,473.9 1037.80,473.1 1038.29,471.6 1038.77,468.1 1039.26,464.9 1039.74,463.3 1040.23,460.8 1040.71,458.4 1041.20,455.6 1041.68,449.5 1042.17,444.6 1042.65,438.8 1043.13,432.3 1043.62,426.6 1044.10,420.7 1044.58,416.3 1045.07,412.8 1045.55,407.8 1046.03,404.2 1046.52,399.5 1047.00,395.5 1047.48,397.3 1047.97,400.0 1048.45,402.3 1048.93,403.9 1049.42,405.7 1049.90,408.1 1050.38,412.6 1050.87,416.5 1051.35,420.8 1051.83,425.5 1052.32,429.5 1052.80,433.3 1053.29,437.5 1053.77,442.9 1054.26,446.6 1054.74,451.4 1055.23,455.3 1055.71,459.9 1056.20,464.4 1056.69,465.7 1057.17,468.9 1057.66,470.7 1058.14,471.6 1058.63,473.5 1059.11,475.3 1059.60,477.9 1060.09,479.0 1060.57,478.9 1061.06,479.7 1061.55,480.2 1062.04,480.8 1062.53,480.3 1063.01,482.2 1063.50,482.8 1063.95,481.5 1064.41,483.5 1064.86,484.4 1065.31,485.0 1065.76,484.5 1066.22,484.1 1066.67,485.8 1067.12,485.4 1067.58,488.3 1068.03,487.7 1068.48,487.1 1068.94,487.0 1069.39,487.1 1069.84,487.3 1070.29,488.4 1070.75,489.6 1071.20,489.6 1071.71,490.9 1072.23,491.6 1072.74,493.8 1073.26,491.4 1073.77,492.9 1074.29,495.7 1074.80,494.2 1075.30,493.5 1075.80,496.5 1076.30,498.8 1076.80,500.2 1077.30,501.5 1077.87,500.6 1078.43,498.4 1079.00,497.3 1079.46,498.2 1079.92,498.3 1080.38,499.6 1080.83,496.9 1081.29,498.5 1081.75,500.0 1082.21,499.2 1082.67,499.6 1083.12,502.1 1083.58,501.0 1084.04,503.0 1084.50,502.7 1084.96,503.8 1085.42,503.5 1085.88,503.9 1086.33,503.4 1086.79,502.0 1087.25,503.9 1087.71,504.7 1088.17,503.7 1088.62,504.5 1089.08,505.7 1089.54,503.9 1090.00,505.2 1090.60,508.0 1091.20,511.4 1091.80,511.2 1092.35,510.0 1092.90,510.3 1093.45,509.4 1094.00,509.0 1094.46,511.0 1094.93,509.7 1095.39,510.5 1095.85,508.7 1096.32,509.7 1096.78,509.9 1097.25,507.9 1097.71,511.9 1098.17,511.4 1098.64,508.3 1099.10,510.6 1099.56,511.3 1100.01,510.0 1100.47,510.3 1100.92,510.0 1101.38,508.3 1101.84,509.1 1102.29,510.2 1102.75,508.4 1103.21,507.8 1103.66,507.3 1104.12,507.2 1104.58,508.2 1105.03,509.0 1105.49,507.8 1105.94,507.4 1106.40,507.0 1106.86,508.5 1107.32,506.9 1107.78,506.9 1108.25,508.0 1108.71,508.1 1109.17,507.0 1109.63,507.1 1110.09,508.3 1110.55,508.4 1111.02,507.4 1111.48,508.4 1111.94,508.2 1112.40,508.8 1112.87,509.2 1113.34,508.9 1113.81,509.0 1114.28,508.9 1114.75,510.1 1115.22,510.4 1115.68,509.2 1116.15,510.2 1116.62,509.0 1117.09,509.8 1117.56,510.4 1118.03,511.1 1118.50,510.0 1119.00,510.1 1119.50,510.7 1120.00,511.4 1120.50,510.4 1121.00,512.0 1121.50,511.8 1122.00,511.1 1122.50,511.7 1123.00,510.3 1123.50,509.6 1124.00,510.8 1124.50,510.6 1124.96,511.0 1125.41,510.6 1125.87,512.0 1126.33,511.3 1126.78,511.3 1127.24,512.3 1127.69,511.0 1128.15,511.9 1128.61,512.6 1129.06,513.5 1129.52,512.9 1129.97,513.5 1130.43,513.0 1130.89,514.0 1131.34,515.3 1131.80,514.2 1132.27,514.0 1132.74,516.2 1133.22,514.6 1133.69,515.4 1134.16,515.9 1134.63,516.8 1135.11,515.4 1135.58,515.2 1136.05,517.4 1136.52,517.9 1136.99,518.0 1137.47,519.3 1137.94,518.3 1138.41,518.7 1138.88,519.5 1139.36,519.4 1139.83,520.7 1140.30,519.7 1140.76,519.0 1141.22,520.0 1141.67,519.2 1142.13,521.5 1142.59,520.9 1143.05,522.2 1143.51,523.2 1143.97,522.1 1144.42,522.2 1144.88,522.3 1145.34,522.4 1145.80,523.3 1146.27,522.6 1146.74,523.4 1147.21,522.7 1147.69,522.5 1148.16,522.1 1148.63,522.7 1149.10,522.2 1149.57,521.5 1150.04,521.9 1150.51,521.0 1150.99,520.1 1151.46,521.8 1151.93,520.9 1152.40,520.3 1152.86,519.8 1153.31,521.5 1153.77,521.1 1154.23,519.8 1154.68,522.5 1155.14,521.7 1155.59,522.3 1156.05,522.0 1156.51,521.9 1156.96,521.0 1157.42,523.1 1157.88,522.6 1158.33,522.5 1158.79,523.2 1159.24,523.2 1159.70,523.3 1160.17,523.7 1160.64,522.8 1161.11,523.0 1161.58,521.5 1162.05,522.5 1162.52,523.3 1162.98,523.7 1163.45,522.3 1163.92,522.4 1164.39,523.6 1164.86,522.0 1165.33,522.8 1165.80,522.1 1166.27,523.6 1166.73,522.6 1167.20,523.8 1167.67,522.5 1168.13,523.5 1168.60,523.5 1169.07,523.9 1169.53,524.9 1170.00,525.6 1170.47,524.0 1170.93,524.3 1171.40,525.3 1171.87,524.4 1172.33,525.8 1172.80,526.1 1173.27,525.7 1173.73,526.6 1174.20,526.4 1174.67,525.0 1175.15,526.6 1175.62,524.7 1176.10,525.2 1176.58,525.1 1177.05,525.0 1177.53,525.8 1178.00,525.0 1178.45,524.8 1178.91,524.2 1179.36,524.6 1179.82,525.1 1180.27,523.7 1180.72,523.7 1181.18,524.1 1181.63,523.1 1182.08,521.6 1182.54,523.7 1182.99,523.4 1183.45,520.4 1183.90,521.5 1184.37,521.4 1184.84,521.7 1185.31,522.1 1185.78,521.8 1186.25,521.1 1186.72,520.4 1187.18,521.3 1187.65,521.9 1188.12,520.2 1188.59,520.2 1189.06,521.0 1189.53,519.5 1190.00,520.9 1190.48,521.0 1190.96,521.2 1191.44,522.1 1191.92,521.6 1192.40,521.7 1192.88,522.4 1193.36,523.0 1193.84,522.8 1194.32,523.6 1194.80,523.9 1195.26,524.6 1195.71,525.1 1196.17,525.6 1196.62,523.8 1197.08,524.2 1197.54,523.2 1197.99,526.1 1198.45,524.3 1198.91,524.9 1199.36,525.5 1199.82,524.2 1200.27,525.7 1200.73,525.4 1201.19,524.2 1201.64,525.9 1202.10,525.8 1202.56,526.6 1203.02,524.2 1203.49,526.1 1203.95,525.5 1204.41,525.6 1204.87,525.4 1205.33,526.0 1205.80,524.7 1206.26,525.4 1206.72,524.3 1207.18,525.1 1207.64,523.7 1208.10,524.2 1208.57,525.5 1209.03,524.4 1209.49,523.8 1209.95,522.9 1210.41,523.0 1210.88,523.7 1211.34,524.1 1211.80,523.3 1212.40,522.8 1213.00,522.1 1213.60,520.9 1214.12,521.3 1214.63,522.7 1215.15,521.8 1215.67,522.1 1216.18,523.6 1216.70,523.3 1217.17,523.6 1217.64,523.5 1218.12,523.5 1218.59,523.9 1219.06,524.8 1219.53,524.8 1220.01,523.8 1220.48,525.3 1220.95,525.3 1221.42,524.6 1221.89,526.2 1222.37,525.6 1222.84,525.7 1223.31,526.8 1223.78,527.4 1224.26,526.1 1224.73,527.1 1225.20,527.0 1225.65,526.5 1226.11,528.7 1226.56,527.0 1227.01,528.4 1227.47,527.2 1227.92,528.4 1228.37,529.3 1228.83,526.6 1229.28,527.8 1229.73,528.7 1230.18,528.4 1230.64,528.1 1231.09,530.1 1231.54,528.9 1232.00,527.7 1232.45,529.8 1232.90,527.9 1233.36,530.2 1233.81,529.0 1234.26,529.7 1234.72,530.7 1235.17,530.0 1235.62,528.9 1236.08,528.8 1236.53,531.2 1236.98,531.0 1237.43,529.9 1237.89,531.3 1238.34,531.2 1238.79,531.4 1239.25,529.7 1239.70,531.2 1240.17,531.0 1240.64,532.0 1241.12,531.9 1241.59,532.0 1242.06,530.0 1242.53,531.5 1243.01,531.8 1243.48,532.9 1243.95,530.8 1244.42,531.3 1244.89,531.6 1245.37,532.3 1245.84,531.3 1246.31,532.6 1246.78,531.1 1247.26,531.9 1247.73,531.4 1248.20,531.8 1248.66,532.1 1249.12,531.6 1249.59,531.1 1250.05,533.3 1250.51,532.9 1250.97,532.4 1251.43,533.2 1251.90,534.0 1252.36,532.6 1252.82,533.5 1253.28,534.2 1253.74,534.3 1254.20,533.8 1254.67,532.9 1255.13,535.4 1255.59,534.9 1256.05,534.8 1256.51,534.8 1256.98,535.4 1257.44,535.0 1257.90,535.5 1258.43,534.7 1258.95,534.8 1259.47,534.9 1260.00,535.3 1260.47,534.8 1260.94,534.4 1261.41,535.8 1261.88,534.3 1262.35,535.8 1262.82,534.5 1263.29,535.6 1263.76,536.4 1264.24,535.5 1264.71,534.7 1265.18,535.3 1265.65,535.4 1266.12,534.0 1266.59,534.8 1267.06,535.4 1267.53,534.9 1268.00,535.3 1268.48,535.5 1268.96,536.2 1269.45,536.4 1269.93,536.7 1270.41,536.7 1270.89,536.2 1271.37,536.6 1271.85,536.5 1272.34,536.7 1272.82,537.0 1273.30,537.3 1273.75,535.8 1274.20,536.6 1274.65,536.6 1275.10,535.7 1275.55,536.2 1276.00,536.4 1276.45,535.7 1276.90,537.0 1277.35,534.0 1277.80,535.0 1278.25,533.5 1278.70,534.7 1279.17,535.7 1279.64,536.6 1280.11,534.0 1280.59,535.7 1281.06,536.3 1281.53,535.9 1282.00,536.8 1282.47,535.2 1282.94,537.5 1283.41,537.3 1283.89,537.3 1284.36,537.1 1284.83,538.3 1285.30,538.0 1285.76,537.7 1286.22,538.2 1286.69,537.7 1287.15,536.7 1287.61,538.1 1288.07,538.3 1288.53,538.7 1289.00,537.5 1289.46,538.2 1289.92,538.7 1290.38,538.4 1290.84,539.2 1291.31,539.7 1291.77,537.6 1292.23,537.0 1292.69,539.0 1293.16,539.6 1293.62,539.1 1294.08,539.1 1294.54,538.0 1295.00,538.0 1295.47,539.2 1295.93,537.9 1296.39,537.2 1296.85,537.8 1297.31,540.0 1297.78,540.1 1298.24,538.1 1298.70,538.7 1299.35,539.0 1300.00,540.5 1300.46,540.7 1300.92,540.0 1301.37,541.6 1301.83,540.6 1302.29,539.9 1302.75,541.8 1303.21,540.3 1303.66,541.0 1304.12,540.9 1304.58,540.7 1305.04,541.2 1305.49,540.5 1305.95,539.6 1306.41,539.7 1306.87,540.2 1307.33,540.6 1307.78,541.2 1308.24,541.3 1308.70,541.3 1309.16,541.3 1309.62,540.5 1310.08,539.3 1310.54,538.9 1311.00,537.6 1311.46,538.4 1311.92,538.5 1312.38,538.0 1312.84,537.1 1313.30,536.7 1313.80,537.0 1314.30,538.2 1314.80,537.9 1315.30,538.9 1315.80,539.2 1316.30,539.3 1316.80,540.6 1317.30,540.0 1317.76,539.7 1318.22,540.0 1318.68,539.8 1319.15,539.9 1319.61,541.8 1320.07,542.1 1320.53,540.9 1320.99,541.5 1321.45,542.0 1321.92,541.9 1322.38,542.3 1322.84,540.6 1323.30,541.2 1323.76,542.1 1324.22,543.0 1324.68,542.1 1325.15,541.5 1325.61,542.0 1326.07,541.9 1326.53,541.9 1326.99,543.8 1327.45,542.3 1327.92,542.9 1328.38,544.4 1328.84,544.1 1329.30,543.3 1329.78,543.6 1330.26,542.8 1330.74,543.6 1331.21,544.5 1331.69,543.8 1332.17,544.3 1332.65,543.4 1333.13,543.7 1333.61,543.1 1334.09,543.6 1334.56,544.3 1335.04,542.2 1335.52,543.3 1336.00,543.3 1336.50,543.7 1337.00,543.2 1337.50,543.6 1338.00,544.6 1338.50,545.6 1339.00,544.8 1339.50,544.8 1340.00,544.7 1340.46,543.5 1340.92,546.1 1341.38,544.8 1341.83,544.8 1342.29,543.9 1342.75,544.8 1343.21,544.0 1343.67,544.9 1344.13,545.2 1344.59,544.9 1345.04,545.1 1345.50,544.3 1345.96,546.1 1346.42,544.5 1346.88,543.6 1347.34,544.9 1347.80,544.5 1348.26,544.3 1348.71,544.8 1349.17,545.3 1349.63,544.2 1350.09,545.0 1350.55,546.3 1351.01,545.7 1351.47,545.1 1351.92,545.3 1352.38,545.2 1352.84,545.2 1353.30,545.3 1353.76,545.9 1354.22,545.3 1354.69,544.0 1355.15,545.5 1355.61,544.9 1356.07,546.1 1356.53,545.2 1357.00,545.8 1357.46,547.1 1357.92,545.0 1358.38,545.0 1358.84,544.8 1359.31,544.5 1359.77,544.6 1360.23,546.3 1360.69,545.6 1361.16,544.7 1361.62,545.0 1362.08,546.7 1362.54,545.7 1363.00,546.0 1363.47,546.6 1363.93,547.5 1364.39,547.9 1364.85,547.3 1365.31,546.7 1365.78,546.7 1366.24,548.0 1366.70,546.7 1367.17,547.9 1367.64,546.7 1368.11,547.5 1368.59,547.5 1369.06,547.5 1369.53,547.2 1370.00,546.7 1370.47,547.4 1370.94,546.8 1371.41,549.1 1371.89,548.7 1372.36,547.5 1372.83,549.6 1373.30,548.7 1373.78,549.3 1374.26,547.1 1374.74,549.8 1375.21,548.9 1375.69,549.6 1376.17,547.2 1376.65,548.4 1377.13,548.2 1377.61,548.0 1378.09,547.8 1378.56,548.4 1379.04,546.3 1379.52,546.4 1380.00,547.3 1380.47,546.3 1380.93,547.0 1381.40,547.0 1381.86,547.8 1382.33,547.8 1382.79,547.7 1383.26,547.2 1383.72,547.4 1384.19,548.6 1384.65,548.5 1385.12,548.0 1385.58,547.8 1386.05,549.3 1386.51,547.7 1386.98,548.7 1387.44,549.2 1387.91,548.1 1388.37,549.0 1388.84,547.6 1389.30,549.3 1389.77,548.7 1390.23,547.4 1390.70,548.7 1391.22,550.4 1391.74,550.4 1392.26,553.3 1392.78,553.0 1393.30,554.7 1393.75,554.5 1394.20,554.7 1394.65,554.1 1395.10,554.4 1395.55,553.7 1396.00,554.0 1396.45,554.3 1396.90,553.6 1397.35,553.5 1397.80,551.7 1398.25,553.8 1398.70,552.7 1399.16,552.6 1399.63,551.1 1400.10,552.4 1400.56,552.5 1401.03,552.8 1401.49,551.1 1401.95,552.9 1402.42,551.5 1402.88,552.9 1403.35,551.2 1403.82,551.7 1404.28,550.8 1404.75,550.1 1405.21,551.7 1405.67,551.4 1406.14,551.7 1406.61,551.1 1407.07,549.8 1407.54,548.9 1408.00,550.0 1408.46,549.5 1408.92,549.6 1409.38,549.5 1409.85,550.6 1410.31,550.5 1410.77,550.1 1411.23,550.5 1411.69,550.3 1412.15,550.6 1412.62,551.1 1413.08,551.3 1413.54,550.1 1414.00,549.5 1414.46,551.8 1414.92,550.8 1415.38,551.7 1415.85,549.6 1416.31,550.6 1416.77,551.0 1417.23,549.9 1417.69,550.7 1418.15,551.7 1418.62,552.0 1419.08,552.4 1419.54,550.6 1420.00,551.3 1420.46,550.3 1420.93,551.9 1421.39,552.3 1421.86,551.8 1422.33,550.8 1422.79,552.5 1423.25,552.6 1423.72,552.5 1424.18,551.8 1424.65,552.5 1425.12,553.0 1425.58,552.1 1426.05,551.2 1426.51,553.0 1426.97,553.2 1427.44,552.9 1427.90,553.7 1428.37,552.6 1428.84,553.1 1429.30,553.3 1429.77,553.0 1430.23,553.6 1430.70,554.4 1431.16,552.9 1431.63,554.4 1432.09,554.1 1432.56,553.5 1433.02,553.3 1433.49,554.2 1433.95,552.6 1434.42,552.6 1434.88,551.8 1435.35,552.9 1435.81,553.5 1436.28,552.9 1436.74,552.7 1437.21,552.2 1437.67,552.4 1438.14,551.1 1438.60,553.0 1439.07,551.8 1439.53,551.2 1440.00,552.0 1440.45,550.3 1440.90,549.1 1441.35,549.3 1441.80,548.3 1442.25,545.4 1442.70,545.3 1443.22,546.0 1443.74,546.0 1444.26,544.9 1444.78,544.2 1445.30,545.3 1445.75,546.0 1446.20,547.3 1446.65,549.3 1447.10,550.0 1447.55,550.1 1448.00,552.7 1448.50,553.1 1449.00,552.0 1449.50,554.1 1450.00,552.8 1450.50,553.4 1451.00,553.5 1451.50,554.0 1452.00,554.7 1452.48,555.6 1452.96,555.3 1453.44,555.0 1453.91,554.7 1454.39,553.3 1454.87,554.0 1455.35,553.9 1455.83,553.5 1456.31,554.6 1456.79,553.6 1457.26,553.6 1457.74,553.3 1458.22,552.6 1458.70,554.0 1459.30,552.0 1459.80,553.5 1460.30,555.0 1460.80,555.1 1461.30,556.0" fill="none" stroke="#000" stroke-width="1.9" stroke-linejoin="miter" stroke-miterlimit="2"/>
<path d="M635.4 262.1H722.6" stroke="#000" stroke-width="3.5"/>
<path d="M635.4 286.2H722.6" stroke="#ff1a1a" stroke-width="3.2" stroke-dasharray="12 5.8 3.3 5.6"/>
<path d="M635.4 310.2H722.6" stroke="#000" stroke-width="3.2" stroke-dasharray="3.2 5.15"/>
<path d="M635.4 334.5H722.6" stroke="#1a5cff" stroke-width="3.2"/>
<text transform="translate(736.94,268.50) scale(1.1200,1)" letter-spacing="1.305" style="font-variant-ligatures:none" font-family='"Liberation Serif", serif' font-weight="normal" font-size="21.50" fill="#000" stroke="#000" stroke-width="0.7" stroke-linejoin="round" >obj.</text>
<text transform="translate(737.18,293.00) scale(1.1200,1)" letter-spacing="1.577" style="font-variant-ligatures:none" font-family='"Liberation Serif", serif' font-weight="normal" font-size="21.50" fill="#000" stroke="#000" stroke-width="0.7" stroke-linejoin="round" >fit</text>
<text transform="translate(737.42,317.00) scale(1.1200,1)" letter-spacing="2.165" style="font-variant-ligatures:none" font-family='"Liberation Serif", serif' font-weight="normal" font-size="21.50" fill="#000" stroke="#000" stroke-width="0.7" stroke-linejoin="round" >res.</text>
<text transform="translate(737.44,341.00) scale(1.1200,1)" letter-spacing="1.693" style="font-variant-ligatures:none" font-family='"Liberation Serif", serif' font-weight="normal" font-size="21.50" fill="#000" stroke="#000" stroke-width="0.7" stroke-linejoin="round" >emi.</text>
<text transform="translate(1038.30,663.80) scale(1.0066,1)" letter-spacing="0.000" style="font-variant-ligatures:none" font-family='"Liberation Serif", serif' font-weight="normal" font-size="23.80" fill="#000" stroke="#000" stroke-width="0.7" stroke-linejoin="round" >λ</text><text transform="translate(1050.59,669.50) scale(1.0000,1)" letter-spacing="1.275" style="font-variant-ligatures:none" font-family='"Liberation Serif", serif' font-weight="bold" font-size="16.30" fill="#000" stroke="#000" stroke-width="0.45" stroke-linejoin="round" >r.f.</text><text transform="translate(1084.88,665.75) scale(1.0245,1)" letter-spacing="0.000" style="font-variant-ligatures:none" font-family='"Liberation Serif", serif' font-weight="normal" font-size="31.50" fill="#000" stroke="#000" stroke-width="0.7" stroke-linejoin="round" >[</text><text transform="translate(1096.21,663.80) scale(0.7040,1)" letter-spacing="0.000" style="font-variant-ligatures:none" font-family='"Liberation Serif", serif' font-weight="bold" font-size="27.00" fill="#000" stroke="#000" stroke-width="0.45" stroke-linejoin="round" >Å</text><text transform="translate(1109.60,665.75) scale(1.0018,1)" letter-spacing="0.000" style="font-variant-ligatures:none" font-family='"Liberation Serif", serif' font-weight="normal" font-size="31.50" fill="#000" stroke="#000" stroke-width="0.7" stroke-linejoin="round" >]</text>
<g transform="translate(541.4,570.6) rotate(-90)"><text transform="translate(-0.72,0.00) scale(0.9200,1)" letter-spacing="0.017" style="font-variant-ligatures:none" font-family='"Liberation Serif", serif' font-weight="normal" font-size="26.00" fill="#000" stroke="#000" stroke-width="0.7" stroke-linejoin="round" >flux</text><text transform="translate(47.61,2.15) scale(1.1515,1)" letter-spacing="0.000" style="font-variant-ligatures:none" font-family='"Liberation Serif", serif' font-weight="normal" font-size="30.00" fill="#000" stroke="#000" stroke-width="0.7" stroke-linejoin="round" >[</text><text transform="translate(57.82,0.00) scale(1.1200,1)" letter-spacing="2.429" style="font-variant-ligatures:none" font-family='"Liberation Serif", serif' font-weight="normal" font-size="26.00" fill="#000" stroke="#000" stroke-width="0.7" stroke-linejoin="round" >10</text><text transform="translate(90.75,-12.60) scale(1.1200,1)" letter-spacing="-0.616" style="font-variant-ligatures:none" font-family='"Liberation Serif", serif' font-weight="normal" font-size="15.20" fill="#000" stroke="#000" stroke-width="0.7" stroke-linejoin="round" >−17</text><text transform="translate(121.44,0.00) scale(1.1200,1)" letter-spacing="0.605" style="font-variant-ligatures:none" font-family='"Liberation Serif", serif' font-weight="normal" font-size="26.00" fill="#000" stroke="#000" stroke-width="0.7" stroke-linejoin="round" >erg</text><text transform="translate(171.42,0.00) scale(1.2332,1)" letter-spacing="0.000" style="font-variant-ligatures:none" font-family='"Liberation Serif", serif' font-weight="normal" font-size="26.00" fill="#000" stroke="#000" stroke-width="0.7" stroke-linejoin="round" >s</text><text transform="translate(184.45,-12.60) scale(1.1200,1)" letter-spacing="1.109" style="font-variant-ligatures:none" font-family='"Liberation Serif", serif' font-weight="normal" font-size="15.20" fill="#000" stroke="#000" stroke-width="0.7" stroke-linejoin="round" >−1</text><text transform="translate(204.24,0.00) scale(1.1200,1)" letter-spacing="2.616" style="font-variant-ligatures:none" font-family='"Liberation Serif", serif' font-weight="normal" font-size="26.00" fill="#000" stroke="#000" stroke-width="0.7" stroke-linejoin="round" >cm</text><text transform="translate(244.65,-12.60) scale(1.1200,1)" letter-spacing="0.140" style="font-variant-ligatures:none" font-family='"Liberation Serif", serif' font-weight="normal" font-size="15.20" fill="#000" stroke="#000" stroke-width="0.7" stroke-linejoin="round" >−2</text><text transform="translate(265.40,0.00) scale(0.7355,1)" letter-spacing="0.000" style="font-variant-ligatures:none" font-family='"Liberation Serif", serif' font-weight="normal" font-size="27.00" fill="#000" stroke="#000" stroke-width="0.7" stroke-linejoin="round" >Å</text><text transform="translate(275.15,-12.60) scale(1.1200,1)" letter-spacing="-2.016" style="font-variant-ligatures:none" font-family='"Liberation Serif", serif' font-weight="normal" font-size="15.20" fill="#000" stroke="#000" stroke-width="0.7" stroke-linejoin="round" >−1</text><text transform="translate(293.23,2.15) scale(1.0222,1)" letter-spacing="0.000" style="font-variant-ligatures:none" font-family='"Liberation Serif", serif' font-weight="normal" font-size="30.00" fill="#000" stroke="#000" stroke-width="0.7" stroke-linejoin="round" >]</text></g>
<path d="M192.50 1105.80v-8.50M192.50 680.80v8.50M286.90 1105.80v-8.50M286.90 680.80v8.50M381.30 1105.80v-8.50M381.30 680.80v8.50M475.70 1105.80v-8.50M475.70 680.80v8.50M145.30 1105.80v-4.25M145.30 680.80v4.25M168.90 1105.80v-4.25M168.90 680.80v4.25M216.10 1105.80v-4.25M216.10 680.80v4.25M239.70 1105.80v-4.25M239.70 680.80v4.25M263.30 1105.80v-4.25M263.30 680.80v4.25M310.50 1105.80v-4.25M310.50 680.80v4.25M334.10 1105.80v-4.25M334.10 680.80v4.25M357.70 1105.80v-4.25M357.70 680.80v4.25M404.90 1105.80v-4.25M404.90 680.80v4.25M428.50 1105.80v-4.25M428.50 680.80v4.25M452.10 1105.80v-4.25M452.10 680.80v4.25M499.30 1105.80v-4.25M499.30 680.80v4.25M145.30 1070.44h7.10M499.30 1070.44h-7.10M145.30 987.90h7.10M499.30 987.90h-7.10M145.30 905.36h7.10M499.30 905.36h-7.10M145.30 822.82h7.10M499.30 822.82h-7.10M145.30 740.28h7.10M499.30 740.28h-7.10M145.30 1091.08h3.50M499.30 1091.08h-3.50M145.30 1049.81h3.50M499.30 1049.81h-3.50M145.30 1029.17h3.50M499.30 1029.17h-3.50M145.30 1008.53h3.50M499.30 1008.53h-3.50M145.30 967.26h3.50M499.30 967.26h-3.50M145.30 946.63h3.50M499.30 946.63h-3.50M145.30 926.00h3.50M499.30 926.00h-3.50M145.30 884.73h3.50M499.30 884.73h-3.50M145.30 864.09h3.50M499.30 864.09h-3.50M145.30 843.45h3.50M499.30 843.45h-3.50M145.30 802.18h3.50M499.30 802.18h-3.50M145.30 781.55h3.50M499.30 781.55h-3.50M145.30 760.91h3.50M499.30 760.91h-3.50M145.30 719.64h3.50M499.30 719.64h-3.50M145.30 699.01h3.50M499.30 699.01h-3.50" stroke="#000" stroke-width="2.3" fill="none"/><rect x="145.30" y="680.80" width="354.00" height="425.00" fill="none" stroke="#000" stroke-width="2.2"/>
<text transform="translate(90.68,1080.94) scale(1.0000,1)" letter-spacing="2.577" style="font-variant-ligatures:none" font-family='"Liberation Sans", sans-serif' font-weight="normal" font-size="24.50" fill="#000" stroke="#000" stroke-width="0.5" stroke-linejoin="round" >−20</text>
<text transform="translate(121.88,998.40) scale(1.1480,1)" letter-spacing="0.000" style="font-variant-ligatures:none" font-family='"Liberation Sans", sans-serif' font-weight="normal" font-size="24.50" fill="#000" stroke="#000" stroke-width="0.5" stroke-linejoin="round" >0</text>
<text transform="translate(107.38,915.86) scale(1.0000,1)" letter-spacing="2.788" style="font-variant-ligatures:none" font-family='"Liberation Sans", sans-serif' font-weight="normal" font-size="24.50" fill="#000" stroke="#000" stroke-width="0.5" stroke-linejoin="round" >20</text>
<text transform="translate(108.11,833.32) scale(1.0000,1)" letter-spacing="2.053" style="font-variant-ligatures:none" font-family='"Liberation Sans", sans-serif' font-weight="normal" font-size="24.50" fill="#000" stroke="#000" stroke-width="0.5" stroke-linejoin="round" >40</text>
<text transform="translate(107.38,750.78) scale(1.0000,1)" letter-spacing="2.788" style="font-variant-ligatures:none" font-family='"Liberation Sans", sans-serif' font-weight="normal" font-size="24.50" fill="#000" stroke="#000" stroke-width="0.5" stroke-linejoin="round" >60</text>
<text transform="translate(163.17,1140.60) scale(1.0000,1)" letter-spacing="1.342" style="font-variant-ligatures:none" font-family='"Liberation Sans", sans-serif' font-weight="normal" font-size="24.50" fill="#000" stroke="#000" stroke-width="0.5" stroke-linejoin="round" >3400</text>
<text transform="translate(257.57,1140.60) scale(1.0000,1)" letter-spacing="1.342" style="font-variant-ligatures:none" font-family='"Liberation Sans", sans-serif' font-weight="normal" font-size="24.50" fill="#000" stroke="#000" stroke-width="0.5" stroke-linejoin="round" >3600</text>
<text transform="translate(351.97,1140.60) scale(1.0000,1)" letter-spacing="1.342" style="font-variant-ligatures:none" font-family='"Liberation Sans", sans-serif' font-weight="normal" font-size="24.50" fill="#000" stroke="#000" stroke-width="0.5" stroke-linejoin="round" >3800</text>
<text transform="translate(446.86,1140.60) scale(1.0000,1)" letter-spacing="1.178" style="font-variant-ligatures:none" font-family='"Liberation Sans", sans-serif' font-weight="normal" font-size="24.50" fill="#000" stroke="#000" stroke-width="0.5" stroke-linejoin="round" >4000</text>
<polyline points="145.50,751.0 146.40,762.0 147.25,764.3 148.10,766.3 148.93,765.1 149.77,757.9 150.60,756.1 151.65,765.5 152.70,771.4 153.75,765.8 154.80,761.2 155.67,765.5 156.53,774.0 157.40,775.6 158.45,768.7 159.50,761.2 160.50,759.0 161.50,758.2 162.50,754.8 163.35,763.8 164.20,768.8 165.50,758.2 166.32,760.4 167.15,763.7 167.98,763.2 168.80,767.2 169.65,771.6 170.50,777.3 171.35,776.1 172.20,774.1 173.05,773.4 173.90,772.8 174.75,774.8 175.60,774.8 176.45,776.2 177.30,777.6 178.15,780.0 179.00,781.6 179.87,777.2 180.73,777.5 181.60,775.6 182.45,779.9 183.30,783.3 184.13,782.6 184.97,777.8 185.80,777.3 187.10,795.2 188.15,789.4 189.20,785.0 190.35,782.8 191.50,787.0 192.50,791.5 193.50,797.7 194.33,792.2 195.17,790.7 196.00,790.9 196.83,788.9 197.67,779.8 198.50,779.0 199.35,777.7 200.20,774.1 201.05,770.2 201.90,768.0 202.75,773.9 203.60,779.1 204.45,785.1 205.30,788.4 206.40,787.5 207.50,787.5 208.47,789.0 209.43,791.6 210.40,795.2 211.26,794.3 212.12,796.8 212.98,796.3 213.84,800.4 214.70,799.4 215.53,798.5 216.37,802.0 217.20,806.2 218.07,806.2 218.93,806.4 219.80,811.3 220.70,813.3 221.60,805.8 222.50,807.3 223.40,805.7 224.30,808.4 225.20,801.2 226.10,803.2 226.95,810.4 227.80,813.8 228.85,810.0 229.90,808.7 230.76,810.0 231.62,810.6 232.48,814.4 233.34,812.9 234.20,816.4 235.03,815.4 235.87,815.3 236.70,813.8 237.65,816.6 238.60,809.8 239.55,815.2 240.50,812.1 241.80,822.3 242.67,821.7 243.53,816.9 244.40,815.5 245.23,818.0 246.07,818.7 246.90,821.5 247.75,825.6 248.60,824.4 249.45,824.9 250.30,826.5 251.15,824.8 252.00,823.6 252.85,822.4 253.70,821.5 254.54,822.2 255.38,829.1 256.22,824.9 257.06,827.1 257.90,832.5 258.90,828.1 259.90,823.8 260.90,819.8 261.90,826.4 262.90,831.3 263.90,837.6 264.74,837.0 265.59,837.4 266.43,838.2 267.27,835.3 268.11,835.1 268.96,838.6 269.80,835.0 270.73,834.1 271.65,829.6 272.57,832.7 273.50,827.7 274.70,832.2 275.90,833.9 276.85,829.6 277.80,827.3 279.40,835.5 280.38,834.0 281.35,837.2 282.32,835.8 283.30,837.9 284.10,836.3 284.90,836.2 285.70,837.9 286.50,841.0 287.30,839.4 288.80,847.3 289.20,859.0 290.20,865.7 291.20,874.0 292.15,869.4 293.10,870.0 294.30,860.6 295.27,861.4 296.25,859.9 297.23,860.9 298.20,859.0 299.20,856.8 300.20,850.4 301.13,848.0 302.07,845.9 303.00,844.1 303.90,847.4 304.80,848.9 305.70,854.3 306.70,848.0 307.70,839.4 308.80,855.1 310.00,848.8 310.80,852.8 311.60,852.3 312.40,853.1 313.20,854.7 314.00,856.7 314.90,852.7 315.80,850.0 316.70,848.8 317.56,848.6 318.42,848.3 319.28,849.5 320.14,847.9 321.00,851.2 322.20,861.0 323.23,856.8 324.27,851.4 325.30,846.5 326.16,848.6 327.02,851.5 327.88,858.7 328.74,864.8 329.60,866.9 330.80,857.4 332.00,850.4 333.00,857.8 334.00,866.9 335.10,855.9 336.02,855.3 336.93,857.8 337.85,855.5 338.77,859.2 339.68,857.4 340.60,858.3 342.20,829.2 343.00,821.4 343.95,818.7 344.90,812.8 345.70,812.9 346.50,812.4 347.30,812.8 348.10,825.3 348.50,848.1 349.65,850.6 350.80,858.3 351.87,862.3 352.93,868.3 354.00,874.0 354.89,875.3 355.77,874.6 356.66,873.1 357.54,875.1 358.43,876.2 359.31,874.3 360.20,874.7 361.20,864.1 362.20,855.1 363.40,866.1 364.20,880.2" fill="none" stroke="#000" stroke-width="1.9" stroke-linejoin="miter" stroke-miterlimit="2"/>
<text transform="translate(280.40,1169.30) scale(1.0066,1)" letter-spacing="0.000" style="font-variant-ligatures:none" font-family='"Liberation Serif", serif' font-weight="normal" font-size="23.80" fill="#000" stroke="#000" stroke-width="0.7" stroke-linejoin="round" >λ</text><text transform="translate(292.69,1175.00) scale(1.0000,1)" letter-spacing="1.275" style="font-variant-ligatures:none" font-family='"Liberation Serif", serif' font-weight="bold" font-size="16.30" fill="#000" stroke="#000" stroke-width="0.45" stroke-linejoin="round" >r.f.</text><text transform="translate(326.98,1171.25) scale(1.0245,1)" letter-spacing="0.000" style="font-variant-ligatures:none" font-family='"Liberation Serif", serif' font-weight="normal" font-size="31.50" fill="#000" stroke="#000" stroke-width="0.7" stroke-linejoin="round" >[</text><text transform="translate(338.31,1169.30) scale(0.7040,1)" letter-spacing="0.000" style="font-variant-ligatures:none" font-family='"Liberation Serif", serif' font-weight="bold" font-size="27.00" fill="#000" stroke="#000" stroke-width="0.45" stroke-linejoin="round" >Å</text><text transform="translate(351.70,1171.25) scale(1.0018,1)" letter-spacing="0.000" style="font-variant-ligatures:none" font-family='"Liberation Serif", serif' font-weight="normal" font-size="31.50" fill="#000" stroke="#000" stroke-width="0.7" stroke-linejoin="round" >]</text>
<g transform="translate(73.6,1047.0) rotate(-90)"><text transform="translate(-0.72,0.00) scale(0.9200,1)" letter-spacing="0.017" style="font-variant-ligatures:none" font-family='"Liberation Serif", serif' font-weight="normal" font-size="26.00" fill="#000" stroke="#000" stroke-width="0.7" stroke-linejoin="round" >flux</text><text transform="translate(47.61,2.15) scale(1.1515,1)" letter-spacing="0.000" style="font-variant-ligatures:none" font-family='"Liberation Serif", serif' font-weight="normal" font-size="30.00" fill="#000" stroke="#000" stroke-width="0.7" stroke-linejoin="round" >[</text><text transform="translate(57.82,0.00) scale(1.1200,1)" letter-spacing="2.429" style="font-variant-ligatures:none" font-family='"Liberation Serif", serif' font-weight="normal" font-size="26.00" fill="#000" stroke="#000" stroke-width="0.7" stroke-linejoin="round" >10</text><text transform="translate(90.75,-12.60) scale(1.1200,1)" letter-spacing="-0.616" style="font-variant-ligatures:none" font-family='"Liberation Serif", serif' font-weight="normal" font-size="15.20" fill="#000" stroke="#000" stroke-width="0.7" stroke-linejoin="round" >−17</text><text transform="translate(121.44,0.00) scale(1.1200,1)" letter-spacing="0.605" style="font-variant-ligatures:none" font-family='"Liberation Serif", serif' font-weight="normal" font-size="26.00" fill="#000" stroke="#000" stroke-width="0.7" stroke-linejoin="round" >erg</text><text transform="translate(171.42,0.00) scale(1.2332,1)" letter-spacing="0.000" style="font-variant-ligatures:none" font-family='"Liberation Serif", serif' font-weight="normal" font-size="26.00" fill="#000" stroke="#000" stroke-width="0.7" stroke-linejoin="round" >s</text><text transform="translate(184.45,-12.60) scale(1.1200,1)" letter-spacing="1.109" style="font-variant-ligatures:none" font-family='"Liberation Serif", serif' font-weight="normal" font-size="15.20" fill="#000" stroke="#000" stroke-width="0.7" stroke-linejoin="round" >−1</text><text transform="translate(204.24,0.00) scale(1.1200,1)" letter-spacing="2.616" style="font-variant-ligatures:none" font-family='"Liberation Serif", serif' font-weight="normal" font-size="26.00" fill="#000" stroke="#000" stroke-width="0.7" stroke-linejoin="round" >cm</text><text transform="translate(244.65,-12.60) scale(1.1200,1)" letter-spacing="0.140" style="font-variant-ligatures:none" font-family='"Liberation Serif", serif' font-weight="normal" font-size="15.20" fill="#000" stroke="#000" stroke-width="0.7" stroke-linejoin="round" >−2</text><text transform="translate(265.40,0.00) scale(0.7355,1)" letter-spacing="0.000" style="font-variant-ligatures:none" font-family='"Liberation Serif", serif' font-weight="normal" font-size="27.00" fill="#000" stroke="#000" stroke-width="0.7" stroke-linejoin="round" >Å</text><text transform="translate(275.15,-12.60) scale(1.1200,1)" letter-spacing="-2.016" style="font-variant-ligatures:none" font-family='"Liberation Serif", serif' font-weight="normal" font-size="15.20" fill="#000" stroke="#000" stroke-width="0.7" stroke-linejoin="round" >−1</text><text transform="translate(293.23,2.15) scale(1.0222,1)" letter-spacing="0.000" style="font-variant-ligatures:none" font-family='"Liberation Serif", serif' font-weight="normal" font-size="30.00" fill="#000" stroke="#000" stroke-width="0.7" stroke-linejoin="round" >]</text></g>
<path d="M643.40 1105.90v-8.50M643.40 680.80v8.50M731.80 1105.90v-8.50M731.80 680.80v8.50M820.20 1105.90v-8.50M820.20 680.80v8.50M908.60 1105.90v-8.50M908.60 680.80v8.50M599.20 1105.90v-4.25M599.20 680.80v4.25M608.04 1105.90v-4.25M608.04 680.80v4.25M616.88 1105.90v-4.25M616.88 680.80v4.25M625.72 1105.90v-4.25M625.72 680.80v4.25M634.56 1105.90v-4.25M634.56 680.80v4.25M652.24 1105.90v-4.25M652.24 680.80v4.25M661.08 1105.90v-4.25M661.08 680.80v4.25M669.92 1105.90v-4.25M669.92 680.80v4.25M678.76 1105.90v-4.25M678.76 680.80v4.25M687.60 1105.90v-4.25M687.60 680.80v4.25M696.44 1105.90v-4.25M696.44 680.80v4.25M705.28 1105.90v-4.25M705.28 680.80v4.25M714.12 1105.90v-4.25M714.12 680.80v4.25M722.96 1105.90v-4.25M722.96 680.80v4.25M740.64 1105.90v-4.25M740.64 680.80v4.25M749.48 1105.90v-4.25M749.48 680.80v4.25M758.32 1105.90v-4.25M758.32 680.80v4.25M767.16 1105.90v-4.25M767.16 680.80v4.25M776.00 1105.90v-4.25M776.00 680.80v4.25M784.84 1105.90v-4.25M784.84 680.80v4.25M793.68 1105.90v-4.25M793.68 680.80v4.25M802.52 1105.90v-4.25M802.52 680.80v4.25M811.36 1105.90v-4.25M811.36 680.80v4.25M829.04 1105.90v-4.25M829.04 680.80v4.25M837.88 1105.90v-4.25M837.88 680.80v4.25M846.72 1105.90v-4.25M846.72 680.80v4.25M855.56 1105.90v-4.25M855.56 680.80v4.25M864.40 1105.90v-4.25M864.40 680.80v4.25M873.24 1105.90v-4.25M873.24 680.80v4.25M882.08 1105.90v-4.25M882.08 680.80v4.25M890.92 1105.90v-4.25M890.92 680.80v4.25M899.76 1105.90v-4.25M899.76 680.80v4.25M917.44 1105.90v-4.25M917.44 680.80v4.25M926.28 1105.90v-4.25M926.28 680.80v4.25M935.12 1105.90v-4.25M935.12 680.80v4.25M943.96 1105.90v-4.25M943.96 680.80v4.25M952.80 1105.90v-4.25M952.80 680.80v4.25M599.20 1105.90h7.10M952.80 1105.90h-7.10M599.20 1020.88h7.10M952.80 1020.88h-7.10M599.20 935.86h7.10M952.80 935.86h-7.10M599.20 850.84h7.10M952.80 850.84h-7.10M599.20 765.82h7.10M952.80 765.82h-7.10M599.20 680.80h7.10M952.80 680.80h-7.10M599.20 1084.64h3.50M952.80 1084.64h-3.50M599.20 1063.39h3.50M952.80 1063.39h-3.50M599.20 1042.13h3.50M952.80 1042.13h-3.50M599.20 999.62h3.50M952.80 999.62h-3.50M599.20 978.37h3.50M952.80 978.37h-3.50M599.20 957.12h3.50M952.80 957.12h-3.50M599.20 914.61h3.50M952.80 914.61h-3.50M599.20 893.35h3.50M952.80 893.35h-3.50M599.20 872.10h3.50M952.80 872.10h-3.50M599.20 829.59h3.50M952.80 829.59h-3.50M599.20 808.33h3.50M952.80 808.33h-3.50M599.20 787.08h3.50M952.80 787.08h-3.50M599.20 744.56h3.50M952.80 744.56h-3.50M599.20 723.31h3.50M952.80 723.31h-3.50M599.20 702.05h3.50M952.80 702.05h-3.50" stroke="#000" stroke-width="2.3" fill="none"/><rect x="599.20" y="680.80" width="353.60" height="425.10" fill="none" stroke="#000" stroke-width="2.2"/>
<text transform="translate(575.48,1105.90) scale(1.1480,1)" letter-spacing="0.000" style="font-variant-ligatures:none" font-family='"Liberation Sans", sans-serif' font-weight="normal" font-size="24.50" fill="#000" stroke="#000" stroke-width="0.5" stroke-linejoin="round" >0</text>
<text transform="translate(575.12,1031.38) scale(1.2110,1)" letter-spacing="0.000" style="font-variant-ligatures:none" font-family='"Liberation Sans", sans-serif' font-weight="normal" font-size="24.50" fill="#000" stroke="#000" stroke-width="0.5" stroke-linejoin="round" >2</text>
<text transform="translate(576.07,946.36) scale(1.0911,1)" letter-spacing="0.000" style="font-variant-ligatures:none" font-family='"Liberation Sans", sans-serif' font-weight="normal" font-size="24.50" fill="#000" stroke="#000" stroke-width="0.5" stroke-linejoin="round" >4</text>
<text transform="translate(575.15,861.34) scale(1.1850,1)" letter-spacing="0.000" style="font-variant-ligatures:none" font-family='"Liberation Sans", sans-serif' font-weight="normal" font-size="24.50" fill="#000" stroke="#000" stroke-width="0.5" stroke-linejoin="round" >6</text>
<text transform="translate(575.31,776.32) scale(1.1724,1)" letter-spacing="0.000" style="font-variant-ligatures:none" font-family='"Liberation Sans", sans-serif' font-weight="normal" font-size="24.50" fill="#000" stroke="#000" stroke-width="0.5" stroke-linejoin="round" >8</text>
<text transform="translate(562.76,697.60) scale(1.0000,1)" letter-spacing="1.000" style="font-variant-ligatures:none" font-family='"Liberation Sans", sans-serif' font-weight="normal" font-size="24.50" fill="#000" stroke="#000" stroke-width="0.5" stroke-linejoin="round" >10</text>
<text transform="translate(614.56,1140.60) scale(1.0000,1)" letter-spacing="1.178" style="font-variant-ligatures:none" font-family='"Liberation Sans", sans-serif' font-weight="normal" font-size="24.50" fill="#000" stroke="#000" stroke-width="0.5" stroke-linejoin="round" >4700</text>
<text transform="translate(702.96,1140.60) scale(1.0000,1)" letter-spacing="1.178" style="font-variant-ligatures:none" font-family='"Liberation Sans", sans-serif' font-weight="normal" font-size="24.50" fill="#000" stroke="#000" stroke-width="0.5" stroke-linejoin="round" >4800</text>
<text transform="translate(791.36,1140.60) scale(1.0000,1)" letter-spacing="1.178" style="font-variant-ligatures:none" font-family='"Liberation Sans", sans-serif' font-weight="normal" font-size="24.50" fill="#000" stroke="#000" stroke-width="0.5" stroke-linejoin="round" >4900</text>
<text transform="translate(879.27,1140.60) scale(1.0000,1)" letter-spacing="1.342" style="font-variant-ligatures:none" font-family='"Liberation Sans", sans-serif' font-weight="normal" font-size="24.50" fill="#000" stroke="#000" stroke-width="0.5" stroke-linejoin="round" >5000</text>
<text transform="translate(734.90,1168.60) scale(1.0066,1)" letter-spacing="0.000" style="font-variant-ligatures:none" font-family='"Liberation Serif", serif' font-weight="normal" font-size="23.80" fill="#000" stroke="#000" stroke-width="0.7" stroke-linejoin="round" >λ</text><text transform="translate(747.19,1174.30) scale(1.0000,1)" letter-spacing="1.275" style="font-variant-ligatures:none" font-family='"Liberation Serif", serif' font-weight="bold" font-size="16.30" fill="#000" stroke="#000" stroke-width="0.45" stroke-linejoin="round" >r.f.</text><text transform="translate(781.48,1170.55) scale(1.0245,1)" letter-spacing="0.000" style="font-variant-ligatures:none" font-family='"Liberation Serif", serif' font-weight="normal" font-size="31.50" fill="#000" stroke="#000" stroke-width="0.7" stroke-linejoin="round" >[</text><text transform="translate(792.81,1168.60) scale(0.7040,1)" letter-spacing="0.000" style="font-variant-ligatures:none" font-family='"Liberation Serif", serif' font-weight="bold" font-size="27.00" fill="#000" stroke="#000" stroke-width="0.45" stroke-linejoin="round" >Å</text><text transform="translate(806.20,1170.55) scale(1.0018,1)" letter-spacing="0.000" style="font-variant-ligatures:none" font-family='"Liberation Serif", serif' font-weight="normal" font-size="31.50" fill="#000" stroke="#000" stroke-width="0.7" stroke-linejoin="round" >]</text>
<path d="M1100.72 1106.00v-8.50M1100.72 680.80v8.50M1197.76 1106.00v-8.50M1197.76 680.80v8.50M1294.80 1106.00v-8.50M1294.80 680.80v8.50M1391.84 1106.00v-8.50M1391.84 680.80v8.50M1488.88 1106.00v-8.50M1488.88 680.80v8.50M1052.20 1106.00v-4.25M1052.20 680.80v4.25M1061.90 1106.00v-4.25M1061.90 680.80v4.25M1071.61 1106.00v-4.25M1071.61 680.80v4.25M1081.31 1106.00v-4.25M1081.31 680.80v4.25M1091.02 1106.00v-4.25M1091.02 680.80v4.25M1110.42 1106.00v-4.25M1110.42 680.80v4.25M1120.13 1106.00v-4.25M1120.13 680.80v4.25M1129.83 1106.00v-4.25M1129.83 680.80v4.25M1139.54 1106.00v-4.25M1139.54 680.80v4.25M1149.24 1106.00v-4.25M1149.24 680.80v4.25M1158.94 1106.00v-4.25M1158.94 680.80v4.25M1168.65 1106.00v-4.25M1168.65 680.80v4.25M1178.35 1106.00v-4.25M1178.35 680.80v4.25M1188.05 1106.00v-4.25M1188.05 680.80v4.25M1207.46 1106.00v-4.25M1207.46 680.80v4.25M1217.17 1106.00v-4.25M1217.17 680.80v4.25M1226.87 1106.00v-4.25M1226.87 680.80v4.25M1236.57 1106.00v-4.25M1236.57 680.80v4.25M1246.28 1106.00v-4.25M1246.28 680.80v4.25M1255.98 1106.00v-4.25M1255.98 680.80v4.25M1265.69 1106.00v-4.25M1265.69 680.80v4.25M1275.39 1106.00v-4.25M1275.39 680.80v4.25M1285.09 1106.00v-4.25M1285.09 680.80v4.25M1304.50 1106.00v-4.25M1304.50 680.80v4.25M1314.21 1106.00v-4.25M1314.21 680.80v4.25M1323.91 1106.00v-4.25M1323.91 680.80v4.25M1333.61 1106.00v-4.25M1333.61 680.80v4.25M1343.32 1106.00v-4.25M1343.32 680.80v4.25M1353.02 1106.00v-4.25M1353.02 680.80v4.25M1362.73 1106.00v-4.25M1362.73 680.80v4.25M1372.43 1106.00v-4.25M1372.43 680.80v4.25M1382.13 1106.00v-4.25M1382.13 680.80v4.25M1401.54 1106.00v-4.25M1401.54 680.80v4.25M1411.25 1106.00v-4.25M1411.25 680.80v4.25M1420.95 1106.00v-4.25M1420.95 680.80v4.25M1430.65 1106.00v-4.25M1430.65 680.80v4.25M1440.36 1106.00v-4.25M1440.36 680.80v4.25M1450.06 1106.00v-4.25M1450.06 680.80v4.25M1459.76 1106.00v-4.25M1459.76 680.80v4.25M1469.47 1106.00v-4.25M1469.47 680.80v4.25M1479.17 1106.00v-4.25M1479.17 680.80v4.25M1498.58 1106.00v-4.25M1498.58 680.80v4.25M1508.28 1106.00v-4.25M1508.28 680.80v4.25M1517.99 1106.00v-4.25M1517.99 680.80v4.25M1527.69 1106.00v-4.25M1527.69 680.80v4.25M1537.40 1106.00v-4.25M1537.40 680.80v4.25M1547.10 1106.00v-4.25M1547.10 680.80v4.25M1052.20 1106.00h9.90M1547.10 1106.00h-9.90M1052.20 1020.96h9.90M1547.10 1020.96h-9.90M1052.20 935.92h9.90M1547.10 935.92h-9.90M1052.20 850.88h9.90M1547.10 850.88h-9.90M1052.20 765.84h9.90M1547.10 765.84h-9.90M1052.20 680.80h9.90M1547.10 680.80h-9.90M1052.20 1084.74h4.95M1547.10 1084.74h-4.95M1052.20 1063.48h4.95M1547.10 1063.48h-4.95M1052.20 1042.22h4.95M1547.10 1042.22h-4.95M1052.20 999.70h4.95M1547.10 999.70h-4.95M1052.20 978.44h4.95M1547.10 978.44h-4.95M1052.20 957.18h4.95M1547.10 957.18h-4.95M1052.20 914.66h4.95M1547.10 914.66h-4.95M1052.20 893.40h4.95M1547.10 893.40h-4.95M1052.20 872.14h4.95M1547.10 872.14h-4.95M1052.20 829.62h4.95M1547.10 829.62h-4.95M1052.20 808.36h4.95M1547.10 808.36h-4.95M1052.20 787.10h4.95M1547.10 787.10h-4.95M1052.20 744.58h4.95M1547.10 744.58h-4.95M1052.20 723.32h4.95M1547.10 723.32h-4.95M1052.20 702.06h4.95M1547.10 702.06h-4.95" stroke="#000" stroke-width="2.3" fill="none"/><rect x="1052.20" y="680.80" width="494.90" height="425.20" fill="none" stroke="#000" stroke-width="2.2"/>
<text transform="translate(1028.78,1106.00) scale(1.1480,1)" letter-spacing="0.000" style="font-variant-ligatures:none" font-family='"Liberation Sans", sans-serif' font-weight="normal" font-size="24.50" fill="#000" stroke="#000" stroke-width="0.5" stroke-linejoin="round" >0</text>
<text transform="translate(1028.42,1031.46) scale(1.2110,1)" letter-spacing="0.000" style="font-variant-ligatures:none" font-family='"Liberation Sans", sans-serif' font-weight="normal" font-size="24.50" fill="#000" stroke="#000" stroke-width="0.5" stroke-linejoin="round" >2</text>
<text transform="translate(1029.37,946.42) scale(1.0911,1)" letter-spacing="0.000" style="font-variant-ligatures:none" font-family='"Liberation Sans", sans-serif' font-weight="normal" font-size="24.50" fill="#000" stroke="#000" stroke-width="0.5" stroke-linejoin="round" >4</text>
<text transform="translate(1028.45,861.38) scale(1.1850,1)" letter-spacing="0.000" style="font-variant-ligatures:none" font-family='"Liberation Sans", sans-serif' font-weight="normal" font-size="24.50" fill="#000" stroke="#000" stroke-width="0.5" stroke-linejoin="round" >6</text>
<text transform="translate(1028.61,776.34) scale(1.1724,1)" letter-spacing="0.000" style="font-variant-ligatures:none" font-family='"Liberation Sans", sans-serif' font-weight="normal" font-size="24.50" fill="#000" stroke="#000" stroke-width="0.5" stroke-linejoin="round" >8</text>
<text transform="translate(1016.06,698.00) scale(1.0000,1)" letter-spacing="1.000" style="font-variant-ligatures:none" font-family='"Liberation Sans", sans-serif' font-weight="normal" font-size="24.50" fill="#000" stroke="#000" stroke-width="0.5" stroke-linejoin="round" >10</text>
<text transform="translate(1071.14,1140.60) scale(1.0000,1)" letter-spacing="1.423" style="font-variant-ligatures:none" font-family='"Liberation Sans", sans-serif' font-weight="normal" font-size="24.50" fill="#000" stroke="#000" stroke-width="0.5" stroke-linejoin="round" >6300</text>
<text transform="translate(1168.18,1140.60) scale(1.0000,1)" letter-spacing="1.423" style="font-variant-ligatures:none" font-family='"Liberation Sans", sans-serif' font-weight="normal" font-size="24.50" fill="#000" stroke="#000" stroke-width="0.5" stroke-linejoin="round" >6400</text>
<text transform="translate(1265.22,1140.60) scale(1.0000,1)" letter-spacing="1.423" style="font-variant-ligatures:none" font-family='"Liberation Sans", sans-serif' font-weight="normal" font-size="24.50" fill="#000" stroke="#000" stroke-width="0.5" stroke-linejoin="round" >6500</text>
<text transform="translate(1362.26,1140.60) scale(1.0000,1)" letter-spacing="1.423" style="font-variant-ligatures:none" font-family='"Liberation Sans", sans-serif' font-weight="normal" font-size="24.50" fill="#000" stroke="#000" stroke-width="0.5" stroke-linejoin="round" >6600</text>
<text transform="translate(1459.30,1140.60) scale(1.0000,1)" letter-spacing="1.423" style="font-variant-ligatures:none" font-family='"Liberation Sans", sans-serif' font-weight="normal" font-size="24.50" fill="#000" stroke="#000" stroke-width="0.5" stroke-linejoin="round" >6700</text>
<text transform="translate(1258.40,1169.10) scale(1.0066,1)" letter-spacing="0.000" style="font-variant-ligatures:none" font-family='"Liberation Serif", serif' font-weight="normal" font-size="23.80" fill="#000" stroke="#000" stroke-width="0.7" stroke-linejoin="round" >λ</text><text transform="translate(1270.69,1174.80) scale(1.0000,1)" letter-spacing="1.275" style="font-variant-ligatures:none" font-family='"Liberation Serif", serif' font-weight="bold" font-size="16.30" fill="#000" stroke="#000" stroke-width="0.45" stroke-linejoin="round" >r.f.</text><text transform="translate(1304.98,1171.05) scale(1.0245,1)" letter-spacing="0.000" style="font-variant-ligatures:none" font-family='"Liberation Serif", serif' font-weight="normal" font-size="31.50" fill="#000" stroke="#000" stroke-width="0.7" stroke-linejoin="round" >[</text><text transform="translate(1316.31,1169.10) scale(0.7040,1)" letter-spacing="0.000" style="font-variant-ligatures:none" font-family='"Liberation Serif", serif' font-weight="bold" font-size="27.00" fill="#000" stroke="#000" stroke-width="0.45" stroke-linejoin="round" >Å</text><text transform="translate(1329.70,1171.05) scale(1.0018,1)" letter-spacing="0.000" style="font-variant-ligatures:none" font-family='"Liberation Serif", serif' font-weight="normal" font-size="31.50" fill="#000" stroke="#000" stroke-width="0.7" stroke-linejoin="round" >]</text>
</svg>
</body></html>
